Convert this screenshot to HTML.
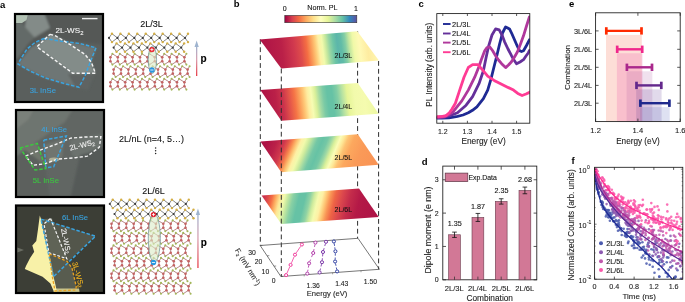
<!DOCTYPE html>
<html><head><meta charset="utf-8"><style>
html,body{margin:0;padding:0;background:#fff;}
svg{display:block;will-change:transform;}
text{font-family:"Liberation Sans", sans-serif;}
</style></head><body>
<svg width="685" height="302" viewBox="0 0 685 302" style='font-family:"Liberation Sans", sans-serif'>
<rect width="685" height="302" fill="#fff"/>
<text x="0.00" y="7.60" font-size="9.5" text-anchor="start" fill="#000" font-weight="bold" >a</text>
<text x="233.80" y="7.00" font-size="9.5" text-anchor="start" fill="#000" font-weight="bold" >b</text>
<text x="418.60" y="6.90" font-size="9.5" text-anchor="start" fill="#000" font-weight="bold" >c</text>
<text x="421.80" y="165.10" font-size="9.5" text-anchor="start" fill="#000" font-weight="bold" >d</text>
<text x="569.00" y="7.00" font-size="9.5" text-anchor="start" fill="#000" font-weight="bold" >e</text>
<text x="571.50" y="163.80" font-size="9.5" text-anchor="start" fill="#000" font-weight="bold" >f</text>
<defs>
<clipPath id="ph1"><rect x="15" y="14" width="88" height="88"/></clipPath>
<clipPath id="ph2"><rect x="16" y="110" width="88" height="87"/></clipPath>
<clipPath id="ph3"><rect x="16" y="205.5" width="88" height="87.5"/></clipPath>
<linearGradient id="arrg" x1="0" y1="1" x2="0" y2="0"><stop offset="0" stop-color="#e8404a"/><stop offset="0.55" stop-color="#d9a0b0"/><stop offset="1" stop-color="#9fb4cf"/></linearGradient>
</defs>
<defs><filter id="blr" x="-10%" y="-10%" width="120%" height="120%"><feGaussianBlur stdDeviation="1.3"/></filter><filter id="blr2" x="-30%" y="-30%" width="160%" height="160%"><feGaussianBlur stdDeviation="0.6"/></filter></defs>
<g clip-path="url(#ph1)">
<rect x="14" y="13" width="90" height="90" fill="#5a5f5d"/>
<g filter="url(#blr)">
<polygon points="10.00,10.00 110.00,10.00 110.00,45.00 60.00,40.00 44.00,38.00 18.00,61.00 10.00,66.00" fill="#545957"/>
<polygon points="10.00,22.00 22.00,23.00 25.00,27.00 34.50,37.50 28.00,44.00 18.00,58.00 10.00,62.00" fill="#646a68"/>
<polygon points="27.00,10.00 43.00,10.00 50.00,28.00 34.50,37.50 25.00,27.00" fill="#838b88"/>
<polygon points="18.00,64.00 30.00,48.00 44.00,39.00 60.00,41.00 80.00,44.00 96.00,48.00 92.00,60.00 85.00,76.00 79.00,88.00 66.00,84.00 45.00,78.00 28.00,70.00" fill="#6e7674"/>
<polygon points="50.00,34.50 56.00,36.00 71.00,45.00 85.00,54.60 91.40,62.40 95.40,73.20 72.70,73.20 37.00,46.80" fill="#838c89"/>
<polygon points="68.00,74.00 95.00,74.00 88.00,90.00 76.00,88.00" fill="#5e6462"/>
</g>
<polygon points="15.00,14.00 28.00,14.00 26.50,20.00 22.00,23.00 15.00,23.00" fill="#b2c2b4" filter="url(#blr2)"/>
</g>
<rect x="15" y="14" width="88" height="88" fill="none" stroke="#000" stroke-width="2.2"/>
<line x1="82.00" y1="18.60" x2="97.50" y2="18.60" stroke="#f0f0f0" stroke-width="1.4"/>
<polyline points="44.00,38.50 60.00,41.00 80.00,43.50 96.00,47.80 91.00,60.00 85.00,76.00 79.00,87.30 66.00,84.00 45.50,78.00 30.00,71.00 18.00,64.00 22.00,57.00 27.00,49.00 35.00,42.50 44.00,38.50" fill="none" stroke="#3aa4e0" stroke-width="1.5" stroke-dasharray="3.5,1.8"/>
<polyline points="50.00,34.30 55.60,35.90 71.10,45.20 85.10,54.60 91.40,62.40 95.40,73.20 72.70,73.20 36.90,46.80 50.00,34.30" fill="none" stroke="#f4f4f4" stroke-width="1.4" stroke-dasharray="3.2,2"/>
<text x="55.40" y="32.90" font-size="8.1" text-anchor="start" fill="#f4f4f4" font-weight="normal" stroke="#f4f4f4" stroke-width="0.1" >2L-WS<tspan font-size="5.8" dy="1.8">2</tspan></text>
<text x="29.70" y="92.90" font-size="7.7" text-anchor="start" fill="#3aa4e0" font-weight="normal" stroke="#3aa4e0" stroke-width="0.1" >3L InSe</text>
<g clip-path="url(#ph2)">
<rect x="15" y="109" width="90" height="89" fill="#60656"/>
<rect x="15" y="109" width="90" height="89" fill="#616663"/>
<g filter="url(#blr)">
<polygon points="12.00,106.00 75.00,106.00 65.00,122.00 45.00,136.00 25.00,150.00 12.00,160.00" fill="#6e746f"/>
<polygon points="12.00,106.00 36.00,106.00 28.00,120.00 12.00,132.00" fill="#7a807a"/>
<polygon points="20.00,146.00 37.00,143.00 45.00,168.00 35.00,170.00" fill="#70766c"/>
<polygon points="72.00,140.00 100.00,136.00 99.00,147.00 87.00,156.00 75.00,157.00" fill="#6f756f"/>
<polygon points="12.00,160.00 25.00,150.00 45.00,165.00 50.00,200.00 12.00,200.00" fill="#5b605d"/>
<polygon points="80.00,155.00 108.00,145.00 108.00,200.00 70.00,200.00" fill="#555a58"/>
<polygon points="70.00,140.00 101.00,134.00 101.00,146.00 88.00,153.00 72.00,156.00" fill="#6c726e"/>
<polygon points="44.00,145.00 64.00,139.00 62.00,158.00 47.00,164.00" fill="#6f756f"/>
</g>
<ellipse cx="54" cy="159.5" rx="5" ry="2" fill="#b0b098" filter="url(#blr2)"/>
</g>
<rect x="16" y="110" width="88" height="87" fill="none" stroke="#000" stroke-width="2.2"/>
<polyline points="25.50,156.20 40.80,149.80 54.70,144.80 70.70,138.10 85.00,137.00 100.90,136.60 99.30,147.20 93.00,152.00 87.30,156.20 75.30,157.70 57.20,159.20 45.20,163.70 33.10,165.20 25.50,156.20" fill="none" stroke="#f4f4f4" stroke-width="1.4" stroke-dasharray="3.2,2"/>
<polyline points="43.80,140.00 66.30,136.00 53.70,166.70 45.80,167.70 43.80,140.00" fill="none" stroke="#3aa4e0" stroke-width="1.5" stroke-dasharray="3.5,1.8"/>
<polyline points="20.00,148.00 37.30,143.40 45.80,168.70 35.00,170.00 20.00,148.00" fill="none" stroke="#3cc840" stroke-width="1.5" stroke-dasharray="3.5,1.8"/>
<text x="41.20" y="131.60" font-size="7.6" text-anchor="start" fill="#3aa4e0" font-weight="normal" stroke="#3aa4e0" stroke-width="0.1" >4L InSe</text>
<text x="32.80" y="182.60" font-size="7.7" text-anchor="start" fill="#3cc840" font-weight="normal" stroke="#3cc840" stroke-width="0.1" >5L InSe</text>
<text x="70.30" y="150.50" font-size="7.4" text-anchor="start" fill="#f2f2f2" font-weight="normal" stroke="#f2f2f2" stroke-width="0.1" transform="rotate(-14 70.3 150.5)">2L-WS<tspan font-size="5.4" dy="1.6">2</tspan></text>
<g clip-path="url(#ph3)">
<rect x="15" y="204.5" width="90" height="90" fill="#3c3e36"/>
<g filter="url(#blr2)">
<polygon points="41.00,219.00 95.50,236.20 66.80,262.70 53.50,276.70" fill="#52564b"/>
<polygon points="44.00,219.00 52.00,218.50 67.00,259.00 49.00,253.00" fill="#5f6357"/>
<polygon points="49.30,253.90 67.00,261.30 72.00,268.00 76.20,286.40 76.00,290.00 55.00,291.00 52.00,275.00" fill="#585b50"/>
<polygon points="54.00,288.50 79.00,288.50 80.00,295.00 54.00,295.00" fill="#c8c48a"/>
<polygon points="39.80,215.50 41.00,219.00 44.50,235.00 47.50,248.70 50.50,261.00 53.50,276.70 55.50,285.00 57.50,295.00 54.00,295.00 53.50,290.70 50.40,283.50 42.60,276.70 31.70,272.00 24.80,268.90 26.10,265.80 30.10,258.00 34.20,251.80 32.30,245.60 36.30,240.90 37.90,230.00" fill="#f8f1a8"/>
<polygon points="17.30,247.50 24.00,250.00 17.30,252.50" fill="#6a6d63"/>
</g>
</g>
<rect x="16" y="205.5" width="88" height="87.5" fill="none" stroke="#000" stroke-width="2.2"/>
<polyline points="41.00,219.10 95.50,236.20 53.50,276.70 41.00,219.10" fill="none" stroke="#3aa4e0" stroke-width="1.5" stroke-dasharray="3.5,1.8"/>
<polyline points="50.50,218.50 66.80,258.70 48.90,252.70 44.00,223.90 50.50,218.50" fill="none" stroke="#f4f4f4" stroke-width="1.2" stroke-dasharray="2.8,1.8"/>
<polyline points="49.30,253.90 67.00,261.30 72.00,268.00 76.20,286.40 76.00,290.00 55.00,291.00 52.00,275.00 49.30,253.90" fill="none" stroke="#e8a020" stroke-width="1.3" stroke-dasharray="2.8,1.8"/>
<text x="62.10" y="219.60" font-size="7.6" text-anchor="start" fill="#3aa4e0" font-weight="normal" stroke="#3aa4e0" stroke-width="0.1" >6L InSe</text>
<text x="66.00" y="240.90" font-size="7.4" text-anchor="middle" fill="#f2f2f2" font-weight="normal" stroke="#f2f2f2" stroke-width="0.1" dominant-baseline="central" transform="rotate(78 66 240.9)">2L-WS<tspan font-size="5.4" dy="1.6">2</tspan></text>
<text x="78.00" y="274.60" font-size="7.6" text-anchor="middle" fill="#f2b420" font-weight="normal" stroke="#f2b420" stroke-width="0.1" dominant-baseline="central" transform="rotate(74 78 274.6)">3L-WS<tspan font-size="5.4" dy="1.6">2</tspan></text>
<line x1="109.00" y1="37.90" x2="111.95" y2="33.70" stroke="#333" stroke-width="0.6"/>
<line x1="109.00" y1="37.90" x2="111.95" y2="42.10" stroke="#333" stroke-width="0.6"/>
<line x1="111.95" y1="33.70" x2="117.45" y2="37.90" stroke="#333" stroke-width="0.6"/>
<line x1="111.95" y1="42.10" x2="117.45" y2="37.90" stroke="#333" stroke-width="0.6"/>
<line x1="117.45" y1="37.90" x2="120.40" y2="33.70" stroke="#333" stroke-width="0.6"/>
<line x1="117.45" y1="37.90" x2="120.40" y2="42.10" stroke="#333" stroke-width="0.6"/>
<line x1="120.40" y1="33.70" x2="125.90" y2="37.90" stroke="#333" stroke-width="0.6"/>
<line x1="120.40" y1="42.10" x2="125.90" y2="37.90" stroke="#333" stroke-width="0.6"/>
<line x1="125.90" y1="37.90" x2="128.85" y2="33.70" stroke="#333" stroke-width="0.6"/>
<line x1="125.90" y1="37.90" x2="128.85" y2="42.10" stroke="#333" stroke-width="0.6"/>
<line x1="128.85" y1="33.70" x2="134.35" y2="37.90" stroke="#333" stroke-width="0.6"/>
<line x1="128.85" y1="42.10" x2="134.35" y2="37.90" stroke="#333" stroke-width="0.6"/>
<line x1="134.35" y1="37.90" x2="137.30" y2="33.70" stroke="#333" stroke-width="0.6"/>
<line x1="134.35" y1="37.90" x2="137.30" y2="42.10" stroke="#333" stroke-width="0.6"/>
<line x1="137.30" y1="33.70" x2="142.80" y2="37.90" stroke="#333" stroke-width="0.6"/>
<line x1="137.30" y1="42.10" x2="142.80" y2="37.90" stroke="#333" stroke-width="0.6"/>
<line x1="142.80" y1="37.90" x2="145.75" y2="33.70" stroke="#333" stroke-width="0.6"/>
<line x1="142.80" y1="37.90" x2="145.75" y2="42.10" stroke="#333" stroke-width="0.6"/>
<line x1="145.75" y1="33.70" x2="151.25" y2="37.90" stroke="#333" stroke-width="0.6"/>
<line x1="145.75" y1="42.10" x2="151.25" y2="37.90" stroke="#333" stroke-width="0.6"/>
<line x1="151.25" y1="37.90" x2="154.20" y2="33.70" stroke="#333" stroke-width="0.6"/>
<line x1="151.25" y1="37.90" x2="154.20" y2="42.10" stroke="#333" stroke-width="0.6"/>
<line x1="154.20" y1="33.70" x2="159.70" y2="37.90" stroke="#333" stroke-width="0.6"/>
<line x1="154.20" y1="42.10" x2="159.70" y2="37.90" stroke="#333" stroke-width="0.6"/>
<line x1="159.70" y1="37.90" x2="162.65" y2="33.70" stroke="#333" stroke-width="0.6"/>
<line x1="159.70" y1="37.90" x2="162.65" y2="42.10" stroke="#333" stroke-width="0.6"/>
<line x1="162.65" y1="33.70" x2="168.15" y2="37.90" stroke="#333" stroke-width="0.6"/>
<line x1="162.65" y1="42.10" x2="168.15" y2="37.90" stroke="#333" stroke-width="0.6"/>
<line x1="168.15" y1="37.90" x2="171.10" y2="33.70" stroke="#333" stroke-width="0.6"/>
<line x1="168.15" y1="37.90" x2="171.10" y2="42.10" stroke="#333" stroke-width="0.6"/>
<line x1="171.10" y1="33.70" x2="176.60" y2="37.90" stroke="#333" stroke-width="0.6"/>
<line x1="171.10" y1="42.10" x2="176.60" y2="37.90" stroke="#333" stroke-width="0.6"/>
<line x1="176.60" y1="37.90" x2="179.55" y2="33.70" stroke="#333" stroke-width="0.6"/>
<line x1="176.60" y1="37.90" x2="179.55" y2="42.10" stroke="#333" stroke-width="0.6"/>
<line x1="179.55" y1="33.70" x2="185.05" y2="37.90" stroke="#333" stroke-width="0.6"/>
<line x1="179.55" y1="42.10" x2="185.05" y2="37.90" stroke="#333" stroke-width="0.6"/>
<line x1="185.05" y1="37.90" x2="188.00" y2="33.70" stroke="#333" stroke-width="0.6"/>
<line x1="185.05" y1="37.90" x2="188.00" y2="42.10" stroke="#333" stroke-width="0.6"/>
<circle cx="111.95" cy="33.70" r="1.2" fill="#d4ae44"/>
<circle cx="111.95" cy="42.10" r="1.2" fill="#d4ae44"/>
<circle cx="109.00" cy="37.90" r="1.05" fill="#3a3a3a"/>
<circle cx="120.40" cy="33.70" r="1.2" fill="#d4ae44"/>
<circle cx="120.40" cy="42.10" r="1.2" fill="#d4ae44"/>
<circle cx="117.45" cy="37.90" r="1.05" fill="#3a3a3a"/>
<circle cx="128.85" cy="33.70" r="1.2" fill="#d4ae44"/>
<circle cx="128.85" cy="42.10" r="1.2" fill="#d4ae44"/>
<circle cx="125.90" cy="37.90" r="1.05" fill="#3a3a3a"/>
<circle cx="137.30" cy="33.70" r="1.2" fill="#d4ae44"/>
<circle cx="137.30" cy="42.10" r="1.2" fill="#d4ae44"/>
<circle cx="134.35" cy="37.90" r="1.05" fill="#3a3a3a"/>
<circle cx="145.75" cy="33.70" r="1.2" fill="#d4ae44"/>
<circle cx="145.75" cy="42.10" r="1.2" fill="#d4ae44"/>
<circle cx="142.80" cy="37.90" r="1.05" fill="#3a3a3a"/>
<circle cx="154.20" cy="33.70" r="1.2" fill="#d4ae44"/>
<circle cx="154.20" cy="42.10" r="1.2" fill="#d4ae44"/>
<circle cx="151.25" cy="37.90" r="1.05" fill="#3a3a3a"/>
<circle cx="162.65" cy="33.70" r="1.2" fill="#d4ae44"/>
<circle cx="162.65" cy="42.10" r="1.2" fill="#d4ae44"/>
<circle cx="159.70" cy="37.90" r="1.05" fill="#3a3a3a"/>
<circle cx="171.10" cy="33.70" r="1.2" fill="#d4ae44"/>
<circle cx="171.10" cy="42.10" r="1.2" fill="#d4ae44"/>
<circle cx="168.15" cy="37.90" r="1.05" fill="#3a3a3a"/>
<circle cx="179.55" cy="33.70" r="1.2" fill="#d4ae44"/>
<circle cx="179.55" cy="42.10" r="1.2" fill="#d4ae44"/>
<circle cx="176.60" cy="37.90" r="1.05" fill="#3a3a3a"/>
<circle cx="188.00" cy="33.70" r="1.2" fill="#d4ae44"/>
<circle cx="188.00" cy="42.10" r="1.2" fill="#d4ae44"/>
<circle cx="185.05" cy="37.90" r="1.05" fill="#3a3a3a"/>
<line x1="113.60" y1="47.60" x2="116.55" y2="43.40" stroke="#333" stroke-width="0.6"/>
<line x1="113.60" y1="47.60" x2="116.55" y2="51.80" stroke="#333" stroke-width="0.6"/>
<line x1="116.55" y1="43.40" x2="122.05" y2="47.60" stroke="#333" stroke-width="0.6"/>
<line x1="116.55" y1="51.80" x2="122.05" y2="47.60" stroke="#333" stroke-width="0.6"/>
<line x1="122.05" y1="47.60" x2="125.00" y2="43.40" stroke="#333" stroke-width="0.6"/>
<line x1="122.05" y1="47.60" x2="125.00" y2="51.80" stroke="#333" stroke-width="0.6"/>
<line x1="125.00" y1="43.40" x2="130.50" y2="47.60" stroke="#333" stroke-width="0.6"/>
<line x1="125.00" y1="51.80" x2="130.50" y2="47.60" stroke="#333" stroke-width="0.6"/>
<line x1="130.50" y1="47.60" x2="133.45" y2="43.40" stroke="#333" stroke-width="0.6"/>
<line x1="130.50" y1="47.60" x2="133.45" y2="51.80" stroke="#333" stroke-width="0.6"/>
<line x1="133.45" y1="43.40" x2="138.95" y2="47.60" stroke="#333" stroke-width="0.6"/>
<line x1="133.45" y1="51.80" x2="138.95" y2="47.60" stroke="#333" stroke-width="0.6"/>
<line x1="138.95" y1="47.60" x2="141.90" y2="43.40" stroke="#333" stroke-width="0.6"/>
<line x1="138.95" y1="47.60" x2="141.90" y2="51.80" stroke="#333" stroke-width="0.6"/>
<line x1="141.90" y1="43.40" x2="147.40" y2="47.60" stroke="#333" stroke-width="0.6"/>
<line x1="141.90" y1="51.80" x2="147.40" y2="47.60" stroke="#333" stroke-width="0.6"/>
<line x1="147.40" y1="47.60" x2="150.35" y2="43.40" stroke="#333" stroke-width="0.6"/>
<line x1="147.40" y1="47.60" x2="150.35" y2="51.80" stroke="#333" stroke-width="0.6"/>
<line x1="150.35" y1="43.40" x2="155.85" y2="47.60" stroke="#333" stroke-width="0.6"/>
<line x1="150.35" y1="51.80" x2="155.85" y2="47.60" stroke="#333" stroke-width="0.6"/>
<line x1="155.85" y1="47.60" x2="158.80" y2="43.40" stroke="#333" stroke-width="0.6"/>
<line x1="155.85" y1="47.60" x2="158.80" y2="51.80" stroke="#333" stroke-width="0.6"/>
<line x1="158.80" y1="43.40" x2="164.30" y2="47.60" stroke="#333" stroke-width="0.6"/>
<line x1="158.80" y1="51.80" x2="164.30" y2="47.60" stroke="#333" stroke-width="0.6"/>
<line x1="164.30" y1="47.60" x2="167.25" y2="43.40" stroke="#333" stroke-width="0.6"/>
<line x1="164.30" y1="47.60" x2="167.25" y2="51.80" stroke="#333" stroke-width="0.6"/>
<line x1="167.25" y1="43.40" x2="172.75" y2="47.60" stroke="#333" stroke-width="0.6"/>
<line x1="167.25" y1="51.80" x2="172.75" y2="47.60" stroke="#333" stroke-width="0.6"/>
<line x1="172.75" y1="47.60" x2="175.70" y2="43.40" stroke="#333" stroke-width="0.6"/>
<line x1="172.75" y1="47.60" x2="175.70" y2="51.80" stroke="#333" stroke-width="0.6"/>
<line x1="175.70" y1="43.40" x2="181.20" y2="47.60" stroke="#333" stroke-width="0.6"/>
<line x1="175.70" y1="51.80" x2="181.20" y2="47.60" stroke="#333" stroke-width="0.6"/>
<line x1="181.20" y1="47.60" x2="184.15" y2="43.40" stroke="#333" stroke-width="0.6"/>
<line x1="181.20" y1="47.60" x2="184.15" y2="51.80" stroke="#333" stroke-width="0.6"/>
<circle cx="116.55" cy="43.40" r="1.2" fill="#d4ae44"/>
<circle cx="116.55" cy="51.80" r="1.2" fill="#d4ae44"/>
<circle cx="113.60" cy="47.60" r="1.05" fill="#3a3a3a"/>
<circle cx="125.00" cy="43.40" r="1.2" fill="#d4ae44"/>
<circle cx="125.00" cy="51.80" r="1.2" fill="#d4ae44"/>
<circle cx="122.05" cy="47.60" r="1.05" fill="#3a3a3a"/>
<circle cx="133.45" cy="43.40" r="1.2" fill="#d4ae44"/>
<circle cx="133.45" cy="51.80" r="1.2" fill="#d4ae44"/>
<circle cx="130.50" cy="47.60" r="1.05" fill="#3a3a3a"/>
<circle cx="141.90" cy="43.40" r="1.2" fill="#d4ae44"/>
<circle cx="141.90" cy="51.80" r="1.2" fill="#d4ae44"/>
<circle cx="138.95" cy="47.60" r="1.05" fill="#3a3a3a"/>
<circle cx="150.35" cy="43.40" r="1.2" fill="#d4ae44"/>
<circle cx="150.35" cy="51.80" r="1.2" fill="#d4ae44"/>
<circle cx="147.40" cy="47.60" r="1.05" fill="#3a3a3a"/>
<circle cx="158.80" cy="43.40" r="1.2" fill="#d4ae44"/>
<circle cx="158.80" cy="51.80" r="1.2" fill="#d4ae44"/>
<circle cx="155.85" cy="47.60" r="1.05" fill="#3a3a3a"/>
<circle cx="167.25" cy="43.40" r="1.2" fill="#d4ae44"/>
<circle cx="167.25" cy="51.80" r="1.2" fill="#d4ae44"/>
<circle cx="164.30" cy="47.60" r="1.05" fill="#3a3a3a"/>
<circle cx="175.70" cy="43.40" r="1.2" fill="#d4ae44"/>
<circle cx="175.70" cy="51.80" r="1.2" fill="#d4ae44"/>
<circle cx="172.75" cy="47.60" r="1.05" fill="#3a3a3a"/>
<circle cx="184.15" cy="43.40" r="1.2" fill="#d4ae44"/>
<circle cx="184.15" cy="51.80" r="1.2" fill="#d4ae44"/>
<circle cx="181.20" cy="47.60" r="1.05" fill="#3a3a3a"/>
<line x1="110.40" y1="57.20" x2="110.40" y2="61.20" stroke="#9c5c5c" stroke-width="0.72"/>
<line x1="110.40" y1="57.20" x2="112.40" y2="53.80" stroke="#9c5c5c" stroke-width="0.72"/>
<line x1="110.40" y1="61.20" x2="112.40" y2="64.60" stroke="#9c5c5c" stroke-width="0.72"/>
<line x1="112.40" y1="53.80" x2="117.80" y2="57.20" stroke="#9c5c5c" stroke-width="0.72"/>
<line x1="112.40" y1="64.60" x2="117.80" y2="61.20" stroke="#9c5c5c" stroke-width="0.72"/>
<line x1="117.80" y1="57.20" x2="117.80" y2="61.20" stroke="#9c5c5c" stroke-width="0.72"/>
<line x1="117.80" y1="57.20" x2="119.80" y2="53.80" stroke="#9c5c5c" stroke-width="0.72"/>
<line x1="117.80" y1="61.20" x2="119.80" y2="64.60" stroke="#9c5c5c" stroke-width="0.72"/>
<line x1="119.80" y1="53.80" x2="125.20" y2="57.20" stroke="#9c5c5c" stroke-width="0.72"/>
<line x1="119.80" y1="64.60" x2="125.20" y2="61.20" stroke="#9c5c5c" stroke-width="0.72"/>
<line x1="125.20" y1="57.20" x2="125.20" y2="61.20" stroke="#9c5c5c" stroke-width="0.72"/>
<line x1="125.20" y1="57.20" x2="127.20" y2="53.80" stroke="#9c5c5c" stroke-width="0.72"/>
<line x1="125.20" y1="61.20" x2="127.20" y2="64.60" stroke="#9c5c5c" stroke-width="0.72"/>
<line x1="127.20" y1="53.80" x2="132.60" y2="57.20" stroke="#9c5c5c" stroke-width="0.72"/>
<line x1="127.20" y1="64.60" x2="132.60" y2="61.20" stroke="#9c5c5c" stroke-width="0.72"/>
<line x1="132.60" y1="57.20" x2="132.60" y2="61.20" stroke="#9c5c5c" stroke-width="0.72"/>
<line x1="132.60" y1="57.20" x2="134.60" y2="53.80" stroke="#9c5c5c" stroke-width="0.72"/>
<line x1="132.60" y1="61.20" x2="134.60" y2="64.60" stroke="#9c5c5c" stroke-width="0.72"/>
<line x1="134.60" y1="53.80" x2="140.00" y2="57.20" stroke="#9c5c5c" stroke-width="0.72"/>
<line x1="134.60" y1="64.60" x2="140.00" y2="61.20" stroke="#9c5c5c" stroke-width="0.72"/>
<line x1="140.00" y1="57.20" x2="140.00" y2="61.20" stroke="#9c5c5c" stroke-width="0.72"/>
<line x1="140.00" y1="57.20" x2="142.00" y2="53.80" stroke="#9c5c5c" stroke-width="0.72"/>
<line x1="140.00" y1="61.20" x2="142.00" y2="64.60" stroke="#9c5c5c" stroke-width="0.72"/>
<line x1="142.00" y1="53.80" x2="147.40" y2="57.20" stroke="#9c5c5c" stroke-width="0.72"/>
<line x1="142.00" y1="64.60" x2="147.40" y2="61.20" stroke="#9c5c5c" stroke-width="0.72"/>
<line x1="147.40" y1="57.20" x2="147.40" y2="61.20" stroke="#9c5c5c" stroke-width="0.72"/>
<line x1="147.40" y1="57.20" x2="149.40" y2="53.80" stroke="#9c5c5c" stroke-width="0.72"/>
<line x1="147.40" y1="61.20" x2="149.40" y2="64.60" stroke="#9c5c5c" stroke-width="0.72"/>
<line x1="149.40" y1="53.80" x2="154.80" y2="57.20" stroke="#9c5c5c" stroke-width="0.72"/>
<line x1="149.40" y1="64.60" x2="154.80" y2="61.20" stroke="#9c5c5c" stroke-width="0.72"/>
<line x1="154.80" y1="57.20" x2="154.80" y2="61.20" stroke="#9c5c5c" stroke-width="0.72"/>
<line x1="154.80" y1="57.20" x2="156.80" y2="53.80" stroke="#9c5c5c" stroke-width="0.72"/>
<line x1="154.80" y1="61.20" x2="156.80" y2="64.60" stroke="#9c5c5c" stroke-width="0.72"/>
<line x1="156.80" y1="53.80" x2="162.20" y2="57.20" stroke="#9c5c5c" stroke-width="0.72"/>
<line x1="156.80" y1="64.60" x2="162.20" y2="61.20" stroke="#9c5c5c" stroke-width="0.72"/>
<line x1="162.20" y1="57.20" x2="162.20" y2="61.20" stroke="#9c5c5c" stroke-width="0.72"/>
<line x1="162.20" y1="57.20" x2="164.20" y2="53.80" stroke="#9c5c5c" stroke-width="0.72"/>
<line x1="162.20" y1="61.20" x2="164.20" y2="64.60" stroke="#9c5c5c" stroke-width="0.72"/>
<line x1="164.20" y1="53.80" x2="169.60" y2="57.20" stroke="#9c5c5c" stroke-width="0.72"/>
<line x1="164.20" y1="64.60" x2="169.60" y2="61.20" stroke="#9c5c5c" stroke-width="0.72"/>
<line x1="169.60" y1="57.20" x2="169.60" y2="61.20" stroke="#9c5c5c" stroke-width="0.72"/>
<line x1="169.60" y1="57.20" x2="171.60" y2="53.80" stroke="#9c5c5c" stroke-width="0.72"/>
<line x1="169.60" y1="61.20" x2="171.60" y2="64.60" stroke="#9c5c5c" stroke-width="0.72"/>
<line x1="171.60" y1="53.80" x2="177.00" y2="57.20" stroke="#9c5c5c" stroke-width="0.72"/>
<line x1="171.60" y1="64.60" x2="177.00" y2="61.20" stroke="#9c5c5c" stroke-width="0.72"/>
<line x1="177.00" y1="57.20" x2="177.00" y2="61.20" stroke="#9c5c5c" stroke-width="0.72"/>
<line x1="177.00" y1="57.20" x2="179.00" y2="53.80" stroke="#9c5c5c" stroke-width="0.72"/>
<line x1="177.00" y1="61.20" x2="179.00" y2="64.60" stroke="#9c5c5c" stroke-width="0.72"/>
<line x1="179.00" y1="53.80" x2="184.40" y2="57.20" stroke="#9c5c5c" stroke-width="0.72"/>
<line x1="179.00" y1="64.60" x2="184.40" y2="61.20" stroke="#9c5c5c" stroke-width="0.72"/>
<line x1="184.40" y1="57.20" x2="184.40" y2="61.20" stroke="#9c5c5c" stroke-width="0.72"/>
<line x1="184.40" y1="57.20" x2="186.40" y2="53.80" stroke="#9c5c5c" stroke-width="0.72"/>
<line x1="184.40" y1="61.20" x2="186.40" y2="64.60" stroke="#9c5c5c" stroke-width="0.72"/>
<circle cx="110.40" cy="57.20" r="1.3" fill="#c46262"/>
<circle cx="110.40" cy="61.20" r="1.3" fill="#c46262"/>
<circle cx="112.40" cy="53.80" r="1.05" fill="#a2b858"/>
<circle cx="112.40" cy="64.60" r="1.05" fill="#a2b858"/>
<circle cx="117.80" cy="57.20" r="1.3" fill="#c46262"/>
<circle cx="117.80" cy="61.20" r="1.3" fill="#c46262"/>
<circle cx="119.80" cy="53.80" r="1.05" fill="#a2b858"/>
<circle cx="119.80" cy="64.60" r="1.05" fill="#a2b858"/>
<circle cx="125.20" cy="57.20" r="1.3" fill="#c46262"/>
<circle cx="125.20" cy="61.20" r="1.3" fill="#c46262"/>
<circle cx="127.20" cy="53.80" r="1.05" fill="#a2b858"/>
<circle cx="127.20" cy="64.60" r="1.05" fill="#a2b858"/>
<circle cx="132.60" cy="57.20" r="1.3" fill="#c46262"/>
<circle cx="132.60" cy="61.20" r="1.3" fill="#c46262"/>
<circle cx="134.60" cy="53.80" r="1.05" fill="#a2b858"/>
<circle cx="134.60" cy="64.60" r="1.05" fill="#a2b858"/>
<circle cx="140.00" cy="57.20" r="1.3" fill="#c46262"/>
<circle cx="140.00" cy="61.20" r="1.3" fill="#c46262"/>
<circle cx="142.00" cy="53.80" r="1.05" fill="#a2b858"/>
<circle cx="142.00" cy="64.60" r="1.05" fill="#a2b858"/>
<circle cx="147.40" cy="57.20" r="1.3" fill="#c46262"/>
<circle cx="147.40" cy="61.20" r="1.3" fill="#c46262"/>
<circle cx="149.40" cy="53.80" r="1.05" fill="#a2b858"/>
<circle cx="149.40" cy="64.60" r="1.05" fill="#a2b858"/>
<circle cx="154.80" cy="57.20" r="1.3" fill="#c46262"/>
<circle cx="154.80" cy="61.20" r="1.3" fill="#c46262"/>
<circle cx="156.80" cy="53.80" r="1.05" fill="#a2b858"/>
<circle cx="156.80" cy="64.60" r="1.05" fill="#a2b858"/>
<circle cx="162.20" cy="57.20" r="1.3" fill="#c46262"/>
<circle cx="162.20" cy="61.20" r="1.3" fill="#c46262"/>
<circle cx="164.20" cy="53.80" r="1.05" fill="#a2b858"/>
<circle cx="164.20" cy="64.60" r="1.05" fill="#a2b858"/>
<circle cx="169.60" cy="57.20" r="1.3" fill="#c46262"/>
<circle cx="169.60" cy="61.20" r="1.3" fill="#c46262"/>
<circle cx="171.60" cy="53.80" r="1.05" fill="#a2b858"/>
<circle cx="171.60" cy="64.60" r="1.05" fill="#a2b858"/>
<circle cx="177.00" cy="57.20" r="1.3" fill="#c46262"/>
<circle cx="177.00" cy="61.20" r="1.3" fill="#c46262"/>
<circle cx="179.00" cy="53.80" r="1.05" fill="#a2b858"/>
<circle cx="179.00" cy="64.60" r="1.05" fill="#a2b858"/>
<circle cx="184.40" cy="57.20" r="1.3" fill="#c46262"/>
<circle cx="184.40" cy="61.20" r="1.3" fill="#c46262"/>
<circle cx="186.40" cy="53.80" r="1.05" fill="#a2b858"/>
<circle cx="186.40" cy="64.60" r="1.05" fill="#a2b858"/>
<line x1="113.60" y1="69.60" x2="113.60" y2="73.60" stroke="#9c5c5c" stroke-width="0.72"/>
<line x1="113.60" y1="69.60" x2="115.60" y2="66.20" stroke="#9c5c5c" stroke-width="0.72"/>
<line x1="113.60" y1="73.60" x2="115.60" y2="77.00" stroke="#9c5c5c" stroke-width="0.72"/>
<line x1="115.60" y1="66.20" x2="121.00" y2="69.60" stroke="#9c5c5c" stroke-width="0.72"/>
<line x1="115.60" y1="77.00" x2="121.00" y2="73.60" stroke="#9c5c5c" stroke-width="0.72"/>
<line x1="121.00" y1="69.60" x2="121.00" y2="73.60" stroke="#9c5c5c" stroke-width="0.72"/>
<line x1="121.00" y1="69.60" x2="123.00" y2="66.20" stroke="#9c5c5c" stroke-width="0.72"/>
<line x1="121.00" y1="73.60" x2="123.00" y2="77.00" stroke="#9c5c5c" stroke-width="0.72"/>
<line x1="123.00" y1="66.20" x2="128.40" y2="69.60" stroke="#9c5c5c" stroke-width="0.72"/>
<line x1="123.00" y1="77.00" x2="128.40" y2="73.60" stroke="#9c5c5c" stroke-width="0.72"/>
<line x1="128.40" y1="69.60" x2="128.40" y2="73.60" stroke="#9c5c5c" stroke-width="0.72"/>
<line x1="128.40" y1="69.60" x2="130.40" y2="66.20" stroke="#9c5c5c" stroke-width="0.72"/>
<line x1="128.40" y1="73.60" x2="130.40" y2="77.00" stroke="#9c5c5c" stroke-width="0.72"/>
<line x1="130.40" y1="66.20" x2="135.80" y2="69.60" stroke="#9c5c5c" stroke-width="0.72"/>
<line x1="130.40" y1="77.00" x2="135.80" y2="73.60" stroke="#9c5c5c" stroke-width="0.72"/>
<line x1="135.80" y1="69.60" x2="135.80" y2="73.60" stroke="#9c5c5c" stroke-width="0.72"/>
<line x1="135.80" y1="69.60" x2="137.80" y2="66.20" stroke="#9c5c5c" stroke-width="0.72"/>
<line x1="135.80" y1="73.60" x2="137.80" y2="77.00" stroke="#9c5c5c" stroke-width="0.72"/>
<line x1="137.80" y1="66.20" x2="143.20" y2="69.60" stroke="#9c5c5c" stroke-width="0.72"/>
<line x1="137.80" y1="77.00" x2="143.20" y2="73.60" stroke="#9c5c5c" stroke-width="0.72"/>
<line x1="143.20" y1="69.60" x2="143.20" y2="73.60" stroke="#9c5c5c" stroke-width="0.72"/>
<line x1="143.20" y1="69.60" x2="145.20" y2="66.20" stroke="#9c5c5c" stroke-width="0.72"/>
<line x1="143.20" y1="73.60" x2="145.20" y2="77.00" stroke="#9c5c5c" stroke-width="0.72"/>
<line x1="145.20" y1="66.20" x2="150.60" y2="69.60" stroke="#9c5c5c" stroke-width="0.72"/>
<line x1="145.20" y1="77.00" x2="150.60" y2="73.60" stroke="#9c5c5c" stroke-width="0.72"/>
<line x1="150.60" y1="69.60" x2="150.60" y2="73.60" stroke="#9c5c5c" stroke-width="0.72"/>
<line x1="150.60" y1="69.60" x2="152.60" y2="66.20" stroke="#9c5c5c" stroke-width="0.72"/>
<line x1="150.60" y1="73.60" x2="152.60" y2="77.00" stroke="#9c5c5c" stroke-width="0.72"/>
<line x1="152.60" y1="66.20" x2="158.00" y2="69.60" stroke="#9c5c5c" stroke-width="0.72"/>
<line x1="152.60" y1="77.00" x2="158.00" y2="73.60" stroke="#9c5c5c" stroke-width="0.72"/>
<line x1="158.00" y1="69.60" x2="158.00" y2="73.60" stroke="#9c5c5c" stroke-width="0.72"/>
<line x1="158.00" y1="69.60" x2="160.00" y2="66.20" stroke="#9c5c5c" stroke-width="0.72"/>
<line x1="158.00" y1="73.60" x2="160.00" y2="77.00" stroke="#9c5c5c" stroke-width="0.72"/>
<line x1="160.00" y1="66.20" x2="165.40" y2="69.60" stroke="#9c5c5c" stroke-width="0.72"/>
<line x1="160.00" y1="77.00" x2="165.40" y2="73.60" stroke="#9c5c5c" stroke-width="0.72"/>
<line x1="165.40" y1="69.60" x2="165.40" y2="73.60" stroke="#9c5c5c" stroke-width="0.72"/>
<line x1="165.40" y1="69.60" x2="167.40" y2="66.20" stroke="#9c5c5c" stroke-width="0.72"/>
<line x1="165.40" y1="73.60" x2="167.40" y2="77.00" stroke="#9c5c5c" stroke-width="0.72"/>
<line x1="167.40" y1="66.20" x2="172.80" y2="69.60" stroke="#9c5c5c" stroke-width="0.72"/>
<line x1="167.40" y1="77.00" x2="172.80" y2="73.60" stroke="#9c5c5c" stroke-width="0.72"/>
<line x1="172.80" y1="69.60" x2="172.80" y2="73.60" stroke="#9c5c5c" stroke-width="0.72"/>
<line x1="172.80" y1="69.60" x2="174.80" y2="66.20" stroke="#9c5c5c" stroke-width="0.72"/>
<line x1="172.80" y1="73.60" x2="174.80" y2="77.00" stroke="#9c5c5c" stroke-width="0.72"/>
<line x1="174.80" y1="66.20" x2="180.20" y2="69.60" stroke="#9c5c5c" stroke-width="0.72"/>
<line x1="174.80" y1="77.00" x2="180.20" y2="73.60" stroke="#9c5c5c" stroke-width="0.72"/>
<line x1="180.20" y1="69.60" x2="180.20" y2="73.60" stroke="#9c5c5c" stroke-width="0.72"/>
<line x1="180.20" y1="69.60" x2="182.20" y2="66.20" stroke="#9c5c5c" stroke-width="0.72"/>
<line x1="180.20" y1="73.60" x2="182.20" y2="77.00" stroke="#9c5c5c" stroke-width="0.72"/>
<line x1="182.20" y1="66.20" x2="187.60" y2="69.60" stroke="#9c5c5c" stroke-width="0.72"/>
<line x1="182.20" y1="77.00" x2="187.60" y2="73.60" stroke="#9c5c5c" stroke-width="0.72"/>
<line x1="187.60" y1="69.60" x2="187.60" y2="73.60" stroke="#9c5c5c" stroke-width="0.72"/>
<line x1="187.60" y1="69.60" x2="189.60" y2="66.20" stroke="#9c5c5c" stroke-width="0.72"/>
<line x1="187.60" y1="73.60" x2="189.60" y2="77.00" stroke="#9c5c5c" stroke-width="0.72"/>
<circle cx="113.60" cy="69.60" r="1.3" fill="#c46262"/>
<circle cx="113.60" cy="73.60" r="1.3" fill="#c46262"/>
<circle cx="115.60" cy="66.20" r="1.05" fill="#a2b858"/>
<circle cx="115.60" cy="77.00" r="1.05" fill="#a2b858"/>
<circle cx="121.00" cy="69.60" r="1.3" fill="#c46262"/>
<circle cx="121.00" cy="73.60" r="1.3" fill="#c46262"/>
<circle cx="123.00" cy="66.20" r="1.05" fill="#a2b858"/>
<circle cx="123.00" cy="77.00" r="1.05" fill="#a2b858"/>
<circle cx="128.40" cy="69.60" r="1.3" fill="#c46262"/>
<circle cx="128.40" cy="73.60" r="1.3" fill="#c46262"/>
<circle cx="130.40" cy="66.20" r="1.05" fill="#a2b858"/>
<circle cx="130.40" cy="77.00" r="1.05" fill="#a2b858"/>
<circle cx="135.80" cy="69.60" r="1.3" fill="#c46262"/>
<circle cx="135.80" cy="73.60" r="1.3" fill="#c46262"/>
<circle cx="137.80" cy="66.20" r="1.05" fill="#a2b858"/>
<circle cx="137.80" cy="77.00" r="1.05" fill="#a2b858"/>
<circle cx="143.20" cy="69.60" r="1.3" fill="#c46262"/>
<circle cx="143.20" cy="73.60" r="1.3" fill="#c46262"/>
<circle cx="145.20" cy="66.20" r="1.05" fill="#a2b858"/>
<circle cx="145.20" cy="77.00" r="1.05" fill="#a2b858"/>
<circle cx="150.60" cy="69.60" r="1.3" fill="#c46262"/>
<circle cx="150.60" cy="73.60" r="1.3" fill="#c46262"/>
<circle cx="152.60" cy="66.20" r="1.05" fill="#a2b858"/>
<circle cx="152.60" cy="77.00" r="1.05" fill="#a2b858"/>
<circle cx="158.00" cy="69.60" r="1.3" fill="#c46262"/>
<circle cx="158.00" cy="73.60" r="1.3" fill="#c46262"/>
<circle cx="160.00" cy="66.20" r="1.05" fill="#a2b858"/>
<circle cx="160.00" cy="77.00" r="1.05" fill="#a2b858"/>
<circle cx="165.40" cy="69.60" r="1.3" fill="#c46262"/>
<circle cx="165.40" cy="73.60" r="1.3" fill="#c46262"/>
<circle cx="167.40" cy="66.20" r="1.05" fill="#a2b858"/>
<circle cx="167.40" cy="77.00" r="1.05" fill="#a2b858"/>
<circle cx="172.80" cy="69.60" r="1.3" fill="#c46262"/>
<circle cx="172.80" cy="73.60" r="1.3" fill="#c46262"/>
<circle cx="174.80" cy="66.20" r="1.05" fill="#a2b858"/>
<circle cx="174.80" cy="77.00" r="1.05" fill="#a2b858"/>
<circle cx="180.20" cy="69.60" r="1.3" fill="#c46262"/>
<circle cx="180.20" cy="73.60" r="1.3" fill="#c46262"/>
<circle cx="182.20" cy="66.20" r="1.05" fill="#a2b858"/>
<circle cx="182.20" cy="77.00" r="1.05" fill="#a2b858"/>
<circle cx="187.60" cy="69.60" r="1.3" fill="#c46262"/>
<circle cx="187.60" cy="73.60" r="1.3" fill="#c46262"/>
<circle cx="189.60" cy="66.20" r="1.05" fill="#a2b858"/>
<circle cx="189.60" cy="77.00" r="1.05" fill="#a2b858"/>
<line x1="110.40" y1="82.20" x2="110.40" y2="86.20" stroke="#9c5c5c" stroke-width="0.72"/>
<line x1="110.40" y1="82.20" x2="112.40" y2="78.80" stroke="#9c5c5c" stroke-width="0.72"/>
<line x1="110.40" y1="86.20" x2="112.40" y2="89.60" stroke="#9c5c5c" stroke-width="0.72"/>
<line x1="112.40" y1="78.80" x2="117.80" y2="82.20" stroke="#9c5c5c" stroke-width="0.72"/>
<line x1="112.40" y1="89.60" x2="117.80" y2="86.20" stroke="#9c5c5c" stroke-width="0.72"/>
<line x1="117.80" y1="82.20" x2="117.80" y2="86.20" stroke="#9c5c5c" stroke-width="0.72"/>
<line x1="117.80" y1="82.20" x2="119.80" y2="78.80" stroke="#9c5c5c" stroke-width="0.72"/>
<line x1="117.80" y1="86.20" x2="119.80" y2="89.60" stroke="#9c5c5c" stroke-width="0.72"/>
<line x1="119.80" y1="78.80" x2="125.20" y2="82.20" stroke="#9c5c5c" stroke-width="0.72"/>
<line x1="119.80" y1="89.60" x2="125.20" y2="86.20" stroke="#9c5c5c" stroke-width="0.72"/>
<line x1="125.20" y1="82.20" x2="125.20" y2="86.20" stroke="#9c5c5c" stroke-width="0.72"/>
<line x1="125.20" y1="82.20" x2="127.20" y2="78.80" stroke="#9c5c5c" stroke-width="0.72"/>
<line x1="125.20" y1="86.20" x2="127.20" y2="89.60" stroke="#9c5c5c" stroke-width="0.72"/>
<line x1="127.20" y1="78.80" x2="132.60" y2="82.20" stroke="#9c5c5c" stroke-width="0.72"/>
<line x1="127.20" y1="89.60" x2="132.60" y2="86.20" stroke="#9c5c5c" stroke-width="0.72"/>
<line x1="132.60" y1="82.20" x2="132.60" y2="86.20" stroke="#9c5c5c" stroke-width="0.72"/>
<line x1="132.60" y1="82.20" x2="134.60" y2="78.80" stroke="#9c5c5c" stroke-width="0.72"/>
<line x1="132.60" y1="86.20" x2="134.60" y2="89.60" stroke="#9c5c5c" stroke-width="0.72"/>
<line x1="134.60" y1="78.80" x2="140.00" y2="82.20" stroke="#9c5c5c" stroke-width="0.72"/>
<line x1="134.60" y1="89.60" x2="140.00" y2="86.20" stroke="#9c5c5c" stroke-width="0.72"/>
<line x1="140.00" y1="82.20" x2="140.00" y2="86.20" stroke="#9c5c5c" stroke-width="0.72"/>
<line x1="140.00" y1="82.20" x2="142.00" y2="78.80" stroke="#9c5c5c" stroke-width="0.72"/>
<line x1="140.00" y1="86.20" x2="142.00" y2="89.60" stroke="#9c5c5c" stroke-width="0.72"/>
<line x1="142.00" y1="78.80" x2="147.40" y2="82.20" stroke="#9c5c5c" stroke-width="0.72"/>
<line x1="142.00" y1="89.60" x2="147.40" y2="86.20" stroke="#9c5c5c" stroke-width="0.72"/>
<line x1="147.40" y1="82.20" x2="147.40" y2="86.20" stroke="#9c5c5c" stroke-width="0.72"/>
<line x1="147.40" y1="82.20" x2="149.40" y2="78.80" stroke="#9c5c5c" stroke-width="0.72"/>
<line x1="147.40" y1="86.20" x2="149.40" y2="89.60" stroke="#9c5c5c" stroke-width="0.72"/>
<line x1="149.40" y1="78.80" x2="154.80" y2="82.20" stroke="#9c5c5c" stroke-width="0.72"/>
<line x1="149.40" y1="89.60" x2="154.80" y2="86.20" stroke="#9c5c5c" stroke-width="0.72"/>
<line x1="154.80" y1="82.20" x2="154.80" y2="86.20" stroke="#9c5c5c" stroke-width="0.72"/>
<line x1="154.80" y1="82.20" x2="156.80" y2="78.80" stroke="#9c5c5c" stroke-width="0.72"/>
<line x1="154.80" y1="86.20" x2="156.80" y2="89.60" stroke="#9c5c5c" stroke-width="0.72"/>
<line x1="156.80" y1="78.80" x2="162.20" y2="82.20" stroke="#9c5c5c" stroke-width="0.72"/>
<line x1="156.80" y1="89.60" x2="162.20" y2="86.20" stroke="#9c5c5c" stroke-width="0.72"/>
<line x1="162.20" y1="82.20" x2="162.20" y2="86.20" stroke="#9c5c5c" stroke-width="0.72"/>
<line x1="162.20" y1="82.20" x2="164.20" y2="78.80" stroke="#9c5c5c" stroke-width="0.72"/>
<line x1="162.20" y1="86.20" x2="164.20" y2="89.60" stroke="#9c5c5c" stroke-width="0.72"/>
<line x1="164.20" y1="78.80" x2="169.60" y2="82.20" stroke="#9c5c5c" stroke-width="0.72"/>
<line x1="164.20" y1="89.60" x2="169.60" y2="86.20" stroke="#9c5c5c" stroke-width="0.72"/>
<line x1="169.60" y1="82.20" x2="169.60" y2="86.20" stroke="#9c5c5c" stroke-width="0.72"/>
<line x1="169.60" y1="82.20" x2="171.60" y2="78.80" stroke="#9c5c5c" stroke-width="0.72"/>
<line x1="169.60" y1="86.20" x2="171.60" y2="89.60" stroke="#9c5c5c" stroke-width="0.72"/>
<line x1="171.60" y1="78.80" x2="177.00" y2="82.20" stroke="#9c5c5c" stroke-width="0.72"/>
<line x1="171.60" y1="89.60" x2="177.00" y2="86.20" stroke="#9c5c5c" stroke-width="0.72"/>
<line x1="177.00" y1="82.20" x2="177.00" y2="86.20" stroke="#9c5c5c" stroke-width="0.72"/>
<line x1="177.00" y1="82.20" x2="179.00" y2="78.80" stroke="#9c5c5c" stroke-width="0.72"/>
<line x1="177.00" y1="86.20" x2="179.00" y2="89.60" stroke="#9c5c5c" stroke-width="0.72"/>
<line x1="179.00" y1="78.80" x2="184.40" y2="82.20" stroke="#9c5c5c" stroke-width="0.72"/>
<line x1="179.00" y1="89.60" x2="184.40" y2="86.20" stroke="#9c5c5c" stroke-width="0.72"/>
<line x1="184.40" y1="82.20" x2="184.40" y2="86.20" stroke="#9c5c5c" stroke-width="0.72"/>
<line x1="184.40" y1="82.20" x2="186.40" y2="78.80" stroke="#9c5c5c" stroke-width="0.72"/>
<line x1="184.40" y1="86.20" x2="186.40" y2="89.60" stroke="#9c5c5c" stroke-width="0.72"/>
<circle cx="110.40" cy="82.20" r="1.3" fill="#c46262"/>
<circle cx="110.40" cy="86.20" r="1.3" fill="#c46262"/>
<circle cx="112.40" cy="78.80" r="1.05" fill="#a2b858"/>
<circle cx="112.40" cy="89.60" r="1.05" fill="#a2b858"/>
<circle cx="117.80" cy="82.20" r="1.3" fill="#c46262"/>
<circle cx="117.80" cy="86.20" r="1.3" fill="#c46262"/>
<circle cx="119.80" cy="78.80" r="1.05" fill="#a2b858"/>
<circle cx="119.80" cy="89.60" r="1.05" fill="#a2b858"/>
<circle cx="125.20" cy="82.20" r="1.3" fill="#c46262"/>
<circle cx="125.20" cy="86.20" r="1.3" fill="#c46262"/>
<circle cx="127.20" cy="78.80" r="1.05" fill="#a2b858"/>
<circle cx="127.20" cy="89.60" r="1.05" fill="#a2b858"/>
<circle cx="132.60" cy="82.20" r="1.3" fill="#c46262"/>
<circle cx="132.60" cy="86.20" r="1.3" fill="#c46262"/>
<circle cx="134.60" cy="78.80" r="1.05" fill="#a2b858"/>
<circle cx="134.60" cy="89.60" r="1.05" fill="#a2b858"/>
<circle cx="140.00" cy="82.20" r="1.3" fill="#c46262"/>
<circle cx="140.00" cy="86.20" r="1.3" fill="#c46262"/>
<circle cx="142.00" cy="78.80" r="1.05" fill="#a2b858"/>
<circle cx="142.00" cy="89.60" r="1.05" fill="#a2b858"/>
<circle cx="147.40" cy="82.20" r="1.3" fill="#c46262"/>
<circle cx="147.40" cy="86.20" r="1.3" fill="#c46262"/>
<circle cx="149.40" cy="78.80" r="1.05" fill="#a2b858"/>
<circle cx="149.40" cy="89.60" r="1.05" fill="#a2b858"/>
<circle cx="154.80" cy="82.20" r="1.3" fill="#c46262"/>
<circle cx="154.80" cy="86.20" r="1.3" fill="#c46262"/>
<circle cx="156.80" cy="78.80" r="1.05" fill="#a2b858"/>
<circle cx="156.80" cy="89.60" r="1.05" fill="#a2b858"/>
<circle cx="162.20" cy="82.20" r="1.3" fill="#c46262"/>
<circle cx="162.20" cy="86.20" r="1.3" fill="#c46262"/>
<circle cx="164.20" cy="78.80" r="1.05" fill="#a2b858"/>
<circle cx="164.20" cy="89.60" r="1.05" fill="#a2b858"/>
<circle cx="169.60" cy="82.20" r="1.3" fill="#c46262"/>
<circle cx="169.60" cy="86.20" r="1.3" fill="#c46262"/>
<circle cx="171.60" cy="78.80" r="1.05" fill="#a2b858"/>
<circle cx="171.60" cy="89.60" r="1.05" fill="#a2b858"/>
<circle cx="177.00" cy="82.20" r="1.3" fill="#c46262"/>
<circle cx="177.00" cy="86.20" r="1.3" fill="#c46262"/>
<circle cx="179.00" cy="78.80" r="1.05" fill="#a2b858"/>
<circle cx="179.00" cy="89.60" r="1.05" fill="#a2b858"/>
<circle cx="184.40" cy="82.20" r="1.3" fill="#c46262"/>
<circle cx="184.40" cy="86.20" r="1.3" fill="#c46262"/>
<circle cx="186.40" cy="78.80" r="1.05" fill="#a2b858"/>
<circle cx="186.40" cy="89.60" r="1.05" fill="#a2b858"/>
<ellipse cx="152.4" cy="59.8" rx="4.2" ry="13.6" fill="#dcebc8" fill-opacity="0.62" stroke="#7a9aa0" stroke-width="0.8"/>
<circle cx="151.9" cy="49.6" r="2.7" fill="#e8202c"/>
<line x1="150.30" y1="49.60" x2="153.50" y2="49.60" stroke="#fff" stroke-width="0.8"/>
<line x1="151.90" y1="48.00" x2="151.90" y2="51.20" stroke="#fff" stroke-width="0.8"/>
<circle cx="151.9" cy="70.0" r="2.7" fill="#2a96e0"/>
<line x1="150.30" y1="70.00" x2="153.50" y2="70.00" stroke="#fff" stroke-width="0.8"/>
<rect x="196" y="46" width="1.3" height="30" fill="url(#arrg)"/>
<polygon points="196.65,40.50 194.50,47.00 198.80,47.00" fill="#9fb4cf"/>
<text x="200.60" y="61.50" font-size="10" text-anchor="start" fill="#000" font-weight="bold" stroke="#000" stroke-width="0.1" >p</text>
<text x="140.20" y="26.50" font-size="9" text-anchor="start" fill="#111" font-weight="normal" stroke="#111" stroke-width="0.1" >2L/3L</text>
<text x="119.00" y="142.40" font-size="9" text-anchor="start" fill="#111" font-weight="normal" stroke="#111" stroke-width="0.1" >2L/nL (n=4, 5…)</text>
<circle cx="155.6" cy="148.0" r="0.75" fill="#222"/>
<circle cx="155.6" cy="150.7" r="0.75" fill="#222"/>
<circle cx="155.6" cy="153.4" r="0.75" fill="#222"/>
<text x="142.20" y="194.30" font-size="9" text-anchor="start" fill="#111" font-weight="normal" stroke="#111" stroke-width="0.1" >2L/6L</text>
<line x1="109.80" y1="203.90" x2="112.75" y2="199.70" stroke="#333" stroke-width="0.6"/>
<line x1="109.80" y1="203.90" x2="112.75" y2="208.10" stroke="#333" stroke-width="0.6"/>
<line x1="112.75" y1="199.70" x2="118.25" y2="203.90" stroke="#333" stroke-width="0.6"/>
<line x1="112.75" y1="208.10" x2="118.25" y2="203.90" stroke="#333" stroke-width="0.6"/>
<line x1="118.25" y1="203.90" x2="121.20" y2="199.70" stroke="#333" stroke-width="0.6"/>
<line x1="118.25" y1="203.90" x2="121.20" y2="208.10" stroke="#333" stroke-width="0.6"/>
<line x1="121.20" y1="199.70" x2="126.70" y2="203.90" stroke="#333" stroke-width="0.6"/>
<line x1="121.20" y1="208.10" x2="126.70" y2="203.90" stroke="#333" stroke-width="0.6"/>
<line x1="126.70" y1="203.90" x2="129.65" y2="199.70" stroke="#333" stroke-width="0.6"/>
<line x1="126.70" y1="203.90" x2="129.65" y2="208.10" stroke="#333" stroke-width="0.6"/>
<line x1="129.65" y1="199.70" x2="135.15" y2="203.90" stroke="#333" stroke-width="0.6"/>
<line x1="129.65" y1="208.10" x2="135.15" y2="203.90" stroke="#333" stroke-width="0.6"/>
<line x1="135.15" y1="203.90" x2="138.10" y2="199.70" stroke="#333" stroke-width="0.6"/>
<line x1="135.15" y1="203.90" x2="138.10" y2="208.10" stroke="#333" stroke-width="0.6"/>
<line x1="138.10" y1="199.70" x2="143.60" y2="203.90" stroke="#333" stroke-width="0.6"/>
<line x1="138.10" y1="208.10" x2="143.60" y2="203.90" stroke="#333" stroke-width="0.6"/>
<line x1="143.60" y1="203.90" x2="146.55" y2="199.70" stroke="#333" stroke-width="0.6"/>
<line x1="143.60" y1="203.90" x2="146.55" y2="208.10" stroke="#333" stroke-width="0.6"/>
<line x1="146.55" y1="199.70" x2="152.05" y2="203.90" stroke="#333" stroke-width="0.6"/>
<line x1="146.55" y1="208.10" x2="152.05" y2="203.90" stroke="#333" stroke-width="0.6"/>
<line x1="152.05" y1="203.90" x2="155.00" y2="199.70" stroke="#333" stroke-width="0.6"/>
<line x1="152.05" y1="203.90" x2="155.00" y2="208.10" stroke="#333" stroke-width="0.6"/>
<line x1="155.00" y1="199.70" x2="160.50" y2="203.90" stroke="#333" stroke-width="0.6"/>
<line x1="155.00" y1="208.10" x2="160.50" y2="203.90" stroke="#333" stroke-width="0.6"/>
<line x1="160.50" y1="203.90" x2="163.45" y2="199.70" stroke="#333" stroke-width="0.6"/>
<line x1="160.50" y1="203.90" x2="163.45" y2="208.10" stroke="#333" stroke-width="0.6"/>
<line x1="163.45" y1="199.70" x2="168.95" y2="203.90" stroke="#333" stroke-width="0.6"/>
<line x1="163.45" y1="208.10" x2="168.95" y2="203.90" stroke="#333" stroke-width="0.6"/>
<line x1="168.95" y1="203.90" x2="171.90" y2="199.70" stroke="#333" stroke-width="0.6"/>
<line x1="168.95" y1="203.90" x2="171.90" y2="208.10" stroke="#333" stroke-width="0.6"/>
<line x1="171.90" y1="199.70" x2="177.40" y2="203.90" stroke="#333" stroke-width="0.6"/>
<line x1="171.90" y1="208.10" x2="177.40" y2="203.90" stroke="#333" stroke-width="0.6"/>
<line x1="177.40" y1="203.90" x2="180.35" y2="199.70" stroke="#333" stroke-width="0.6"/>
<line x1="177.40" y1="203.90" x2="180.35" y2="208.10" stroke="#333" stroke-width="0.6"/>
<line x1="180.35" y1="199.70" x2="185.85" y2="203.90" stroke="#333" stroke-width="0.6"/>
<line x1="180.35" y1="208.10" x2="185.85" y2="203.90" stroke="#333" stroke-width="0.6"/>
<line x1="185.85" y1="203.90" x2="188.80" y2="199.70" stroke="#333" stroke-width="0.6"/>
<line x1="185.85" y1="203.90" x2="188.80" y2="208.10" stroke="#333" stroke-width="0.6"/>
<circle cx="112.75" cy="199.70" r="1.2" fill="#d4ae44"/>
<circle cx="112.75" cy="208.10" r="1.2" fill="#d4ae44"/>
<circle cx="109.80" cy="203.90" r="1.05" fill="#3a3a3a"/>
<circle cx="121.20" cy="199.70" r="1.2" fill="#d4ae44"/>
<circle cx="121.20" cy="208.10" r="1.2" fill="#d4ae44"/>
<circle cx="118.25" cy="203.90" r="1.05" fill="#3a3a3a"/>
<circle cx="129.65" cy="199.70" r="1.2" fill="#d4ae44"/>
<circle cx="129.65" cy="208.10" r="1.2" fill="#d4ae44"/>
<circle cx="126.70" cy="203.90" r="1.05" fill="#3a3a3a"/>
<circle cx="138.10" cy="199.70" r="1.2" fill="#d4ae44"/>
<circle cx="138.10" cy="208.10" r="1.2" fill="#d4ae44"/>
<circle cx="135.15" cy="203.90" r="1.05" fill="#3a3a3a"/>
<circle cx="146.55" cy="199.70" r="1.2" fill="#d4ae44"/>
<circle cx="146.55" cy="208.10" r="1.2" fill="#d4ae44"/>
<circle cx="143.60" cy="203.90" r="1.05" fill="#3a3a3a"/>
<circle cx="155.00" cy="199.70" r="1.2" fill="#d4ae44"/>
<circle cx="155.00" cy="208.10" r="1.2" fill="#d4ae44"/>
<circle cx="152.05" cy="203.90" r="1.05" fill="#3a3a3a"/>
<circle cx="163.45" cy="199.70" r="1.2" fill="#d4ae44"/>
<circle cx="163.45" cy="208.10" r="1.2" fill="#d4ae44"/>
<circle cx="160.50" cy="203.90" r="1.05" fill="#3a3a3a"/>
<circle cx="171.90" cy="199.70" r="1.2" fill="#d4ae44"/>
<circle cx="171.90" cy="208.10" r="1.2" fill="#d4ae44"/>
<circle cx="168.95" cy="203.90" r="1.05" fill="#3a3a3a"/>
<circle cx="180.35" cy="199.70" r="1.2" fill="#d4ae44"/>
<circle cx="180.35" cy="208.10" r="1.2" fill="#d4ae44"/>
<circle cx="177.40" cy="203.90" r="1.05" fill="#3a3a3a"/>
<circle cx="188.80" cy="199.70" r="1.2" fill="#d4ae44"/>
<circle cx="188.80" cy="208.10" r="1.2" fill="#d4ae44"/>
<circle cx="185.85" cy="203.90" r="1.05" fill="#3a3a3a"/>
<line x1="114.50" y1="214.00" x2="117.45" y2="209.80" stroke="#333" stroke-width="0.6"/>
<line x1="114.50" y1="214.00" x2="117.45" y2="218.20" stroke="#333" stroke-width="0.6"/>
<line x1="117.45" y1="209.80" x2="122.95" y2="214.00" stroke="#333" stroke-width="0.6"/>
<line x1="117.45" y1="218.20" x2="122.95" y2="214.00" stroke="#333" stroke-width="0.6"/>
<line x1="122.95" y1="214.00" x2="125.90" y2="209.80" stroke="#333" stroke-width="0.6"/>
<line x1="122.95" y1="214.00" x2="125.90" y2="218.20" stroke="#333" stroke-width="0.6"/>
<line x1="125.90" y1="209.80" x2="131.40" y2="214.00" stroke="#333" stroke-width="0.6"/>
<line x1="125.90" y1="218.20" x2="131.40" y2="214.00" stroke="#333" stroke-width="0.6"/>
<line x1="131.40" y1="214.00" x2="134.35" y2="209.80" stroke="#333" stroke-width="0.6"/>
<line x1="131.40" y1="214.00" x2="134.35" y2="218.20" stroke="#333" stroke-width="0.6"/>
<line x1="134.35" y1="209.80" x2="139.85" y2="214.00" stroke="#333" stroke-width="0.6"/>
<line x1="134.35" y1="218.20" x2="139.85" y2="214.00" stroke="#333" stroke-width="0.6"/>
<line x1="139.85" y1="214.00" x2="142.80" y2="209.80" stroke="#333" stroke-width="0.6"/>
<line x1="139.85" y1="214.00" x2="142.80" y2="218.20" stroke="#333" stroke-width="0.6"/>
<line x1="142.80" y1="209.80" x2="148.30" y2="214.00" stroke="#333" stroke-width="0.6"/>
<line x1="142.80" y1="218.20" x2="148.30" y2="214.00" stroke="#333" stroke-width="0.6"/>
<line x1="148.30" y1="214.00" x2="151.25" y2="209.80" stroke="#333" stroke-width="0.6"/>
<line x1="148.30" y1="214.00" x2="151.25" y2="218.20" stroke="#333" stroke-width="0.6"/>
<line x1="151.25" y1="209.80" x2="156.75" y2="214.00" stroke="#333" stroke-width="0.6"/>
<line x1="151.25" y1="218.20" x2="156.75" y2="214.00" stroke="#333" stroke-width="0.6"/>
<line x1="156.75" y1="214.00" x2="159.70" y2="209.80" stroke="#333" stroke-width="0.6"/>
<line x1="156.75" y1="214.00" x2="159.70" y2="218.20" stroke="#333" stroke-width="0.6"/>
<line x1="159.70" y1="209.80" x2="165.20" y2="214.00" stroke="#333" stroke-width="0.6"/>
<line x1="159.70" y1="218.20" x2="165.20" y2="214.00" stroke="#333" stroke-width="0.6"/>
<line x1="165.20" y1="214.00" x2="168.15" y2="209.80" stroke="#333" stroke-width="0.6"/>
<line x1="165.20" y1="214.00" x2="168.15" y2="218.20" stroke="#333" stroke-width="0.6"/>
<line x1="168.15" y1="209.80" x2="173.65" y2="214.00" stroke="#333" stroke-width="0.6"/>
<line x1="168.15" y1="218.20" x2="173.65" y2="214.00" stroke="#333" stroke-width="0.6"/>
<line x1="173.65" y1="214.00" x2="176.60" y2="209.80" stroke="#333" stroke-width="0.6"/>
<line x1="173.65" y1="214.00" x2="176.60" y2="218.20" stroke="#333" stroke-width="0.6"/>
<line x1="176.60" y1="209.80" x2="182.10" y2="214.00" stroke="#333" stroke-width="0.6"/>
<line x1="176.60" y1="218.20" x2="182.10" y2="214.00" stroke="#333" stroke-width="0.6"/>
<line x1="182.10" y1="214.00" x2="185.05" y2="209.80" stroke="#333" stroke-width="0.6"/>
<line x1="182.10" y1="214.00" x2="185.05" y2="218.20" stroke="#333" stroke-width="0.6"/>
<line x1="185.05" y1="209.80" x2="190.55" y2="214.00" stroke="#333" stroke-width="0.6"/>
<line x1="185.05" y1="218.20" x2="190.55" y2="214.00" stroke="#333" stroke-width="0.6"/>
<line x1="190.55" y1="214.00" x2="193.50" y2="209.80" stroke="#333" stroke-width="0.6"/>
<line x1="190.55" y1="214.00" x2="193.50" y2="218.20" stroke="#333" stroke-width="0.6"/>
<circle cx="117.45" cy="209.80" r="1.2" fill="#d4ae44"/>
<circle cx="117.45" cy="218.20" r="1.2" fill="#d4ae44"/>
<circle cx="114.50" cy="214.00" r="1.05" fill="#3a3a3a"/>
<circle cx="125.90" cy="209.80" r="1.2" fill="#d4ae44"/>
<circle cx="125.90" cy="218.20" r="1.2" fill="#d4ae44"/>
<circle cx="122.95" cy="214.00" r="1.05" fill="#3a3a3a"/>
<circle cx="134.35" cy="209.80" r="1.2" fill="#d4ae44"/>
<circle cx="134.35" cy="218.20" r="1.2" fill="#d4ae44"/>
<circle cx="131.40" cy="214.00" r="1.05" fill="#3a3a3a"/>
<circle cx="142.80" cy="209.80" r="1.2" fill="#d4ae44"/>
<circle cx="142.80" cy="218.20" r="1.2" fill="#d4ae44"/>
<circle cx="139.85" cy="214.00" r="1.05" fill="#3a3a3a"/>
<circle cx="151.25" cy="209.80" r="1.2" fill="#d4ae44"/>
<circle cx="151.25" cy="218.20" r="1.2" fill="#d4ae44"/>
<circle cx="148.30" cy="214.00" r="1.05" fill="#3a3a3a"/>
<circle cx="159.70" cy="209.80" r="1.2" fill="#d4ae44"/>
<circle cx="159.70" cy="218.20" r="1.2" fill="#d4ae44"/>
<circle cx="156.75" cy="214.00" r="1.05" fill="#3a3a3a"/>
<circle cx="168.15" cy="209.80" r="1.2" fill="#d4ae44"/>
<circle cx="168.15" cy="218.20" r="1.2" fill="#d4ae44"/>
<circle cx="165.20" cy="214.00" r="1.05" fill="#3a3a3a"/>
<circle cx="176.60" cy="209.80" r="1.2" fill="#d4ae44"/>
<circle cx="176.60" cy="218.20" r="1.2" fill="#d4ae44"/>
<circle cx="173.65" cy="214.00" r="1.05" fill="#3a3a3a"/>
<circle cx="185.05" cy="209.80" r="1.2" fill="#d4ae44"/>
<circle cx="185.05" cy="218.20" r="1.2" fill="#d4ae44"/>
<circle cx="182.10" cy="214.00" r="1.05" fill="#3a3a3a"/>
<circle cx="193.50" cy="209.80" r="1.2" fill="#d4ae44"/>
<circle cx="193.50" cy="218.20" r="1.2" fill="#d4ae44"/>
<circle cx="190.55" cy="214.00" r="1.05" fill="#3a3a3a"/>
<line x1="111.50" y1="223.80" x2="111.50" y2="227.80" stroke="#9c5c5c" stroke-width="0.72"/>
<line x1="111.50" y1="223.80" x2="113.50" y2="220.40" stroke="#9c5c5c" stroke-width="0.72"/>
<line x1="111.50" y1="227.80" x2="113.50" y2="231.20" stroke="#9c5c5c" stroke-width="0.72"/>
<line x1="113.50" y1="220.40" x2="118.90" y2="223.80" stroke="#9c5c5c" stroke-width="0.72"/>
<line x1="113.50" y1="231.20" x2="118.90" y2="227.80" stroke="#9c5c5c" stroke-width="0.72"/>
<line x1="118.90" y1="223.80" x2="118.90" y2="227.80" stroke="#9c5c5c" stroke-width="0.72"/>
<line x1="118.90" y1="223.80" x2="120.90" y2="220.40" stroke="#9c5c5c" stroke-width="0.72"/>
<line x1="118.90" y1="227.80" x2="120.90" y2="231.20" stroke="#9c5c5c" stroke-width="0.72"/>
<line x1="120.90" y1="220.40" x2="126.30" y2="223.80" stroke="#9c5c5c" stroke-width="0.72"/>
<line x1="120.90" y1="231.20" x2="126.30" y2="227.80" stroke="#9c5c5c" stroke-width="0.72"/>
<line x1="126.30" y1="223.80" x2="126.30" y2="227.80" stroke="#9c5c5c" stroke-width="0.72"/>
<line x1="126.30" y1="223.80" x2="128.30" y2="220.40" stroke="#9c5c5c" stroke-width="0.72"/>
<line x1="126.30" y1="227.80" x2="128.30" y2="231.20" stroke="#9c5c5c" stroke-width="0.72"/>
<line x1="128.30" y1="220.40" x2="133.70" y2="223.80" stroke="#9c5c5c" stroke-width="0.72"/>
<line x1="128.30" y1="231.20" x2="133.70" y2="227.80" stroke="#9c5c5c" stroke-width="0.72"/>
<line x1="133.70" y1="223.80" x2="133.70" y2="227.80" stroke="#9c5c5c" stroke-width="0.72"/>
<line x1="133.70" y1="223.80" x2="135.70" y2="220.40" stroke="#9c5c5c" stroke-width="0.72"/>
<line x1="133.70" y1="227.80" x2="135.70" y2="231.20" stroke="#9c5c5c" stroke-width="0.72"/>
<line x1="135.70" y1="220.40" x2="141.10" y2="223.80" stroke="#9c5c5c" stroke-width="0.72"/>
<line x1="135.70" y1="231.20" x2="141.10" y2="227.80" stroke="#9c5c5c" stroke-width="0.72"/>
<line x1="141.10" y1="223.80" x2="141.10" y2="227.80" stroke="#9c5c5c" stroke-width="0.72"/>
<line x1="141.10" y1="223.80" x2="143.10" y2="220.40" stroke="#9c5c5c" stroke-width="0.72"/>
<line x1="141.10" y1="227.80" x2="143.10" y2="231.20" stroke="#9c5c5c" stroke-width="0.72"/>
<line x1="143.10" y1="220.40" x2="148.50" y2="223.80" stroke="#9c5c5c" stroke-width="0.72"/>
<line x1="143.10" y1="231.20" x2="148.50" y2="227.80" stroke="#9c5c5c" stroke-width="0.72"/>
<line x1="148.50" y1="223.80" x2="148.50" y2="227.80" stroke="#9c5c5c" stroke-width="0.72"/>
<line x1="148.50" y1="223.80" x2="150.50" y2="220.40" stroke="#9c5c5c" stroke-width="0.72"/>
<line x1="148.50" y1="227.80" x2="150.50" y2="231.20" stroke="#9c5c5c" stroke-width="0.72"/>
<line x1="150.50" y1="220.40" x2="155.90" y2="223.80" stroke="#9c5c5c" stroke-width="0.72"/>
<line x1="150.50" y1="231.20" x2="155.90" y2="227.80" stroke="#9c5c5c" stroke-width="0.72"/>
<line x1="155.90" y1="223.80" x2="155.90" y2="227.80" stroke="#9c5c5c" stroke-width="0.72"/>
<line x1="155.90" y1="223.80" x2="157.90" y2="220.40" stroke="#9c5c5c" stroke-width="0.72"/>
<line x1="155.90" y1="227.80" x2="157.90" y2="231.20" stroke="#9c5c5c" stroke-width="0.72"/>
<line x1="157.90" y1="220.40" x2="163.30" y2="223.80" stroke="#9c5c5c" stroke-width="0.72"/>
<line x1="157.90" y1="231.20" x2="163.30" y2="227.80" stroke="#9c5c5c" stroke-width="0.72"/>
<line x1="163.30" y1="223.80" x2="163.30" y2="227.80" stroke="#9c5c5c" stroke-width="0.72"/>
<line x1="163.30" y1="223.80" x2="165.30" y2="220.40" stroke="#9c5c5c" stroke-width="0.72"/>
<line x1="163.30" y1="227.80" x2="165.30" y2="231.20" stroke="#9c5c5c" stroke-width="0.72"/>
<line x1="165.30" y1="220.40" x2="170.70" y2="223.80" stroke="#9c5c5c" stroke-width="0.72"/>
<line x1="165.30" y1="231.20" x2="170.70" y2="227.80" stroke="#9c5c5c" stroke-width="0.72"/>
<line x1="170.70" y1="223.80" x2="170.70" y2="227.80" stroke="#9c5c5c" stroke-width="0.72"/>
<line x1="170.70" y1="223.80" x2="172.70" y2="220.40" stroke="#9c5c5c" stroke-width="0.72"/>
<line x1="170.70" y1="227.80" x2="172.70" y2="231.20" stroke="#9c5c5c" stroke-width="0.72"/>
<line x1="172.70" y1="220.40" x2="178.10" y2="223.80" stroke="#9c5c5c" stroke-width="0.72"/>
<line x1="172.70" y1="231.20" x2="178.10" y2="227.80" stroke="#9c5c5c" stroke-width="0.72"/>
<line x1="178.10" y1="223.80" x2="178.10" y2="227.80" stroke="#9c5c5c" stroke-width="0.72"/>
<line x1="178.10" y1="223.80" x2="180.10" y2="220.40" stroke="#9c5c5c" stroke-width="0.72"/>
<line x1="178.10" y1="227.80" x2="180.10" y2="231.20" stroke="#9c5c5c" stroke-width="0.72"/>
<line x1="180.10" y1="220.40" x2="185.50" y2="223.80" stroke="#9c5c5c" stroke-width="0.72"/>
<line x1="180.10" y1="231.20" x2="185.50" y2="227.80" stroke="#9c5c5c" stroke-width="0.72"/>
<line x1="185.50" y1="223.80" x2="185.50" y2="227.80" stroke="#9c5c5c" stroke-width="0.72"/>
<line x1="185.50" y1="223.80" x2="187.50" y2="220.40" stroke="#9c5c5c" stroke-width="0.72"/>
<line x1="185.50" y1="227.80" x2="187.50" y2="231.20" stroke="#9c5c5c" stroke-width="0.72"/>
<circle cx="111.50" cy="223.80" r="1.3" fill="#c46262"/>
<circle cx="111.50" cy="227.80" r="1.3" fill="#c46262"/>
<circle cx="113.50" cy="220.40" r="1.05" fill="#a2b858"/>
<circle cx="113.50" cy="231.20" r="1.05" fill="#a2b858"/>
<circle cx="118.90" cy="223.80" r="1.3" fill="#c46262"/>
<circle cx="118.90" cy="227.80" r="1.3" fill="#c46262"/>
<circle cx="120.90" cy="220.40" r="1.05" fill="#a2b858"/>
<circle cx="120.90" cy="231.20" r="1.05" fill="#a2b858"/>
<circle cx="126.30" cy="223.80" r="1.3" fill="#c46262"/>
<circle cx="126.30" cy="227.80" r="1.3" fill="#c46262"/>
<circle cx="128.30" cy="220.40" r="1.05" fill="#a2b858"/>
<circle cx="128.30" cy="231.20" r="1.05" fill="#a2b858"/>
<circle cx="133.70" cy="223.80" r="1.3" fill="#c46262"/>
<circle cx="133.70" cy="227.80" r="1.3" fill="#c46262"/>
<circle cx="135.70" cy="220.40" r="1.05" fill="#a2b858"/>
<circle cx="135.70" cy="231.20" r="1.05" fill="#a2b858"/>
<circle cx="141.10" cy="223.80" r="1.3" fill="#c46262"/>
<circle cx="141.10" cy="227.80" r="1.3" fill="#c46262"/>
<circle cx="143.10" cy="220.40" r="1.05" fill="#a2b858"/>
<circle cx="143.10" cy="231.20" r="1.05" fill="#a2b858"/>
<circle cx="148.50" cy="223.80" r="1.3" fill="#c46262"/>
<circle cx="148.50" cy="227.80" r="1.3" fill="#c46262"/>
<circle cx="150.50" cy="220.40" r="1.05" fill="#a2b858"/>
<circle cx="150.50" cy="231.20" r="1.05" fill="#a2b858"/>
<circle cx="155.90" cy="223.80" r="1.3" fill="#c46262"/>
<circle cx="155.90" cy="227.80" r="1.3" fill="#c46262"/>
<circle cx="157.90" cy="220.40" r="1.05" fill="#a2b858"/>
<circle cx="157.90" cy="231.20" r="1.05" fill="#a2b858"/>
<circle cx="163.30" cy="223.80" r="1.3" fill="#c46262"/>
<circle cx="163.30" cy="227.80" r="1.3" fill="#c46262"/>
<circle cx="165.30" cy="220.40" r="1.05" fill="#a2b858"/>
<circle cx="165.30" cy="231.20" r="1.05" fill="#a2b858"/>
<circle cx="170.70" cy="223.80" r="1.3" fill="#c46262"/>
<circle cx="170.70" cy="227.80" r="1.3" fill="#c46262"/>
<circle cx="172.70" cy="220.40" r="1.05" fill="#a2b858"/>
<circle cx="172.70" cy="231.20" r="1.05" fill="#a2b858"/>
<circle cx="178.10" cy="223.80" r="1.3" fill="#c46262"/>
<circle cx="178.10" cy="227.80" r="1.3" fill="#c46262"/>
<circle cx="180.10" cy="220.40" r="1.05" fill="#a2b858"/>
<circle cx="180.10" cy="231.20" r="1.05" fill="#a2b858"/>
<circle cx="185.50" cy="223.80" r="1.3" fill="#c46262"/>
<circle cx="185.50" cy="227.80" r="1.3" fill="#c46262"/>
<circle cx="187.50" cy="220.40" r="1.05" fill="#a2b858"/>
<circle cx="187.50" cy="231.20" r="1.05" fill="#a2b858"/>
<line x1="114.60" y1="236.30" x2="114.60" y2="240.30" stroke="#9c5c5c" stroke-width="0.72"/>
<line x1="114.60" y1="236.30" x2="116.60" y2="232.90" stroke="#9c5c5c" stroke-width="0.72"/>
<line x1="114.60" y1="240.30" x2="116.60" y2="243.70" stroke="#9c5c5c" stroke-width="0.72"/>
<line x1="116.60" y1="232.90" x2="122.00" y2="236.30" stroke="#9c5c5c" stroke-width="0.72"/>
<line x1="116.60" y1="243.70" x2="122.00" y2="240.30" stroke="#9c5c5c" stroke-width="0.72"/>
<line x1="122.00" y1="236.30" x2="122.00" y2="240.30" stroke="#9c5c5c" stroke-width="0.72"/>
<line x1="122.00" y1="236.30" x2="124.00" y2="232.90" stroke="#9c5c5c" stroke-width="0.72"/>
<line x1="122.00" y1="240.30" x2="124.00" y2="243.70" stroke="#9c5c5c" stroke-width="0.72"/>
<line x1="124.00" y1="232.90" x2="129.40" y2="236.30" stroke="#9c5c5c" stroke-width="0.72"/>
<line x1="124.00" y1="243.70" x2="129.40" y2="240.30" stroke="#9c5c5c" stroke-width="0.72"/>
<line x1="129.40" y1="236.30" x2="129.40" y2="240.30" stroke="#9c5c5c" stroke-width="0.72"/>
<line x1="129.40" y1="236.30" x2="131.40" y2="232.90" stroke="#9c5c5c" stroke-width="0.72"/>
<line x1="129.40" y1="240.30" x2="131.40" y2="243.70" stroke="#9c5c5c" stroke-width="0.72"/>
<line x1="131.40" y1="232.90" x2="136.80" y2="236.30" stroke="#9c5c5c" stroke-width="0.72"/>
<line x1="131.40" y1="243.70" x2="136.80" y2="240.30" stroke="#9c5c5c" stroke-width="0.72"/>
<line x1="136.80" y1="236.30" x2="136.80" y2="240.30" stroke="#9c5c5c" stroke-width="0.72"/>
<line x1="136.80" y1="236.30" x2="138.80" y2="232.90" stroke="#9c5c5c" stroke-width="0.72"/>
<line x1="136.80" y1="240.30" x2="138.80" y2="243.70" stroke="#9c5c5c" stroke-width="0.72"/>
<line x1="138.80" y1="232.90" x2="144.20" y2="236.30" stroke="#9c5c5c" stroke-width="0.72"/>
<line x1="138.80" y1="243.70" x2="144.20" y2="240.30" stroke="#9c5c5c" stroke-width="0.72"/>
<line x1="144.20" y1="236.30" x2="144.20" y2="240.30" stroke="#9c5c5c" stroke-width="0.72"/>
<line x1="144.20" y1="236.30" x2="146.20" y2="232.90" stroke="#9c5c5c" stroke-width="0.72"/>
<line x1="144.20" y1="240.30" x2="146.20" y2="243.70" stroke="#9c5c5c" stroke-width="0.72"/>
<line x1="146.20" y1="232.90" x2="151.60" y2="236.30" stroke="#9c5c5c" stroke-width="0.72"/>
<line x1="146.20" y1="243.70" x2="151.60" y2="240.30" stroke="#9c5c5c" stroke-width="0.72"/>
<line x1="151.60" y1="236.30" x2="151.60" y2="240.30" stroke="#9c5c5c" stroke-width="0.72"/>
<line x1="151.60" y1="236.30" x2="153.60" y2="232.90" stroke="#9c5c5c" stroke-width="0.72"/>
<line x1="151.60" y1="240.30" x2="153.60" y2="243.70" stroke="#9c5c5c" stroke-width="0.72"/>
<line x1="153.60" y1="232.90" x2="159.00" y2="236.30" stroke="#9c5c5c" stroke-width="0.72"/>
<line x1="153.60" y1="243.70" x2="159.00" y2="240.30" stroke="#9c5c5c" stroke-width="0.72"/>
<line x1="159.00" y1="236.30" x2="159.00" y2="240.30" stroke="#9c5c5c" stroke-width="0.72"/>
<line x1="159.00" y1="236.30" x2="161.00" y2="232.90" stroke="#9c5c5c" stroke-width="0.72"/>
<line x1="159.00" y1="240.30" x2="161.00" y2="243.70" stroke="#9c5c5c" stroke-width="0.72"/>
<line x1="161.00" y1="232.90" x2="166.40" y2="236.30" stroke="#9c5c5c" stroke-width="0.72"/>
<line x1="161.00" y1="243.70" x2="166.40" y2="240.30" stroke="#9c5c5c" stroke-width="0.72"/>
<line x1="166.40" y1="236.30" x2="166.40" y2="240.30" stroke="#9c5c5c" stroke-width="0.72"/>
<line x1="166.40" y1="236.30" x2="168.40" y2="232.90" stroke="#9c5c5c" stroke-width="0.72"/>
<line x1="166.40" y1="240.30" x2="168.40" y2="243.70" stroke="#9c5c5c" stroke-width="0.72"/>
<line x1="168.40" y1="232.90" x2="173.80" y2="236.30" stroke="#9c5c5c" stroke-width="0.72"/>
<line x1="168.40" y1="243.70" x2="173.80" y2="240.30" stroke="#9c5c5c" stroke-width="0.72"/>
<line x1="173.80" y1="236.30" x2="173.80" y2="240.30" stroke="#9c5c5c" stroke-width="0.72"/>
<line x1="173.80" y1="236.30" x2="175.80" y2="232.90" stroke="#9c5c5c" stroke-width="0.72"/>
<line x1="173.80" y1="240.30" x2="175.80" y2="243.70" stroke="#9c5c5c" stroke-width="0.72"/>
<line x1="175.80" y1="232.90" x2="181.20" y2="236.30" stroke="#9c5c5c" stroke-width="0.72"/>
<line x1="175.80" y1="243.70" x2="181.20" y2="240.30" stroke="#9c5c5c" stroke-width="0.72"/>
<line x1="181.20" y1="236.30" x2="181.20" y2="240.30" stroke="#9c5c5c" stroke-width="0.72"/>
<line x1="181.20" y1="236.30" x2="183.20" y2="232.90" stroke="#9c5c5c" stroke-width="0.72"/>
<line x1="181.20" y1="240.30" x2="183.20" y2="243.70" stroke="#9c5c5c" stroke-width="0.72"/>
<line x1="183.20" y1="232.90" x2="188.60" y2="236.30" stroke="#9c5c5c" stroke-width="0.72"/>
<line x1="183.20" y1="243.70" x2="188.60" y2="240.30" stroke="#9c5c5c" stroke-width="0.72"/>
<line x1="188.60" y1="236.30" x2="188.60" y2="240.30" stroke="#9c5c5c" stroke-width="0.72"/>
<line x1="188.60" y1="236.30" x2="190.60" y2="232.90" stroke="#9c5c5c" stroke-width="0.72"/>
<line x1="188.60" y1="240.30" x2="190.60" y2="243.70" stroke="#9c5c5c" stroke-width="0.72"/>
<circle cx="114.60" cy="236.30" r="1.3" fill="#c46262"/>
<circle cx="114.60" cy="240.30" r="1.3" fill="#c46262"/>
<circle cx="116.60" cy="232.90" r="1.05" fill="#a2b858"/>
<circle cx="116.60" cy="243.70" r="1.05" fill="#a2b858"/>
<circle cx="122.00" cy="236.30" r="1.3" fill="#c46262"/>
<circle cx="122.00" cy="240.30" r="1.3" fill="#c46262"/>
<circle cx="124.00" cy="232.90" r="1.05" fill="#a2b858"/>
<circle cx="124.00" cy="243.70" r="1.05" fill="#a2b858"/>
<circle cx="129.40" cy="236.30" r="1.3" fill="#c46262"/>
<circle cx="129.40" cy="240.30" r="1.3" fill="#c46262"/>
<circle cx="131.40" cy="232.90" r="1.05" fill="#a2b858"/>
<circle cx="131.40" cy="243.70" r="1.05" fill="#a2b858"/>
<circle cx="136.80" cy="236.30" r="1.3" fill="#c46262"/>
<circle cx="136.80" cy="240.30" r="1.3" fill="#c46262"/>
<circle cx="138.80" cy="232.90" r="1.05" fill="#a2b858"/>
<circle cx="138.80" cy="243.70" r="1.05" fill="#a2b858"/>
<circle cx="144.20" cy="236.30" r="1.3" fill="#c46262"/>
<circle cx="144.20" cy="240.30" r="1.3" fill="#c46262"/>
<circle cx="146.20" cy="232.90" r="1.05" fill="#a2b858"/>
<circle cx="146.20" cy="243.70" r="1.05" fill="#a2b858"/>
<circle cx="151.60" cy="236.30" r="1.3" fill="#c46262"/>
<circle cx="151.60" cy="240.30" r="1.3" fill="#c46262"/>
<circle cx="153.60" cy="232.90" r="1.05" fill="#a2b858"/>
<circle cx="153.60" cy="243.70" r="1.05" fill="#a2b858"/>
<circle cx="159.00" cy="236.30" r="1.3" fill="#c46262"/>
<circle cx="159.00" cy="240.30" r="1.3" fill="#c46262"/>
<circle cx="161.00" cy="232.90" r="1.05" fill="#a2b858"/>
<circle cx="161.00" cy="243.70" r="1.05" fill="#a2b858"/>
<circle cx="166.40" cy="236.30" r="1.3" fill="#c46262"/>
<circle cx="166.40" cy="240.30" r="1.3" fill="#c46262"/>
<circle cx="168.40" cy="232.90" r="1.05" fill="#a2b858"/>
<circle cx="168.40" cy="243.70" r="1.05" fill="#a2b858"/>
<circle cx="173.80" cy="236.30" r="1.3" fill="#c46262"/>
<circle cx="173.80" cy="240.30" r="1.3" fill="#c46262"/>
<circle cx="175.80" cy="232.90" r="1.05" fill="#a2b858"/>
<circle cx="175.80" cy="243.70" r="1.05" fill="#a2b858"/>
<circle cx="181.20" cy="236.30" r="1.3" fill="#c46262"/>
<circle cx="181.20" cy="240.30" r="1.3" fill="#c46262"/>
<circle cx="183.20" cy="232.90" r="1.05" fill="#a2b858"/>
<circle cx="183.20" cy="243.70" r="1.05" fill="#a2b858"/>
<circle cx="188.60" cy="236.30" r="1.3" fill="#c46262"/>
<circle cx="188.60" cy="240.30" r="1.3" fill="#c46262"/>
<circle cx="190.60" cy="232.90" r="1.05" fill="#a2b858"/>
<circle cx="190.60" cy="243.70" r="1.05" fill="#a2b858"/>
<line x1="111.50" y1="248.80" x2="111.50" y2="252.80" stroke="#9c5c5c" stroke-width="0.72"/>
<line x1="111.50" y1="248.80" x2="113.50" y2="245.40" stroke="#9c5c5c" stroke-width="0.72"/>
<line x1="111.50" y1="252.80" x2="113.50" y2="256.20" stroke="#9c5c5c" stroke-width="0.72"/>
<line x1="113.50" y1="245.40" x2="118.90" y2="248.80" stroke="#9c5c5c" stroke-width="0.72"/>
<line x1="113.50" y1="256.20" x2="118.90" y2="252.80" stroke="#9c5c5c" stroke-width="0.72"/>
<line x1="118.90" y1="248.80" x2="118.90" y2="252.80" stroke="#9c5c5c" stroke-width="0.72"/>
<line x1="118.90" y1="248.80" x2="120.90" y2="245.40" stroke="#9c5c5c" stroke-width="0.72"/>
<line x1="118.90" y1="252.80" x2="120.90" y2="256.20" stroke="#9c5c5c" stroke-width="0.72"/>
<line x1="120.90" y1="245.40" x2="126.30" y2="248.80" stroke="#9c5c5c" stroke-width="0.72"/>
<line x1="120.90" y1="256.20" x2="126.30" y2="252.80" stroke="#9c5c5c" stroke-width="0.72"/>
<line x1="126.30" y1="248.80" x2="126.30" y2="252.80" stroke="#9c5c5c" stroke-width="0.72"/>
<line x1="126.30" y1="248.80" x2="128.30" y2="245.40" stroke="#9c5c5c" stroke-width="0.72"/>
<line x1="126.30" y1="252.80" x2="128.30" y2="256.20" stroke="#9c5c5c" stroke-width="0.72"/>
<line x1="128.30" y1="245.40" x2="133.70" y2="248.80" stroke="#9c5c5c" stroke-width="0.72"/>
<line x1="128.30" y1="256.20" x2="133.70" y2="252.80" stroke="#9c5c5c" stroke-width="0.72"/>
<line x1="133.70" y1="248.80" x2="133.70" y2="252.80" stroke="#9c5c5c" stroke-width="0.72"/>
<line x1="133.70" y1="248.80" x2="135.70" y2="245.40" stroke="#9c5c5c" stroke-width="0.72"/>
<line x1="133.70" y1="252.80" x2="135.70" y2="256.20" stroke="#9c5c5c" stroke-width="0.72"/>
<line x1="135.70" y1="245.40" x2="141.10" y2="248.80" stroke="#9c5c5c" stroke-width="0.72"/>
<line x1="135.70" y1="256.20" x2="141.10" y2="252.80" stroke="#9c5c5c" stroke-width="0.72"/>
<line x1="141.10" y1="248.80" x2="141.10" y2="252.80" stroke="#9c5c5c" stroke-width="0.72"/>
<line x1="141.10" y1="248.80" x2="143.10" y2="245.40" stroke="#9c5c5c" stroke-width="0.72"/>
<line x1="141.10" y1="252.80" x2="143.10" y2="256.20" stroke="#9c5c5c" stroke-width="0.72"/>
<line x1="143.10" y1="245.40" x2="148.50" y2="248.80" stroke="#9c5c5c" stroke-width="0.72"/>
<line x1="143.10" y1="256.20" x2="148.50" y2="252.80" stroke="#9c5c5c" stroke-width="0.72"/>
<line x1="148.50" y1="248.80" x2="148.50" y2="252.80" stroke="#9c5c5c" stroke-width="0.72"/>
<line x1="148.50" y1="248.80" x2="150.50" y2="245.40" stroke="#9c5c5c" stroke-width="0.72"/>
<line x1="148.50" y1="252.80" x2="150.50" y2="256.20" stroke="#9c5c5c" stroke-width="0.72"/>
<line x1="150.50" y1="245.40" x2="155.90" y2="248.80" stroke="#9c5c5c" stroke-width="0.72"/>
<line x1="150.50" y1="256.20" x2="155.90" y2="252.80" stroke="#9c5c5c" stroke-width="0.72"/>
<line x1="155.90" y1="248.80" x2="155.90" y2="252.80" stroke="#9c5c5c" stroke-width="0.72"/>
<line x1="155.90" y1="248.80" x2="157.90" y2="245.40" stroke="#9c5c5c" stroke-width="0.72"/>
<line x1="155.90" y1="252.80" x2="157.90" y2="256.20" stroke="#9c5c5c" stroke-width="0.72"/>
<line x1="157.90" y1="245.40" x2="163.30" y2="248.80" stroke="#9c5c5c" stroke-width="0.72"/>
<line x1="157.90" y1="256.20" x2="163.30" y2="252.80" stroke="#9c5c5c" stroke-width="0.72"/>
<line x1="163.30" y1="248.80" x2="163.30" y2="252.80" stroke="#9c5c5c" stroke-width="0.72"/>
<line x1="163.30" y1="248.80" x2="165.30" y2="245.40" stroke="#9c5c5c" stroke-width="0.72"/>
<line x1="163.30" y1="252.80" x2="165.30" y2="256.20" stroke="#9c5c5c" stroke-width="0.72"/>
<line x1="165.30" y1="245.40" x2="170.70" y2="248.80" stroke="#9c5c5c" stroke-width="0.72"/>
<line x1="165.30" y1="256.20" x2="170.70" y2="252.80" stroke="#9c5c5c" stroke-width="0.72"/>
<line x1="170.70" y1="248.80" x2="170.70" y2="252.80" stroke="#9c5c5c" stroke-width="0.72"/>
<line x1="170.70" y1="248.80" x2="172.70" y2="245.40" stroke="#9c5c5c" stroke-width="0.72"/>
<line x1="170.70" y1="252.80" x2="172.70" y2="256.20" stroke="#9c5c5c" stroke-width="0.72"/>
<line x1="172.70" y1="245.40" x2="178.10" y2="248.80" stroke="#9c5c5c" stroke-width="0.72"/>
<line x1="172.70" y1="256.20" x2="178.10" y2="252.80" stroke="#9c5c5c" stroke-width="0.72"/>
<line x1="178.10" y1="248.80" x2="178.10" y2="252.80" stroke="#9c5c5c" stroke-width="0.72"/>
<line x1="178.10" y1="248.80" x2="180.10" y2="245.40" stroke="#9c5c5c" stroke-width="0.72"/>
<line x1="178.10" y1="252.80" x2="180.10" y2="256.20" stroke="#9c5c5c" stroke-width="0.72"/>
<line x1="180.10" y1="245.40" x2="185.50" y2="248.80" stroke="#9c5c5c" stroke-width="0.72"/>
<line x1="180.10" y1="256.20" x2="185.50" y2="252.80" stroke="#9c5c5c" stroke-width="0.72"/>
<line x1="185.50" y1="248.80" x2="185.50" y2="252.80" stroke="#9c5c5c" stroke-width="0.72"/>
<line x1="185.50" y1="248.80" x2="187.50" y2="245.40" stroke="#9c5c5c" stroke-width="0.72"/>
<line x1="185.50" y1="252.80" x2="187.50" y2="256.20" stroke="#9c5c5c" stroke-width="0.72"/>
<circle cx="111.50" cy="248.80" r="1.3" fill="#c46262"/>
<circle cx="111.50" cy="252.80" r="1.3" fill="#c46262"/>
<circle cx="113.50" cy="245.40" r="1.05" fill="#a2b858"/>
<circle cx="113.50" cy="256.20" r="1.05" fill="#a2b858"/>
<circle cx="118.90" cy="248.80" r="1.3" fill="#c46262"/>
<circle cx="118.90" cy="252.80" r="1.3" fill="#c46262"/>
<circle cx="120.90" cy="245.40" r="1.05" fill="#a2b858"/>
<circle cx="120.90" cy="256.20" r="1.05" fill="#a2b858"/>
<circle cx="126.30" cy="248.80" r="1.3" fill="#c46262"/>
<circle cx="126.30" cy="252.80" r="1.3" fill="#c46262"/>
<circle cx="128.30" cy="245.40" r="1.05" fill="#a2b858"/>
<circle cx="128.30" cy="256.20" r="1.05" fill="#a2b858"/>
<circle cx="133.70" cy="248.80" r="1.3" fill="#c46262"/>
<circle cx="133.70" cy="252.80" r="1.3" fill="#c46262"/>
<circle cx="135.70" cy="245.40" r="1.05" fill="#a2b858"/>
<circle cx="135.70" cy="256.20" r="1.05" fill="#a2b858"/>
<circle cx="141.10" cy="248.80" r="1.3" fill="#c46262"/>
<circle cx="141.10" cy="252.80" r="1.3" fill="#c46262"/>
<circle cx="143.10" cy="245.40" r="1.05" fill="#a2b858"/>
<circle cx="143.10" cy="256.20" r="1.05" fill="#a2b858"/>
<circle cx="148.50" cy="248.80" r="1.3" fill="#c46262"/>
<circle cx="148.50" cy="252.80" r="1.3" fill="#c46262"/>
<circle cx="150.50" cy="245.40" r="1.05" fill="#a2b858"/>
<circle cx="150.50" cy="256.20" r="1.05" fill="#a2b858"/>
<circle cx="155.90" cy="248.80" r="1.3" fill="#c46262"/>
<circle cx="155.90" cy="252.80" r="1.3" fill="#c46262"/>
<circle cx="157.90" cy="245.40" r="1.05" fill="#a2b858"/>
<circle cx="157.90" cy="256.20" r="1.05" fill="#a2b858"/>
<circle cx="163.30" cy="248.80" r="1.3" fill="#c46262"/>
<circle cx="163.30" cy="252.80" r="1.3" fill="#c46262"/>
<circle cx="165.30" cy="245.40" r="1.05" fill="#a2b858"/>
<circle cx="165.30" cy="256.20" r="1.05" fill="#a2b858"/>
<circle cx="170.70" cy="248.80" r="1.3" fill="#c46262"/>
<circle cx="170.70" cy="252.80" r="1.3" fill="#c46262"/>
<circle cx="172.70" cy="245.40" r="1.05" fill="#a2b858"/>
<circle cx="172.70" cy="256.20" r="1.05" fill="#a2b858"/>
<circle cx="178.10" cy="248.80" r="1.3" fill="#c46262"/>
<circle cx="178.10" cy="252.80" r="1.3" fill="#c46262"/>
<circle cx="180.10" cy="245.40" r="1.05" fill="#a2b858"/>
<circle cx="180.10" cy="256.20" r="1.05" fill="#a2b858"/>
<circle cx="185.50" cy="248.80" r="1.3" fill="#c46262"/>
<circle cx="185.50" cy="252.80" r="1.3" fill="#c46262"/>
<circle cx="187.50" cy="245.40" r="1.05" fill="#a2b858"/>
<circle cx="187.50" cy="256.20" r="1.05" fill="#a2b858"/>
<line x1="114.60" y1="261.30" x2="114.60" y2="265.30" stroke="#9c5c5c" stroke-width="0.72"/>
<line x1="114.60" y1="261.30" x2="116.60" y2="257.90" stroke="#9c5c5c" stroke-width="0.72"/>
<line x1="114.60" y1="265.30" x2="116.60" y2="268.70" stroke="#9c5c5c" stroke-width="0.72"/>
<line x1="116.60" y1="257.90" x2="122.00" y2="261.30" stroke="#9c5c5c" stroke-width="0.72"/>
<line x1="116.60" y1="268.70" x2="122.00" y2="265.30" stroke="#9c5c5c" stroke-width="0.72"/>
<line x1="122.00" y1="261.30" x2="122.00" y2="265.30" stroke="#9c5c5c" stroke-width="0.72"/>
<line x1="122.00" y1="261.30" x2="124.00" y2="257.90" stroke="#9c5c5c" stroke-width="0.72"/>
<line x1="122.00" y1="265.30" x2="124.00" y2="268.70" stroke="#9c5c5c" stroke-width="0.72"/>
<line x1="124.00" y1="257.90" x2="129.40" y2="261.30" stroke="#9c5c5c" stroke-width="0.72"/>
<line x1="124.00" y1="268.70" x2="129.40" y2="265.30" stroke="#9c5c5c" stroke-width="0.72"/>
<line x1="129.40" y1="261.30" x2="129.40" y2="265.30" stroke="#9c5c5c" stroke-width="0.72"/>
<line x1="129.40" y1="261.30" x2="131.40" y2="257.90" stroke="#9c5c5c" stroke-width="0.72"/>
<line x1="129.40" y1="265.30" x2="131.40" y2="268.70" stroke="#9c5c5c" stroke-width="0.72"/>
<line x1="131.40" y1="257.90" x2="136.80" y2="261.30" stroke="#9c5c5c" stroke-width="0.72"/>
<line x1="131.40" y1="268.70" x2="136.80" y2="265.30" stroke="#9c5c5c" stroke-width="0.72"/>
<line x1="136.80" y1="261.30" x2="136.80" y2="265.30" stroke="#9c5c5c" stroke-width="0.72"/>
<line x1="136.80" y1="261.30" x2="138.80" y2="257.90" stroke="#9c5c5c" stroke-width="0.72"/>
<line x1="136.80" y1="265.30" x2="138.80" y2="268.70" stroke="#9c5c5c" stroke-width="0.72"/>
<line x1="138.80" y1="257.90" x2="144.20" y2="261.30" stroke="#9c5c5c" stroke-width="0.72"/>
<line x1="138.80" y1="268.70" x2="144.20" y2="265.30" stroke="#9c5c5c" stroke-width="0.72"/>
<line x1="144.20" y1="261.30" x2="144.20" y2="265.30" stroke="#9c5c5c" stroke-width="0.72"/>
<line x1="144.20" y1="261.30" x2="146.20" y2="257.90" stroke="#9c5c5c" stroke-width="0.72"/>
<line x1="144.20" y1="265.30" x2="146.20" y2="268.70" stroke="#9c5c5c" stroke-width="0.72"/>
<line x1="146.20" y1="257.90" x2="151.60" y2="261.30" stroke="#9c5c5c" stroke-width="0.72"/>
<line x1="146.20" y1="268.70" x2="151.60" y2="265.30" stroke="#9c5c5c" stroke-width="0.72"/>
<line x1="151.60" y1="261.30" x2="151.60" y2="265.30" stroke="#9c5c5c" stroke-width="0.72"/>
<line x1="151.60" y1="261.30" x2="153.60" y2="257.90" stroke="#9c5c5c" stroke-width="0.72"/>
<line x1="151.60" y1="265.30" x2="153.60" y2="268.70" stroke="#9c5c5c" stroke-width="0.72"/>
<line x1="153.60" y1="257.90" x2="159.00" y2="261.30" stroke="#9c5c5c" stroke-width="0.72"/>
<line x1="153.60" y1="268.70" x2="159.00" y2="265.30" stroke="#9c5c5c" stroke-width="0.72"/>
<line x1="159.00" y1="261.30" x2="159.00" y2="265.30" stroke="#9c5c5c" stroke-width="0.72"/>
<line x1="159.00" y1="261.30" x2="161.00" y2="257.90" stroke="#9c5c5c" stroke-width="0.72"/>
<line x1="159.00" y1="265.30" x2="161.00" y2="268.70" stroke="#9c5c5c" stroke-width="0.72"/>
<line x1="161.00" y1="257.90" x2="166.40" y2="261.30" stroke="#9c5c5c" stroke-width="0.72"/>
<line x1="161.00" y1="268.70" x2="166.40" y2="265.30" stroke="#9c5c5c" stroke-width="0.72"/>
<line x1="166.40" y1="261.30" x2="166.40" y2="265.30" stroke="#9c5c5c" stroke-width="0.72"/>
<line x1="166.40" y1="261.30" x2="168.40" y2="257.90" stroke="#9c5c5c" stroke-width="0.72"/>
<line x1="166.40" y1="265.30" x2="168.40" y2="268.70" stroke="#9c5c5c" stroke-width="0.72"/>
<line x1="168.40" y1="257.90" x2="173.80" y2="261.30" stroke="#9c5c5c" stroke-width="0.72"/>
<line x1="168.40" y1="268.70" x2="173.80" y2="265.30" stroke="#9c5c5c" stroke-width="0.72"/>
<line x1="173.80" y1="261.30" x2="173.80" y2="265.30" stroke="#9c5c5c" stroke-width="0.72"/>
<line x1="173.80" y1="261.30" x2="175.80" y2="257.90" stroke="#9c5c5c" stroke-width="0.72"/>
<line x1="173.80" y1="265.30" x2="175.80" y2="268.70" stroke="#9c5c5c" stroke-width="0.72"/>
<line x1="175.80" y1="257.90" x2="181.20" y2="261.30" stroke="#9c5c5c" stroke-width="0.72"/>
<line x1="175.80" y1="268.70" x2="181.20" y2="265.30" stroke="#9c5c5c" stroke-width="0.72"/>
<line x1="181.20" y1="261.30" x2="181.20" y2="265.30" stroke="#9c5c5c" stroke-width="0.72"/>
<line x1="181.20" y1="261.30" x2="183.20" y2="257.90" stroke="#9c5c5c" stroke-width="0.72"/>
<line x1="181.20" y1="265.30" x2="183.20" y2="268.70" stroke="#9c5c5c" stroke-width="0.72"/>
<line x1="183.20" y1="257.90" x2="188.60" y2="261.30" stroke="#9c5c5c" stroke-width="0.72"/>
<line x1="183.20" y1="268.70" x2="188.60" y2="265.30" stroke="#9c5c5c" stroke-width="0.72"/>
<line x1="188.60" y1="261.30" x2="188.60" y2="265.30" stroke="#9c5c5c" stroke-width="0.72"/>
<line x1="188.60" y1="261.30" x2="190.60" y2="257.90" stroke="#9c5c5c" stroke-width="0.72"/>
<line x1="188.60" y1="265.30" x2="190.60" y2="268.70" stroke="#9c5c5c" stroke-width="0.72"/>
<circle cx="114.60" cy="261.30" r="1.3" fill="#c46262"/>
<circle cx="114.60" cy="265.30" r="1.3" fill="#c46262"/>
<circle cx="116.60" cy="257.90" r="1.05" fill="#a2b858"/>
<circle cx="116.60" cy="268.70" r="1.05" fill="#a2b858"/>
<circle cx="122.00" cy="261.30" r="1.3" fill="#c46262"/>
<circle cx="122.00" cy="265.30" r="1.3" fill="#c46262"/>
<circle cx="124.00" cy="257.90" r="1.05" fill="#a2b858"/>
<circle cx="124.00" cy="268.70" r="1.05" fill="#a2b858"/>
<circle cx="129.40" cy="261.30" r="1.3" fill="#c46262"/>
<circle cx="129.40" cy="265.30" r="1.3" fill="#c46262"/>
<circle cx="131.40" cy="257.90" r="1.05" fill="#a2b858"/>
<circle cx="131.40" cy="268.70" r="1.05" fill="#a2b858"/>
<circle cx="136.80" cy="261.30" r="1.3" fill="#c46262"/>
<circle cx="136.80" cy="265.30" r="1.3" fill="#c46262"/>
<circle cx="138.80" cy="257.90" r="1.05" fill="#a2b858"/>
<circle cx="138.80" cy="268.70" r="1.05" fill="#a2b858"/>
<circle cx="144.20" cy="261.30" r="1.3" fill="#c46262"/>
<circle cx="144.20" cy="265.30" r="1.3" fill="#c46262"/>
<circle cx="146.20" cy="257.90" r="1.05" fill="#a2b858"/>
<circle cx="146.20" cy="268.70" r="1.05" fill="#a2b858"/>
<circle cx="151.60" cy="261.30" r="1.3" fill="#c46262"/>
<circle cx="151.60" cy="265.30" r="1.3" fill="#c46262"/>
<circle cx="153.60" cy="257.90" r="1.05" fill="#a2b858"/>
<circle cx="153.60" cy="268.70" r="1.05" fill="#a2b858"/>
<circle cx="159.00" cy="261.30" r="1.3" fill="#c46262"/>
<circle cx="159.00" cy="265.30" r="1.3" fill="#c46262"/>
<circle cx="161.00" cy="257.90" r="1.05" fill="#a2b858"/>
<circle cx="161.00" cy="268.70" r="1.05" fill="#a2b858"/>
<circle cx="166.40" cy="261.30" r="1.3" fill="#c46262"/>
<circle cx="166.40" cy="265.30" r="1.3" fill="#c46262"/>
<circle cx="168.40" cy="257.90" r="1.05" fill="#a2b858"/>
<circle cx="168.40" cy="268.70" r="1.05" fill="#a2b858"/>
<circle cx="173.80" cy="261.30" r="1.3" fill="#c46262"/>
<circle cx="173.80" cy="265.30" r="1.3" fill="#c46262"/>
<circle cx="175.80" cy="257.90" r="1.05" fill="#a2b858"/>
<circle cx="175.80" cy="268.70" r="1.05" fill="#a2b858"/>
<circle cx="181.20" cy="261.30" r="1.3" fill="#c46262"/>
<circle cx="181.20" cy="265.30" r="1.3" fill="#c46262"/>
<circle cx="183.20" cy="257.90" r="1.05" fill="#a2b858"/>
<circle cx="183.20" cy="268.70" r="1.05" fill="#a2b858"/>
<circle cx="188.60" cy="261.30" r="1.3" fill="#c46262"/>
<circle cx="188.60" cy="265.30" r="1.3" fill="#c46262"/>
<circle cx="190.60" cy="257.90" r="1.05" fill="#a2b858"/>
<circle cx="190.60" cy="268.70" r="1.05" fill="#a2b858"/>
<line x1="111.50" y1="273.80" x2="111.50" y2="277.80" stroke="#9c5c5c" stroke-width="0.72"/>
<line x1="111.50" y1="273.80" x2="113.50" y2="270.40" stroke="#9c5c5c" stroke-width="0.72"/>
<line x1="111.50" y1="277.80" x2="113.50" y2="281.20" stroke="#9c5c5c" stroke-width="0.72"/>
<line x1="113.50" y1="270.40" x2="118.90" y2="273.80" stroke="#9c5c5c" stroke-width="0.72"/>
<line x1="113.50" y1="281.20" x2="118.90" y2="277.80" stroke="#9c5c5c" stroke-width="0.72"/>
<line x1="118.90" y1="273.80" x2="118.90" y2="277.80" stroke="#9c5c5c" stroke-width="0.72"/>
<line x1="118.90" y1="273.80" x2="120.90" y2="270.40" stroke="#9c5c5c" stroke-width="0.72"/>
<line x1="118.90" y1="277.80" x2="120.90" y2="281.20" stroke="#9c5c5c" stroke-width="0.72"/>
<line x1="120.90" y1="270.40" x2="126.30" y2="273.80" stroke="#9c5c5c" stroke-width="0.72"/>
<line x1="120.90" y1="281.20" x2="126.30" y2="277.80" stroke="#9c5c5c" stroke-width="0.72"/>
<line x1="126.30" y1="273.80" x2="126.30" y2="277.80" stroke="#9c5c5c" stroke-width="0.72"/>
<line x1="126.30" y1="273.80" x2="128.30" y2="270.40" stroke="#9c5c5c" stroke-width="0.72"/>
<line x1="126.30" y1="277.80" x2="128.30" y2="281.20" stroke="#9c5c5c" stroke-width="0.72"/>
<line x1="128.30" y1="270.40" x2="133.70" y2="273.80" stroke="#9c5c5c" stroke-width="0.72"/>
<line x1="128.30" y1="281.20" x2="133.70" y2="277.80" stroke="#9c5c5c" stroke-width="0.72"/>
<line x1="133.70" y1="273.80" x2="133.70" y2="277.80" stroke="#9c5c5c" stroke-width="0.72"/>
<line x1="133.70" y1="273.80" x2="135.70" y2="270.40" stroke="#9c5c5c" stroke-width="0.72"/>
<line x1="133.70" y1="277.80" x2="135.70" y2="281.20" stroke="#9c5c5c" stroke-width="0.72"/>
<line x1="135.70" y1="270.40" x2="141.10" y2="273.80" stroke="#9c5c5c" stroke-width="0.72"/>
<line x1="135.70" y1="281.20" x2="141.10" y2="277.80" stroke="#9c5c5c" stroke-width="0.72"/>
<line x1="141.10" y1="273.80" x2="141.10" y2="277.80" stroke="#9c5c5c" stroke-width="0.72"/>
<line x1="141.10" y1="273.80" x2="143.10" y2="270.40" stroke="#9c5c5c" stroke-width="0.72"/>
<line x1="141.10" y1="277.80" x2="143.10" y2="281.20" stroke="#9c5c5c" stroke-width="0.72"/>
<line x1="143.10" y1="270.40" x2="148.50" y2="273.80" stroke="#9c5c5c" stroke-width="0.72"/>
<line x1="143.10" y1="281.20" x2="148.50" y2="277.80" stroke="#9c5c5c" stroke-width="0.72"/>
<line x1="148.50" y1="273.80" x2="148.50" y2="277.80" stroke="#9c5c5c" stroke-width="0.72"/>
<line x1="148.50" y1="273.80" x2="150.50" y2="270.40" stroke="#9c5c5c" stroke-width="0.72"/>
<line x1="148.50" y1="277.80" x2="150.50" y2="281.20" stroke="#9c5c5c" stroke-width="0.72"/>
<line x1="150.50" y1="270.40" x2="155.90" y2="273.80" stroke="#9c5c5c" stroke-width="0.72"/>
<line x1="150.50" y1="281.20" x2="155.90" y2="277.80" stroke="#9c5c5c" stroke-width="0.72"/>
<line x1="155.90" y1="273.80" x2="155.90" y2="277.80" stroke="#9c5c5c" stroke-width="0.72"/>
<line x1="155.90" y1="273.80" x2="157.90" y2="270.40" stroke="#9c5c5c" stroke-width="0.72"/>
<line x1="155.90" y1="277.80" x2="157.90" y2="281.20" stroke="#9c5c5c" stroke-width="0.72"/>
<line x1="157.90" y1="270.40" x2="163.30" y2="273.80" stroke="#9c5c5c" stroke-width="0.72"/>
<line x1="157.90" y1="281.20" x2="163.30" y2="277.80" stroke="#9c5c5c" stroke-width="0.72"/>
<line x1="163.30" y1="273.80" x2="163.30" y2="277.80" stroke="#9c5c5c" stroke-width="0.72"/>
<line x1="163.30" y1="273.80" x2="165.30" y2="270.40" stroke="#9c5c5c" stroke-width="0.72"/>
<line x1="163.30" y1="277.80" x2="165.30" y2="281.20" stroke="#9c5c5c" stroke-width="0.72"/>
<line x1="165.30" y1="270.40" x2="170.70" y2="273.80" stroke="#9c5c5c" stroke-width="0.72"/>
<line x1="165.30" y1="281.20" x2="170.70" y2="277.80" stroke="#9c5c5c" stroke-width="0.72"/>
<line x1="170.70" y1="273.80" x2="170.70" y2="277.80" stroke="#9c5c5c" stroke-width="0.72"/>
<line x1="170.70" y1="273.80" x2="172.70" y2="270.40" stroke="#9c5c5c" stroke-width="0.72"/>
<line x1="170.70" y1="277.80" x2="172.70" y2="281.20" stroke="#9c5c5c" stroke-width="0.72"/>
<line x1="172.70" y1="270.40" x2="178.10" y2="273.80" stroke="#9c5c5c" stroke-width="0.72"/>
<line x1="172.70" y1="281.20" x2="178.10" y2="277.80" stroke="#9c5c5c" stroke-width="0.72"/>
<line x1="178.10" y1="273.80" x2="178.10" y2="277.80" stroke="#9c5c5c" stroke-width="0.72"/>
<line x1="178.10" y1="273.80" x2="180.10" y2="270.40" stroke="#9c5c5c" stroke-width="0.72"/>
<line x1="178.10" y1="277.80" x2="180.10" y2="281.20" stroke="#9c5c5c" stroke-width="0.72"/>
<line x1="180.10" y1="270.40" x2="185.50" y2="273.80" stroke="#9c5c5c" stroke-width="0.72"/>
<line x1="180.10" y1="281.20" x2="185.50" y2="277.80" stroke="#9c5c5c" stroke-width="0.72"/>
<line x1="185.50" y1="273.80" x2="185.50" y2="277.80" stroke="#9c5c5c" stroke-width="0.72"/>
<line x1="185.50" y1="273.80" x2="187.50" y2="270.40" stroke="#9c5c5c" stroke-width="0.72"/>
<line x1="185.50" y1="277.80" x2="187.50" y2="281.20" stroke="#9c5c5c" stroke-width="0.72"/>
<circle cx="111.50" cy="273.80" r="1.3" fill="#c46262"/>
<circle cx="111.50" cy="277.80" r="1.3" fill="#c46262"/>
<circle cx="113.50" cy="270.40" r="1.05" fill="#a2b858"/>
<circle cx="113.50" cy="281.20" r="1.05" fill="#a2b858"/>
<circle cx="118.90" cy="273.80" r="1.3" fill="#c46262"/>
<circle cx="118.90" cy="277.80" r="1.3" fill="#c46262"/>
<circle cx="120.90" cy="270.40" r="1.05" fill="#a2b858"/>
<circle cx="120.90" cy="281.20" r="1.05" fill="#a2b858"/>
<circle cx="126.30" cy="273.80" r="1.3" fill="#c46262"/>
<circle cx="126.30" cy="277.80" r="1.3" fill="#c46262"/>
<circle cx="128.30" cy="270.40" r="1.05" fill="#a2b858"/>
<circle cx="128.30" cy="281.20" r="1.05" fill="#a2b858"/>
<circle cx="133.70" cy="273.80" r="1.3" fill="#c46262"/>
<circle cx="133.70" cy="277.80" r="1.3" fill="#c46262"/>
<circle cx="135.70" cy="270.40" r="1.05" fill="#a2b858"/>
<circle cx="135.70" cy="281.20" r="1.05" fill="#a2b858"/>
<circle cx="141.10" cy="273.80" r="1.3" fill="#c46262"/>
<circle cx="141.10" cy="277.80" r="1.3" fill="#c46262"/>
<circle cx="143.10" cy="270.40" r="1.05" fill="#a2b858"/>
<circle cx="143.10" cy="281.20" r="1.05" fill="#a2b858"/>
<circle cx="148.50" cy="273.80" r="1.3" fill="#c46262"/>
<circle cx="148.50" cy="277.80" r="1.3" fill="#c46262"/>
<circle cx="150.50" cy="270.40" r="1.05" fill="#a2b858"/>
<circle cx="150.50" cy="281.20" r="1.05" fill="#a2b858"/>
<circle cx="155.90" cy="273.80" r="1.3" fill="#c46262"/>
<circle cx="155.90" cy="277.80" r="1.3" fill="#c46262"/>
<circle cx="157.90" cy="270.40" r="1.05" fill="#a2b858"/>
<circle cx="157.90" cy="281.20" r="1.05" fill="#a2b858"/>
<circle cx="163.30" cy="273.80" r="1.3" fill="#c46262"/>
<circle cx="163.30" cy="277.80" r="1.3" fill="#c46262"/>
<circle cx="165.30" cy="270.40" r="1.05" fill="#a2b858"/>
<circle cx="165.30" cy="281.20" r="1.05" fill="#a2b858"/>
<circle cx="170.70" cy="273.80" r="1.3" fill="#c46262"/>
<circle cx="170.70" cy="277.80" r="1.3" fill="#c46262"/>
<circle cx="172.70" cy="270.40" r="1.05" fill="#a2b858"/>
<circle cx="172.70" cy="281.20" r="1.05" fill="#a2b858"/>
<circle cx="178.10" cy="273.80" r="1.3" fill="#c46262"/>
<circle cx="178.10" cy="277.80" r="1.3" fill="#c46262"/>
<circle cx="180.10" cy="270.40" r="1.05" fill="#a2b858"/>
<circle cx="180.10" cy="281.20" r="1.05" fill="#a2b858"/>
<circle cx="185.50" cy="273.80" r="1.3" fill="#c46262"/>
<circle cx="185.50" cy="277.80" r="1.3" fill="#c46262"/>
<circle cx="187.50" cy="270.40" r="1.05" fill="#a2b858"/>
<circle cx="187.50" cy="281.20" r="1.05" fill="#a2b858"/>
<line x1="114.60" y1="286.30" x2="114.60" y2="290.30" stroke="#9c5c5c" stroke-width="0.72"/>
<line x1="114.60" y1="286.30" x2="116.60" y2="282.90" stroke="#9c5c5c" stroke-width="0.72"/>
<line x1="114.60" y1="290.30" x2="116.60" y2="293.70" stroke="#9c5c5c" stroke-width="0.72"/>
<line x1="116.60" y1="282.90" x2="122.00" y2="286.30" stroke="#9c5c5c" stroke-width="0.72"/>
<line x1="116.60" y1="293.70" x2="122.00" y2="290.30" stroke="#9c5c5c" stroke-width="0.72"/>
<line x1="122.00" y1="286.30" x2="122.00" y2="290.30" stroke="#9c5c5c" stroke-width="0.72"/>
<line x1="122.00" y1="286.30" x2="124.00" y2="282.90" stroke="#9c5c5c" stroke-width="0.72"/>
<line x1="122.00" y1="290.30" x2="124.00" y2="293.70" stroke="#9c5c5c" stroke-width="0.72"/>
<line x1="124.00" y1="282.90" x2="129.40" y2="286.30" stroke="#9c5c5c" stroke-width="0.72"/>
<line x1="124.00" y1="293.70" x2="129.40" y2="290.30" stroke="#9c5c5c" stroke-width="0.72"/>
<line x1="129.40" y1="286.30" x2="129.40" y2="290.30" stroke="#9c5c5c" stroke-width="0.72"/>
<line x1="129.40" y1="286.30" x2="131.40" y2="282.90" stroke="#9c5c5c" stroke-width="0.72"/>
<line x1="129.40" y1="290.30" x2="131.40" y2="293.70" stroke="#9c5c5c" stroke-width="0.72"/>
<line x1="131.40" y1="282.90" x2="136.80" y2="286.30" stroke="#9c5c5c" stroke-width="0.72"/>
<line x1="131.40" y1="293.70" x2="136.80" y2="290.30" stroke="#9c5c5c" stroke-width="0.72"/>
<line x1="136.80" y1="286.30" x2="136.80" y2="290.30" stroke="#9c5c5c" stroke-width="0.72"/>
<line x1="136.80" y1="286.30" x2="138.80" y2="282.90" stroke="#9c5c5c" stroke-width="0.72"/>
<line x1="136.80" y1="290.30" x2="138.80" y2="293.70" stroke="#9c5c5c" stroke-width="0.72"/>
<line x1="138.80" y1="282.90" x2="144.20" y2="286.30" stroke="#9c5c5c" stroke-width="0.72"/>
<line x1="138.80" y1="293.70" x2="144.20" y2="290.30" stroke="#9c5c5c" stroke-width="0.72"/>
<line x1="144.20" y1="286.30" x2="144.20" y2="290.30" stroke="#9c5c5c" stroke-width="0.72"/>
<line x1="144.20" y1="286.30" x2="146.20" y2="282.90" stroke="#9c5c5c" stroke-width="0.72"/>
<line x1="144.20" y1="290.30" x2="146.20" y2="293.70" stroke="#9c5c5c" stroke-width="0.72"/>
<line x1="146.20" y1="282.90" x2="151.60" y2="286.30" stroke="#9c5c5c" stroke-width="0.72"/>
<line x1="146.20" y1="293.70" x2="151.60" y2="290.30" stroke="#9c5c5c" stroke-width="0.72"/>
<line x1="151.60" y1="286.30" x2="151.60" y2="290.30" stroke="#9c5c5c" stroke-width="0.72"/>
<line x1="151.60" y1="286.30" x2="153.60" y2="282.90" stroke="#9c5c5c" stroke-width="0.72"/>
<line x1="151.60" y1="290.30" x2="153.60" y2="293.70" stroke="#9c5c5c" stroke-width="0.72"/>
<line x1="153.60" y1="282.90" x2="159.00" y2="286.30" stroke="#9c5c5c" stroke-width="0.72"/>
<line x1="153.60" y1="293.70" x2="159.00" y2="290.30" stroke="#9c5c5c" stroke-width="0.72"/>
<line x1="159.00" y1="286.30" x2="159.00" y2="290.30" stroke="#9c5c5c" stroke-width="0.72"/>
<line x1="159.00" y1="286.30" x2="161.00" y2="282.90" stroke="#9c5c5c" stroke-width="0.72"/>
<line x1="159.00" y1="290.30" x2="161.00" y2="293.70" stroke="#9c5c5c" stroke-width="0.72"/>
<line x1="161.00" y1="282.90" x2="166.40" y2="286.30" stroke="#9c5c5c" stroke-width="0.72"/>
<line x1="161.00" y1="293.70" x2="166.40" y2="290.30" stroke="#9c5c5c" stroke-width="0.72"/>
<line x1="166.40" y1="286.30" x2="166.40" y2="290.30" stroke="#9c5c5c" stroke-width="0.72"/>
<line x1="166.40" y1="286.30" x2="168.40" y2="282.90" stroke="#9c5c5c" stroke-width="0.72"/>
<line x1="166.40" y1="290.30" x2="168.40" y2="293.70" stroke="#9c5c5c" stroke-width="0.72"/>
<line x1="168.40" y1="282.90" x2="173.80" y2="286.30" stroke="#9c5c5c" stroke-width="0.72"/>
<line x1="168.40" y1="293.70" x2="173.80" y2="290.30" stroke="#9c5c5c" stroke-width="0.72"/>
<line x1="173.80" y1="286.30" x2="173.80" y2="290.30" stroke="#9c5c5c" stroke-width="0.72"/>
<line x1="173.80" y1="286.30" x2="175.80" y2="282.90" stroke="#9c5c5c" stroke-width="0.72"/>
<line x1="173.80" y1="290.30" x2="175.80" y2="293.70" stroke="#9c5c5c" stroke-width="0.72"/>
<line x1="175.80" y1="282.90" x2="181.20" y2="286.30" stroke="#9c5c5c" stroke-width="0.72"/>
<line x1="175.80" y1="293.70" x2="181.20" y2="290.30" stroke="#9c5c5c" stroke-width="0.72"/>
<line x1="181.20" y1="286.30" x2="181.20" y2="290.30" stroke="#9c5c5c" stroke-width="0.72"/>
<line x1="181.20" y1="286.30" x2="183.20" y2="282.90" stroke="#9c5c5c" stroke-width="0.72"/>
<line x1="181.20" y1="290.30" x2="183.20" y2="293.70" stroke="#9c5c5c" stroke-width="0.72"/>
<line x1="183.20" y1="282.90" x2="188.60" y2="286.30" stroke="#9c5c5c" stroke-width="0.72"/>
<line x1="183.20" y1="293.70" x2="188.60" y2="290.30" stroke="#9c5c5c" stroke-width="0.72"/>
<line x1="188.60" y1="286.30" x2="188.60" y2="290.30" stroke="#9c5c5c" stroke-width="0.72"/>
<line x1="188.60" y1="286.30" x2="190.60" y2="282.90" stroke="#9c5c5c" stroke-width="0.72"/>
<line x1="188.60" y1="290.30" x2="190.60" y2="293.70" stroke="#9c5c5c" stroke-width="0.72"/>
<circle cx="114.60" cy="286.30" r="1.3" fill="#c46262"/>
<circle cx="114.60" cy="290.30" r="1.3" fill="#c46262"/>
<circle cx="116.60" cy="282.90" r="1.05" fill="#a2b858"/>
<circle cx="116.60" cy="293.70" r="1.05" fill="#a2b858"/>
<circle cx="122.00" cy="286.30" r="1.3" fill="#c46262"/>
<circle cx="122.00" cy="290.30" r="1.3" fill="#c46262"/>
<circle cx="124.00" cy="282.90" r="1.05" fill="#a2b858"/>
<circle cx="124.00" cy="293.70" r="1.05" fill="#a2b858"/>
<circle cx="129.40" cy="286.30" r="1.3" fill="#c46262"/>
<circle cx="129.40" cy="290.30" r="1.3" fill="#c46262"/>
<circle cx="131.40" cy="282.90" r="1.05" fill="#a2b858"/>
<circle cx="131.40" cy="293.70" r="1.05" fill="#a2b858"/>
<circle cx="136.80" cy="286.30" r="1.3" fill="#c46262"/>
<circle cx="136.80" cy="290.30" r="1.3" fill="#c46262"/>
<circle cx="138.80" cy="282.90" r="1.05" fill="#a2b858"/>
<circle cx="138.80" cy="293.70" r="1.05" fill="#a2b858"/>
<circle cx="144.20" cy="286.30" r="1.3" fill="#c46262"/>
<circle cx="144.20" cy="290.30" r="1.3" fill="#c46262"/>
<circle cx="146.20" cy="282.90" r="1.05" fill="#a2b858"/>
<circle cx="146.20" cy="293.70" r="1.05" fill="#a2b858"/>
<circle cx="151.60" cy="286.30" r="1.3" fill="#c46262"/>
<circle cx="151.60" cy="290.30" r="1.3" fill="#c46262"/>
<circle cx="153.60" cy="282.90" r="1.05" fill="#a2b858"/>
<circle cx="153.60" cy="293.70" r="1.05" fill="#a2b858"/>
<circle cx="159.00" cy="286.30" r="1.3" fill="#c46262"/>
<circle cx="159.00" cy="290.30" r="1.3" fill="#c46262"/>
<circle cx="161.00" cy="282.90" r="1.05" fill="#a2b858"/>
<circle cx="161.00" cy="293.70" r="1.05" fill="#a2b858"/>
<circle cx="166.40" cy="286.30" r="1.3" fill="#c46262"/>
<circle cx="166.40" cy="290.30" r="1.3" fill="#c46262"/>
<circle cx="168.40" cy="282.90" r="1.05" fill="#a2b858"/>
<circle cx="168.40" cy="293.70" r="1.05" fill="#a2b858"/>
<circle cx="173.80" cy="286.30" r="1.3" fill="#c46262"/>
<circle cx="173.80" cy="290.30" r="1.3" fill="#c46262"/>
<circle cx="175.80" cy="282.90" r="1.05" fill="#a2b858"/>
<circle cx="175.80" cy="293.70" r="1.05" fill="#a2b858"/>
<circle cx="181.20" cy="286.30" r="1.3" fill="#c46262"/>
<circle cx="181.20" cy="290.30" r="1.3" fill="#c46262"/>
<circle cx="183.20" cy="282.90" r="1.05" fill="#a2b858"/>
<circle cx="183.20" cy="293.70" r="1.05" fill="#a2b858"/>
<circle cx="188.60" cy="286.30" r="1.3" fill="#c46262"/>
<circle cx="188.60" cy="290.30" r="1.3" fill="#c46262"/>
<circle cx="190.60" cy="282.90" r="1.05" fill="#a2b858"/>
<circle cx="190.60" cy="293.70" r="1.05" fill="#a2b858"/>
<ellipse cx="154.3" cy="238.2" rx="6.0" ry="24.3" fill="#dcebc8" fill-opacity="0.62" stroke="#7a9aa0" stroke-width="0.8"/>
<circle cx="153.5" cy="214.6" r="2.7" fill="#e02030"/>
<line x1="151.90" y1="214.60" x2="155.10" y2="214.60" stroke="#fff" stroke-width="0.8"/>
<line x1="153.50" y1="213.00" x2="153.50" y2="216.20" stroke="#fff" stroke-width="0.8"/>
<circle cx="153.5" cy="262.5" r="2.7" fill="#2898e0"/>
<line x1="151.90" y1="262.50" x2="155.10" y2="262.50" stroke="#fff" stroke-width="0.8"/>
<rect x="197.3" y="214" width="1.3" height="54" fill="url(#arrg)"/>
<polygon points="197.95,208.50 195.80,215.00 200.10,215.00" fill="#9fb4cf"/>
<text x="200.80" y="245.80" font-size="10" text-anchor="start" fill="#000" font-weight="bold" stroke="#000" stroke-width="0.1" >p</text>
<defs>
<linearGradient id="cbar" x1="0" y1="0" x2="1" y2="0"><stop offset="0.0" stop-color="#9e0142"/><stop offset="0.1" stop-color="#d53e4f"/><stop offset="0.2" stop-color="#f46d43"/><stop offset="0.3" stop-color="#fdae61"/><stop offset="0.4" stop-color="#fee08b"/><stop offset="0.5" stop-color="#ffffbf"/><stop offset="0.6" stop-color="#e6f598"/><stop offset="0.7" stop-color="#abdda4"/><stop offset="0.8" stop-color="#66c2a5"/><stop offset="0.9" stop-color="#3288bd"/><stop offset="1.0" stop-color="#5e4fa2"/></linearGradient>
<linearGradient id="pg0" gradientUnits="userSpaceOnUse" x1="255.0" y1="50" x2="385.0" y2="34.40"><stop offset="0.0531" stop-color="#ae1346"/><stop offset="0.2047" stop-color="#ba2048"/><stop offset="0.2957" stop-color="#d0384e"/><stop offset="0.3488" stop-color="#de4c4b"/><stop offset="0.3943" stop-color="#f46d43"/><stop offset="0.4322" stop-color="#fba15b"/><stop offset="0.4626" stop-color="#fecc7a"/><stop offset="0.4891" stop-color="#fef0a5"/><stop offset="0.5157" stop-color="#f2faac"/><stop offset="0.5422" stop-color="#c8e99e"/><stop offset="0.5687" stop-color="#96d5a4"/><stop offset="0.5991" stop-color="#6dc5a5"/><stop offset="0.6294" stop-color="#5cb6aa"/><stop offset="0.6597" stop-color="#61bca7"/><stop offset="0.6901" stop-color="#82cda5"/><stop offset="0.7204" stop-color="#c3e79f"/><stop offset="0.7507" stop-color="#f0f9a8"/><stop offset="0.7962" stop-color="#fff9b5"/><stop offset="0.8569" stop-color="#feeca0"/><stop offset="0.9327" stop-color="#fff6af"/></linearGradient>
<linearGradient id="pg1" gradientUnits="userSpaceOnUse" x1="255.0" y1="101" x2="385.0" y2="85.40"><stop offset="0.0531" stop-color="#ae1346"/><stop offset="0.1592" stop-color="#ba2048"/><stop offset="0.2123" stop-color="#ca324c"/><stop offset="0.2578" stop-color="#e1514a"/><stop offset="0.3033" stop-color="#f57446"/><stop offset="0.3412" stop-color="#fba15b"/><stop offset="0.3716" stop-color="#fec776"/><stop offset="0.4019" stop-color="#feeca0"/><stop offset="0.4322" stop-color="#f7fcb3"/><stop offset="0.4626" stop-color="#daf09a"/><stop offset="0.4929" stop-color="#a4daa4"/><stop offset="0.5232" stop-color="#7bcaa5"/><stop offset="0.5536" stop-color="#66c2a5"/><stop offset="0.5915" stop-color="#66c2a5"/><stop offset="0.6294" stop-color="#82cda5"/><stop offset="0.6673" stop-color="#b7e2a2"/><stop offset="0.7052" stop-color="#e6f598"/><stop offset="0.7583" stop-color="#f2faac"/><stop offset="0.8341" stop-color="#f5fbaf"/><stop offset="0.9327" stop-color="#ebf7a0"/></linearGradient>
<linearGradient id="pg2" gradientUnits="userSpaceOnUse" x1="255.0" y1="153" x2="385.0" y2="207.60"><stop offset="0.0458" stop-color="#ae1346"/><stop offset="0.1112" stop-color="#ba2048"/><stop offset="0.1635" stop-color="#d0384e"/><stop offset="0.1896" stop-color="#e45649"/><stop offset="0.2158" stop-color="#f8874f"/><stop offset="0.2419" stop-color="#fdc272"/><stop offset="0.2681" stop-color="#fef0a5"/><stop offset="0.2942" stop-color="#f2faac"/><stop offset="0.3204" stop-color="#ceeb9d"/><stop offset="0.3466" stop-color="#9dd8a4"/><stop offset="0.3727" stop-color="#74c7a5"/><stop offset="0.4054" stop-color="#66c2a5"/><stop offset="0.4381" stop-color="#74c7a5"/><stop offset="0.4643" stop-color="#9dd8a4"/><stop offset="0.4904" stop-color="#daf09a"/><stop offset="0.5166" stop-color="#fafdb7"/><stop offset="0.5427" stop-color="#fee695"/><stop offset="0.5689" stop-color="#fdc272"/><stop offset="0.6081" stop-color="#fca85e"/><stop offset="0.6866" stop-color="#fa9a58"/><stop offset="0.8043" stop-color="#f99455"/></linearGradient>
<linearGradient id="pg3" gradientUnits="userSpaceOnUse" x1="255.0" y1="206" x2="385.0" y2="237.20"><stop offset="0.0509" stop-color="#ca324c"/><stop offset="0.0800" stop-color="#de4c4b"/><stop offset="0.1091" stop-color="#f46d43"/><stop offset="0.1382" stop-color="#fdae61"/><stop offset="0.1673" stop-color="#fee695"/><stop offset="0.1964" stop-color="#f2faac"/><stop offset="0.2255" stop-color="#c3e79f"/><stop offset="0.2618" stop-color="#88d0a4"/><stop offset="0.3055" stop-color="#66c2a5"/><stop offset="0.3491" stop-color="#66c2a5"/><stop offset="0.3855" stop-color="#8fd2a4"/><stop offset="0.4146" stop-color="#ceeb9d"/><stop offset="0.4437" stop-color="#f5fbaf"/><stop offset="0.4728" stop-color="#fef0a5"/><stop offset="0.5019" stop-color="#fec776"/><stop offset="0.5310" stop-color="#f99455"/><stop offset="0.5673" stop-color="#ee6445"/><stop offset="0.6182" stop-color="#db474d"/><stop offset="0.6764" stop-color="#c42c4b"/><stop offset="0.7492" stop-color="#b41947"/><stop offset="0.8946" stop-color="#ae1346"/></linearGradient>
</defs>
<rect x="284.8" y="15.4" width="72" height="7.3" fill="url(#cbar)" stroke="#333" stroke-width="0.6"/>
<text x="284.60" y="10.70" font-size="7" text-anchor="middle" fill="#111" font-weight="normal" stroke="#111" stroke-width="0.1" >0</text>
<text x="356.00" y="10.70" font-size="7" text-anchor="middle" fill="#111" font-weight="normal" stroke="#111" stroke-width="0.1" >1</text>
<text x="307.20" y="9.90" font-size="7.2" text-anchor="start" fill="#111" font-weight="normal" stroke="#111" stroke-width="0.1" >Norm. PL</text>
<line x1="260.30" y1="39.40" x2="260.30" y2="245.50" stroke="#2e2e2e" stroke-width="1" stroke-dasharray="4.8,3.1"/>
<line x1="357.60" y1="31.30" x2="357.60" y2="238.30" stroke="#2e2e2e" stroke-width="1" stroke-dasharray="4.8,3.1"/>
<line x1="378.60" y1="61.00" x2="378.60" y2="269.30" stroke="#2e2e2e" stroke-width="1" stroke-dasharray="4.8,3.1"/>
<polygon points="259.70,39.40 357.30,31.30 378.90,60.50 281.30,68.60" fill="url(#pg0)"/>
<polygon points="260.40,90.10 357.80,83.10 378.70,113.70 281.30,120.70" fill="url(#pg1)"/>
<polygon points="260.40,141.60 357.80,134.20 378.70,164.80 281.30,172.20" fill="url(#pg2)"/>
<polygon points="261.60,195.40 359.00,188.50 378.70,217.00 281.30,223.90" fill="url(#pg3)"/>
<text x="334.60" y="57.50" font-size="7" text-anchor="start" fill="#111" font-weight="normal" stroke="#111" stroke-width="0.1" >2L/3L</text>
<text x="334.60" y="108.60" font-size="7" text-anchor="start" fill="#111" font-weight="normal" stroke="#111" stroke-width="0.1" >2L/4L</text>
<text x="334.60" y="160.20" font-size="7" text-anchor="start" fill="#111" font-weight="normal" stroke="#111" stroke-width="0.1" >2L/5L</text>
<text x="334.60" y="211.80" font-size="7" text-anchor="start" fill="#111" font-weight="normal" stroke="#111" stroke-width="0.1" >2L/6L</text>
<line x1="281.30" y1="68.60" x2="281.30" y2="276.50" stroke="#2e2e2e" stroke-width="1" stroke-dasharray="4.8,3.1"/>
<polygon points="260.20,245.50 358.00,238.30 379.40,269.30 280.90,276.50" fill="none" stroke="#4a4a4a" stroke-width="0.75"/>
<line x1="280.90" y1="276.50" x2="283.10" y2="276.34" stroke="#4a4a4a" stroke-width="0.6"/>
<line x1="274.00" y1="266.17" x2="276.20" y2="266.01" stroke="#4a4a4a" stroke-width="0.6"/>
<line x1="267.10" y1="255.83" x2="269.30" y2="255.67" stroke="#4a4a4a" stroke-width="0.6"/>
<line x1="260.20" y1="245.50" x2="262.40" y2="245.34" stroke="#4a4a4a" stroke-width="0.6"/>
<line x1="304.20" y1="274.80" x2="304.20" y2="276.40" stroke="#666" stroke-width="0.6"/>
<line x1="332.60" y1="272.72" x2="332.60" y2="274.32" stroke="#666" stroke-width="0.6"/>
<line x1="361.00" y1="270.64" x2="361.00" y2="272.24" stroke="#666" stroke-width="0.6"/>
<text x="252.10" y="254.80" font-size="6.8" text-anchor="middle" fill="#222" font-weight="normal" stroke="#222" stroke-width="0.1" >30</text>
<text x="258.50" y="263.60" font-size="6.8" text-anchor="middle" fill="#222" font-weight="normal" stroke="#222" stroke-width="0.1" >20</text>
<text x="265.40" y="273.50" font-size="6.8" text-anchor="middle" fill="#222" font-weight="normal" stroke="#222" stroke-width="0.1" >10</text>
<text x="273.70" y="282.80" font-size="6.8" text-anchor="middle" fill="#222" font-weight="normal" stroke="#222" stroke-width="0.1" >0</text>
<text x="313.20" y="288.40" font-size="6.8" text-anchor="middle" fill="#222" font-weight="normal" stroke="#222" stroke-width="0.1" >1.36</text>
<text x="341.80" y="286.00" font-size="6.8" text-anchor="middle" fill="#222" font-weight="normal" stroke="#222" stroke-width="0.1" >1.43</text>
<text x="370.40" y="283.60" font-size="6.8" text-anchor="middle" fill="#222" font-weight="normal" stroke="#222" stroke-width="0.1" >1.50</text>
<text x="306.80" y="296.40" font-size="7.6" text-anchor="start" fill="#222" font-weight="normal" stroke="#222" stroke-width="0.1" >Energy (eV)</text>
<text x="234.80" y="250.20" font-size="7.4" text-anchor="start" fill="#222" font-weight="normal" stroke="#222" stroke-width="0.1" transform="rotate(59 234.8 250.2)">F<tspan font-size="5" dy="1.5">z</tspan><tspan dy="-1.5"> (mV nm</tspan><tspan font-size="5" dy="-2.5">-1</tspan><tspan dy="2.5">)</tspan></text>
<line x1="286.99" y1="273.09" x2="289.71" y2="266.91" stroke="#f0389a" stroke-width="0.8"/>
<line x1="291.47" y1="262.88" x2="294.13" y2="256.72" stroke="#f0389a" stroke-width="0.8"/>
<line x1="296.23" y1="252.88" x2="300.67" y2="246.32" stroke="#f0389a" stroke-width="0.8"/>
<circle cx="286.1" cy="275.1" r="1.55" fill="#fff" stroke="#f0389a" stroke-width="1.0"/>
<circle cx="290.6" cy="264.9" r="1.55" fill="#fff" stroke="#f0389a" stroke-width="1.0"/>
<circle cx="295" cy="254.7" r="1.55" fill="#fff" stroke="#f0389a" stroke-width="1.0"/>
<circle cx="301.9" cy="244.5" r="1.55" fill="#fff" stroke="#f0389a" stroke-width="1.0"/>
<line x1="308.76" y1="265.27" x2="308.34" y2="267.63" stroke="#b03aa8" stroke-width="0.85"/>
<line x1="307.64" y1="271.63" x2="307.99" y2="269.66" stroke="#b03aa8" stroke-width="0.85"/>
<line x1="312.46" y1="254.86" x2="311.57" y2="257.09" stroke="#b03aa8" stroke-width="0.85"/>
<line x1="309.84" y1="261.44" x2="310.58" y2="259.58" stroke="#b03aa8" stroke-width="0.85"/>
<line x1="314.99" y1="244.56" x2="314.49" y2="246.90" stroke="#b03aa8" stroke-width="0.85"/>
<line x1="313.61" y1="251.04" x2="314.03" y2="249.09" stroke="#b03aa8" stroke-width="0.85"/>
<circle cx="307.3" cy="273.6" r="1.55" fill="#fff" stroke="#b03aa8" stroke-width="1.0"/>
<circle cx="309.1" cy="263.3" r="1.55" fill="#fff" stroke="#b03aa8" stroke-width="1.0"/>
<circle cx="313.2" cy="253" r="1.55" fill="#fff" stroke="#b03aa8" stroke-width="1.0"/>
<circle cx="315.4" cy="242.6" r="1.55" fill="#fff" stroke="#b03aa8" stroke-width="1.0"/>
<line x1="321.54" y1="264.15" x2="320.99" y2="266.48" stroke="#7a35a8" stroke-width="0.85"/>
<line x1="320.06" y1="270.45" x2="320.52" y2="268.51" stroke="#7a35a8" stroke-width="0.85"/>
<line x1="322.80" y1="253.99" x2="322.57" y2="256.38" stroke="#7a35a8" stroke-width="0.85"/>
<line x1="322.20" y1="260.21" x2="322.39" y2="258.22" stroke="#7a35a8" stroke-width="0.85"/>
<line x1="325.44" y1="243.72" x2="324.76" y2="246.02" stroke="#7a35a8" stroke-width="0.85"/>
<line x1="323.56" y1="250.08" x2="324.13" y2="248.16" stroke="#7a35a8" stroke-width="0.85"/>
<circle cx="319.6" cy="272.4" r="1.55" fill="#fff" stroke="#7a35a8" stroke-width="1.0"/>
<circle cx="322" cy="262.2" r="1.55" fill="#fff" stroke="#7a35a8" stroke-width="1.0"/>
<circle cx="323" cy="252" r="1.55" fill="#fff" stroke="#7a35a8" stroke-width="1.0"/>
<circle cx="326" cy="241.8" r="1.55" fill="#fff" stroke="#7a35a8" stroke-width="1.0"/>
<line x1="335.50" y1="263.46" x2="335.97" y2="265.81" stroke="#2a3aa0" stroke-width="0.85"/>
<line x1="336.70" y1="269.44" x2="336.31" y2="267.48" stroke="#2a3aa0" stroke-width="0.85"/>
<line x1="335.34" y1="253.30" x2="335.27" y2="255.70" stroke="#2a3aa0" stroke-width="0.85"/>
<line x1="335.16" y1="259.50" x2="335.22" y2="257.50" stroke="#2a3aa0" stroke-width="0.85"/>
<line x1="334.20" y1="243.48" x2="334.57" y2="245.85" stroke="#2a3aa0" stroke-width="0.85"/>
<line x1="335.10" y1="249.32" x2="334.79" y2="247.35" stroke="#2a3aa0" stroke-width="0.85"/>
<circle cx="337.1" cy="271.4" r="1.55" fill="#fff" stroke="#2a3aa0" stroke-width="1.0"/>
<circle cx="335.1" cy="261.5" r="1.55" fill="#fff" stroke="#2a3aa0" stroke-width="1.0"/>
<circle cx="335.4" cy="251.3" r="1.55" fill="#fff" stroke="#2a3aa0" stroke-width="1.0"/>
<circle cx="333.9" cy="241.5" r="1.55" fill="#fff" stroke="#2a3aa0" stroke-width="1.0"/>
<clipPath id="cc"><rect x="436.8" y="13.6" width="92.99999999999994" height="109.60000000000001"/></clipPath>
<g clip-path="url(#cc)">
<polyline points="437.00,118.00 442.00,118.20 448.90,117.80 457.50,116.30 463.00,115.00 468.30,112.80 472.50,110.30 476.90,106.80 483.40,98.70 487.70,90.10 490.90,79.40 494.10,66.50 496.50,57.00 499.60,44.00 502.50,33.00 505.60,26.90 509.50,28.90 512.00,34.00 514.50,39.80 517.00,45.50 519.50,50.70 521.50,51.50 523.50,50.70 526.50,45.50 529.40,39.80" fill="none" stroke="#1f2a94" stroke-width="2.8" stroke-linejoin="round" stroke-linecap="round"/>
<polyline points="437.00,117.50 445.00,117.00 451.00,115.30 457.50,112.70 466.10,105.20 472.60,96.60 479.00,83.70 483.40,70.80 486.00,58.00 488.70,45.80 492.00,35.00 495.60,28.90 499.20,29.90 502.00,35.00 504.60,41.80 508.00,49.00 511.50,55.70 514.00,60.00 516.50,63.70 520.00,62.00 523.50,59.70 526.00,56.00 528.40,52.70 529.50,50.50" fill="none" stroke="#64309a" stroke-width="2.8" stroke-linejoin="round" stroke-linecap="round"/>
<polyline points="437.00,117.50 445.00,116.50 449.00,114.50 453.20,111.70 461.80,100.90 468.30,90.10 474.70,77.20 479.00,66.50 481.20,60.00 484.70,50.70 487.00,47.50 489.70,46.80 492.50,50.50 495.60,55.70 498.50,60.00 501.60,63.70 505.60,67.60 508.50,65.00 511.50,61.70 514.50,57.00 517.50,51.70 520.50,44.00 523.50,35.80 526.50,26.00 529.40,17.00" fill="none" stroke="#b0389c" stroke-width="2.8" stroke-linejoin="round" stroke-linecap="round"/>
<polyline points="437.00,116.60 442.50,116.40 446.00,115.60 449.00,113.20 452.00,109.00 455.40,103.20 459.70,90.10 464.00,77.20 468.30,67.50 472.60,64.70 478.00,64.70 482.30,69.70 487.70,76.10 494.10,80.40 500.60,83.70 507.00,86.90 513.50,90.10 517.80,93.40 522.10,95.50 526.00,94.00 529.60,92.30" fill="none" stroke="#ff3b94" stroke-width="2.8" stroke-linejoin="round" stroke-linecap="round"/>
</g>
<rect x="436.8" y="13.6" width="92.99999999999994" height="109.60000000000001" fill="none" stroke="#1a1a1a" stroke-width="0.85"/>
<line x1="442.80" y1="123.20" x2="442.80" y2="120.80" stroke="#222" stroke-width="0.75"/>
<line x1="442.80" y1="13.60" x2="442.80" y2="16.00" stroke="#222" stroke-width="0.75"/>
<text x="442.80" y="134.00" font-size="7" text-anchor="middle" fill="#222" font-weight="normal" stroke="#222" stroke-width="0.1" >1.2</text>
<line x1="467.40" y1="123.20" x2="467.40" y2="120.80" stroke="#222" stroke-width="0.75"/>
<line x1="467.40" y1="13.60" x2="467.40" y2="16.00" stroke="#222" stroke-width="0.75"/>
<text x="467.40" y="134.00" font-size="7" text-anchor="middle" fill="#222" font-weight="normal" stroke="#222" stroke-width="0.1" >1.3</text>
<line x1="492.00" y1="123.20" x2="492.00" y2="120.80" stroke="#222" stroke-width="0.75"/>
<line x1="492.00" y1="13.60" x2="492.00" y2="16.00" stroke="#222" stroke-width="0.75"/>
<text x="492.00" y="134.00" font-size="7" text-anchor="middle" fill="#222" font-weight="normal" stroke="#222" stroke-width="0.1" >1.4</text>
<line x1="516.60" y1="123.20" x2="516.60" y2="120.80" stroke="#222" stroke-width="0.75"/>
<line x1="516.60" y1="13.60" x2="516.60" y2="16.00" stroke="#222" stroke-width="0.75"/>
<text x="516.60" y="134.00" font-size="7" text-anchor="middle" fill="#222" font-weight="normal" stroke="#222" stroke-width="0.1" >1.5</text>
<text x="483.60" y="144.10" font-size="8.3" text-anchor="middle" fill="#222" font-weight="normal" stroke="#222" stroke-width="0.1" >Energy (eV)</text>
<text x="429.70" y="64.70" font-size="8.2" text-anchor="middle" fill="#222" font-weight="normal" stroke="#222" stroke-width="0.1" dominant-baseline="central" transform="rotate(-90 429.7 64.7)">PL Intensity (arb. units)</text>
<line x1="443.00" y1="24.00" x2="450.60" y2="24.00" stroke="#1f2a94" stroke-width="1.9"/>
<text x="452.10" y="26.70" font-size="7.4" text-anchor="start" fill="#111" font-weight="normal" stroke="#111" stroke-width="0.1" >2L/3L</text>
<line x1="443.00" y1="33.50" x2="450.60" y2="33.50" stroke="#64309a" stroke-width="1.9"/>
<text x="452.10" y="36.20" font-size="7.4" text-anchor="start" fill="#111" font-weight="normal" stroke="#111" stroke-width="0.1" >2L/4L</text>
<line x1="443.00" y1="42.60" x2="450.60" y2="42.60" stroke="#b0389c" stroke-width="1.9"/>
<text x="452.10" y="45.30" font-size="7.4" text-anchor="start" fill="#111" font-weight="normal" stroke="#111" stroke-width="0.1" >2L/5L</text>
<line x1="443.00" y1="52.20" x2="450.60" y2="52.20" stroke="#ff3b94" stroke-width="1.9"/>
<text x="452.10" y="54.90" font-size="7.4" text-anchor="start" fill="#111" font-weight="normal" stroke="#111" stroke-width="0.1" >2L/6L</text>
<rect x="442.8" y="166.1" width="93.99999999999994" height="113.70000000000002" fill="none" stroke="#1a1a1a" stroke-width="0.85"/>
<rect x="448.60" y="234.78" width="11.8" height="45.02" fill="#d27896" stroke="#6a3a4c" stroke-width="0.6"/>
<line x1="454.50" y1="232.11" x2="454.50" y2="237.45" stroke="#111" stroke-width="0.8"/>
<line x1="452.20" y1="232.11" x2="456.80" y2="232.11" stroke="#111" stroke-width="0.8"/>
<line x1="452.20" y1="237.45" x2="456.80" y2="237.45" stroke="#111" stroke-width="0.8"/>
<line x1="454.50" y1="166.10" x2="454.50" y2="169.70" stroke="#222" stroke-width="0.75"/>
<line x1="454.50" y1="279.80" x2="454.50" y2="276.60" stroke="#333" stroke-width="0.75"/>
<rect x="472.00" y="217.44" width="11.8" height="62.36" fill="#d27896" stroke="#6a3a4c" stroke-width="0.6"/>
<line x1="477.90" y1="213.43" x2="477.90" y2="221.44" stroke="#111" stroke-width="0.8"/>
<line x1="475.60" y1="213.43" x2="480.20" y2="213.43" stroke="#111" stroke-width="0.8"/>
<line x1="475.60" y1="221.44" x2="480.20" y2="221.44" stroke="#111" stroke-width="0.8"/>
<line x1="477.90" y1="166.10" x2="477.90" y2="169.70" stroke="#222" stroke-width="0.75"/>
<line x1="477.90" y1="279.80" x2="477.90" y2="276.60" stroke="#333" stroke-width="0.75"/>
<rect x="495.30" y="201.43" width="11.8" height="78.37" fill="#d27896" stroke="#6a3a4c" stroke-width="0.6"/>
<line x1="501.20" y1="198.76" x2="501.20" y2="204.10" stroke="#111" stroke-width="0.8"/>
<line x1="498.90" y1="198.76" x2="503.50" y2="198.76" stroke="#111" stroke-width="0.8"/>
<line x1="498.90" y1="204.10" x2="503.50" y2="204.10" stroke="#111" stroke-width="0.8"/>
<line x1="501.20" y1="166.10" x2="501.20" y2="169.70" stroke="#222" stroke-width="0.75"/>
<line x1="501.20" y1="279.80" x2="501.20" y2="276.60" stroke="#333" stroke-width="0.75"/>
<rect x="519.00" y="190.42" width="11.8" height="89.38" fill="#d27896" stroke="#6a3a4c" stroke-width="0.6"/>
<line x1="524.90" y1="187.09" x2="524.90" y2="193.76" stroke="#111" stroke-width="0.8"/>
<line x1="522.60" y1="187.09" x2="527.20" y2="187.09" stroke="#111" stroke-width="0.8"/>
<line x1="522.60" y1="193.76" x2="527.20" y2="193.76" stroke="#111" stroke-width="0.8"/>
<line x1="524.90" y1="166.10" x2="524.90" y2="169.70" stroke="#222" stroke-width="0.75"/>
<line x1="524.90" y1="279.80" x2="524.90" y2="276.60" stroke="#333" stroke-width="0.75"/>
<line x1="442.80" y1="279.80" x2="446.00" y2="279.80" stroke="#222" stroke-width="0.75"/>
<line x1="536.80" y1="279.80" x2="533.60" y2="279.80" stroke="#222" stroke-width="0.75"/>
<text x="438.60" y="282.20" font-size="7" text-anchor="end" fill="#222" font-weight="normal" stroke="#222" stroke-width="0.1" >0</text>
<line x1="442.80" y1="246.45" x2="446.00" y2="246.45" stroke="#222" stroke-width="0.75"/>
<line x1="536.80" y1="246.45" x2="533.60" y2="246.45" stroke="#222" stroke-width="0.75"/>
<text x="438.60" y="248.85" font-size="7" text-anchor="end" fill="#222" font-weight="normal" stroke="#222" stroke-width="0.1" >1</text>
<line x1="442.80" y1="213.10" x2="446.00" y2="213.10" stroke="#222" stroke-width="0.75"/>
<line x1="536.80" y1="213.10" x2="533.60" y2="213.10" stroke="#222" stroke-width="0.75"/>
<text x="438.60" y="215.50" font-size="7" text-anchor="end" fill="#222" font-weight="normal" stroke="#222" stroke-width="0.1" >2</text>
<line x1="442.80" y1="179.75" x2="446.00" y2="179.75" stroke="#222" stroke-width="0.75"/>
<line x1="536.80" y1="179.75" x2="533.60" y2="179.75" stroke="#222" stroke-width="0.75"/>
<text x="438.60" y="182.15" font-size="7" text-anchor="end" fill="#222" font-weight="normal" stroke="#222" stroke-width="0.1" >3</text>
<text x="454.80" y="226.10" font-size="7.2" text-anchor="middle" fill="#111" font-weight="normal" stroke="#111" stroke-width="0.1" >1.35</text>
<text x="477.90" y="209.10" font-size="7.2" text-anchor="middle" fill="#111" font-weight="normal" stroke="#111" stroke-width="0.1" >1.87</text>
<text x="501.40" y="192.90" font-size="7.2" text-anchor="middle" fill="#111" font-weight="normal" stroke="#111" stroke-width="0.1" >2.35</text>
<text x="524.90" y="181.90" font-size="7.2" text-anchor="middle" fill="#111" font-weight="normal" stroke="#111" stroke-width="0.1" >2.68</text>
<rect x="445.2" y="173.1" width="22.6" height="8.4" fill="#d27896" stroke="#5a3040" stroke-width="0.7"/>
<text x="468.40" y="180.00" font-size="6.9" text-anchor="start" fill="#111" font-weight="normal" stroke="#111" stroke-width="0.1" >Exp.Data</text>
<text x="454.20" y="290.60" font-size="7.6" text-anchor="middle" fill="#222" font-weight="normal" stroke="#222" stroke-width="0.1" >2L/3L</text>
<text x="477.60" y="290.60" font-size="7.6" text-anchor="middle" fill="#222" font-weight="normal" stroke="#222" stroke-width="0.1" >2L/4L</text>
<text x="501.20" y="290.60" font-size="7.6" text-anchor="middle" fill="#222" font-weight="normal" stroke="#222" stroke-width="0.1" >2L/5L</text>
<text x="524.80" y="290.60" font-size="7.6" text-anchor="middle" fill="#222" font-weight="normal" stroke="#222" stroke-width="0.1" >2L/6L</text>
<text x="489.70" y="301.30" font-size="8.3" text-anchor="middle" fill="#222" font-weight="normal" stroke="#222" stroke-width="0.1" >Combination</text>
<text x="428.00" y="230.10" font-size="8.8" text-anchor="middle" fill="#222" font-weight="normal" stroke="#222" stroke-width="0.1" dominant-baseline="central" transform="rotate(-90 428 230.1)">Dipole moment (e nm)</text>
<rect x="606.00" y="34.90" width="35.80" height="86.70" fill="rgb(247, 123, 95)" fill-opacity="0.25"/>
<rect x="616.90" y="53.30" width="25.60" height="68.30" fill="rgb(241, 100, 170)" fill-opacity="0.25"/>
<rect x="626.60" y="71.30" width="25.70" height="50.30" fill="rgb(170, 90, 160)" fill-opacity="0.18"/>
<rect x="636.20" y="89.40" width="25.40" height="32.20" fill="rgb(105, 70, 155)" fill-opacity="0.2"/>
<rect x="640.10" y="107.20" width="29.60" height="14.40" fill="rgb(90, 105, 190)" fill-opacity="0.2"/>
<rect x="595.6" y="12.8" width="84.60000000000002" height="108.8" fill="none" stroke="#1a1a1a" stroke-width="0.85"/>
<line x1="606.30" y1="30.90" x2="641.50" y2="30.90" stroke="#ff2a00" stroke-width="2.4"/>
<rect x="604.95" y="27.20" width="2.7" height="7.4" fill="#ff2a00"/>
<rect x="640.15" y="27.20" width="2.7" height="7.4" fill="#ff2a00"/>
<line x1="595.60" y1="30.90" x2="598.60" y2="30.90" stroke="#222" stroke-width="0.75"/>
<line x1="680.20" y1="30.90" x2="677.20" y2="30.90" stroke="#222" stroke-width="0.75"/>
<text x="592.20" y="33.80" font-size="7.3" text-anchor="end" fill="#222" font-weight="normal" stroke="#222" stroke-width="0.1" >3L/6L</text>
<line x1="617.20" y1="49.30" x2="642.20" y2="49.30" stroke="#f0288c" stroke-width="2.4"/>
<rect x="615.85" y="45.60" width="2.7" height="7.4" fill="#f0288c"/>
<rect x="640.85" y="45.60" width="2.7" height="7.4" fill="#f0288c"/>
<line x1="595.60" y1="49.30" x2="598.60" y2="49.30" stroke="#222" stroke-width="0.75"/>
<line x1="680.20" y1="49.30" x2="677.20" y2="49.30" stroke="#222" stroke-width="0.75"/>
<text x="592.20" y="52.20" font-size="7.3" text-anchor="end" fill="#222" font-weight="normal" stroke="#222" stroke-width="0.1" >2L/6L</text>
<line x1="626.90" y1="67.30" x2="652.00" y2="67.30" stroke="#aa288c" stroke-width="2.4"/>
<rect x="625.55" y="63.60" width="2.7" height="7.4" fill="#aa288c"/>
<rect x="650.65" y="63.60" width="2.7" height="7.4" fill="#aa288c"/>
<line x1="595.60" y1="67.30" x2="598.60" y2="67.30" stroke="#222" stroke-width="0.75"/>
<line x1="680.20" y1="67.30" x2="677.20" y2="67.30" stroke="#222" stroke-width="0.75"/>
<text x="592.20" y="70.20" font-size="7.3" text-anchor="end" fill="#222" font-weight="normal" stroke="#222" stroke-width="0.1" >2L/5L</text>
<line x1="636.50" y1="85.40" x2="661.30" y2="85.40" stroke="#64288c" stroke-width="2.4"/>
<rect x="635.15" y="81.70" width="2.7" height="7.4" fill="#64288c"/>
<rect x="659.95" y="81.70" width="2.7" height="7.4" fill="#64288c"/>
<line x1="595.60" y1="85.40" x2="598.60" y2="85.40" stroke="#222" stroke-width="0.75"/>
<line x1="680.20" y1="85.40" x2="677.20" y2="85.40" stroke="#222" stroke-width="0.75"/>
<text x="592.20" y="88.30" font-size="7.3" text-anchor="end" fill="#222" font-weight="normal" stroke="#222" stroke-width="0.1" >2L/4L</text>
<line x1="640.40" y1="103.20" x2="669.40" y2="103.20" stroke="#1e288c" stroke-width="2.4"/>
<rect x="639.05" y="99.50" width="2.7" height="7.4" fill="#1e288c"/>
<rect x="668.05" y="99.50" width="2.7" height="7.4" fill="#1e288c"/>
<line x1="595.60" y1="103.20" x2="598.60" y2="103.20" stroke="#222" stroke-width="0.75"/>
<line x1="680.20" y1="103.20" x2="677.20" y2="103.20" stroke="#222" stroke-width="0.75"/>
<text x="592.20" y="106.10" font-size="7.3" text-anchor="end" fill="#222" font-weight="normal" stroke="#222" stroke-width="0.1" >2L/3L</text>
<line x1="595.60" y1="121.60" x2="595.60" y2="118.60" stroke="#222" stroke-width="0.75"/>
<line x1="595.60" y1="12.80" x2="595.60" y2="15.80" stroke="#222" stroke-width="0.75"/>
<text x="595.60" y="132.90" font-size="7.6" text-anchor="middle" fill="#222" font-weight="normal" stroke="#222" stroke-width="0.1" >1.2</text>
<line x1="637.90" y1="121.60" x2="637.90" y2="118.60" stroke="#222" stroke-width="0.75"/>
<line x1="637.90" y1="12.80" x2="637.90" y2="15.80" stroke="#222" stroke-width="0.75"/>
<text x="637.90" y="132.90" font-size="7.6" text-anchor="middle" fill="#222" font-weight="normal" stroke="#222" stroke-width="0.1" >1.4</text>
<line x1="680.20" y1="121.60" x2="680.20" y2="118.60" stroke="#222" stroke-width="0.75"/>
<line x1="680.20" y1="12.80" x2="680.20" y2="15.80" stroke="#222" stroke-width="0.75"/>
<text x="680.20" y="132.90" font-size="7.6" text-anchor="middle" fill="#222" font-weight="normal" stroke="#222" stroke-width="0.1" >1.6</text>
<text x="638.00" y="143.60" font-size="8.2" text-anchor="middle" fill="#222" font-weight="normal" stroke="#222" stroke-width="0.1" >Energy (eV)</text>
<text x="567.10" y="67.50" font-size="8.05" text-anchor="middle" fill="#222" font-weight="normal" stroke="#222" stroke-width="0.1" dominant-baseline="central" transform="rotate(-90 567.1 67.5)">Combination</text>
<clipPath id="fc"><rect x="594.6" y="167.3" width="88.19999999999993" height="111.89999999999998"/></clipPath>
<g clip-path="url(#fc)">
<circle cx="624.8" cy="235.5" r="1.3" fill="#4a5aae" fill-opacity="0.85"/>
<circle cx="601.7" cy="204.8" r="1.3" fill="#4a5aae" fill-opacity="0.85"/>
<circle cx="644.3" cy="249.2" r="1.3" fill="#4a5aae" fill-opacity="0.85"/>
<circle cx="641.7" cy="249.4" r="1.3" fill="#4a5aae" fill-opacity="0.85"/>
<circle cx="598.4" cy="192.5" r="1.3" fill="#4a5aae" fill-opacity="0.85"/>
<circle cx="603.3" cy="206.6" r="1.3" fill="#4a5aae" fill-opacity="0.85"/>
<circle cx="634.1" cy="241.8" r="1.3" fill="#4a5aae" fill-opacity="0.85"/>
<circle cx="615.5" cy="221.3" r="1.3" fill="#4a5aae" fill-opacity="0.85"/>
<circle cx="652.7" cy="266.7" r="1.3" fill="#4a5aae" fill-opacity="0.85"/>
<circle cx="631.5" cy="236.2" r="1.3" fill="#4a5aae" fill-opacity="0.85"/>
<circle cx="621.6" cy="231.1" r="1.3" fill="#4a5aae" fill-opacity="0.85"/>
<circle cx="608.3" cy="215.4" r="1.3" fill="#4a5aae" fill-opacity="0.85"/>
<circle cx="611.6" cy="214.5" r="1.3" fill="#4a5aae" fill-opacity="0.85"/>
<circle cx="629.3" cy="233.0" r="1.3" fill="#4a5aae" fill-opacity="0.85"/>
<circle cx="645.4" cy="253.5" r="1.3" fill="#4a5aae" fill-opacity="0.85"/>
<circle cx="613.9" cy="221.3" r="1.3" fill="#4a5aae" fill-opacity="0.85"/>
<circle cx="657.6" cy="257.1" r="1.3" fill="#4a5aae" fill-opacity="0.85"/>
<circle cx="648.9" cy="257.3" r="1.3" fill="#4a5aae" fill-opacity="0.85"/>
<circle cx="636.7" cy="240.3" r="1.3" fill="#4a5aae" fill-opacity="0.85"/>
<circle cx="659.3" cy="276.6" r="1.3" fill="#4a5aae" fill-opacity="0.85"/>
<circle cx="617.5" cy="221.1" r="1.3" fill="#4a5aae" fill-opacity="0.85"/>
<circle cx="675.5" cy="277.0" r="1.3" fill="#4a5aae" fill-opacity="0.85"/>
<circle cx="662.1" cy="261.9" r="1.3" fill="#4a5aae" fill-opacity="0.85"/>
<circle cx="605.9" cy="216.4" r="1.3" fill="#4a5aae" fill-opacity="0.85"/>
<circle cx="633.5" cy="240.2" r="1.3" fill="#4a5aae" fill-opacity="0.85"/>
<circle cx="640.0" cy="243.1" r="1.3" fill="#4a5aae" fill-opacity="0.85"/>
<circle cx="598.6" cy="192.3" r="1.3" fill="#4a5aae" fill-opacity="0.85"/>
<circle cx="647.7" cy="244.6" r="1.3" fill="#4a5aae" fill-opacity="0.85"/>
<circle cx="675.5" cy="276.6" r="1.3" fill="#4a5aae" fill-opacity="0.85"/>
<circle cx="649.7" cy="264.7" r="1.3" fill="#4a5aae" fill-opacity="0.85"/>
<circle cx="648.4" cy="242.8" r="1.3" fill="#4a5aae" fill-opacity="0.85"/>
<circle cx="638.6" cy="243.9" r="1.3" fill="#4a5aae" fill-opacity="0.85"/>
<circle cx="659.5" cy="262.2" r="1.3" fill="#4a5aae" fill-opacity="0.85"/>
<circle cx="654.5" cy="272.8" r="1.3" fill="#4a5aae" fill-opacity="0.85"/>
<circle cx="621.2" cy="228.2" r="1.3" fill="#4a5aae" fill-opacity="0.85"/>
<circle cx="630.5" cy="236.8" r="1.3" fill="#4a5aae" fill-opacity="0.85"/>
<circle cx="637.5" cy="242.9" r="1.3" fill="#4a5aae" fill-opacity="0.85"/>
<circle cx="610.5" cy="217.2" r="1.3" fill="#4a5aae" fill-opacity="0.85"/>
<circle cx="665.7" cy="272.8" r="1.3" fill="#4a5aae" fill-opacity="0.85"/>
<circle cx="606.9" cy="211.9" r="1.3" fill="#4a5aae" fill-opacity="0.85"/>
<circle cx="602.4" cy="202.0" r="1.3" fill="#4a5aae" fill-opacity="0.85"/>
<circle cx="633.2" cy="236.8" r="1.3" fill="#4a5aae" fill-opacity="0.85"/>
<circle cx="628.0" cy="243.1" r="1.3" fill="#4a5aae" fill-opacity="0.85"/>
<circle cx="608.9" cy="210.3" r="1.3" fill="#4a5aae" fill-opacity="0.85"/>
<circle cx="611.2" cy="217.7" r="1.3" fill="#4a5aae" fill-opacity="0.85"/>
<circle cx="639.6" cy="249.8" r="1.3" fill="#4a5aae" fill-opacity="0.85"/>
<circle cx="649.2" cy="255.1" r="1.3" fill="#4a5aae" fill-opacity="0.85"/>
<circle cx="633.5" cy="240.5" r="1.3" fill="#4a5aae" fill-opacity="0.85"/>
<circle cx="629.0" cy="225.8" r="1.3" fill="#4a5aae" fill-opacity="0.85"/>
<circle cx="658.5" cy="256.3" r="1.3" fill="#4a5aae" fill-opacity="0.85"/>
<circle cx="642.4" cy="242.3" r="1.3" fill="#4a5aae" fill-opacity="0.85"/>
<circle cx="600.0" cy="196.5" r="1.3" fill="#4a5aae" fill-opacity="0.85"/>
<circle cx="668.4" cy="257.6" r="1.3" fill="#4a5aae" fill-opacity="0.85"/>
<circle cx="631.1" cy="236.1" r="1.3" fill="#4a5aae" fill-opacity="0.85"/>
<circle cx="653.4" cy="260.9" r="1.3" fill="#4a5aae" fill-opacity="0.85"/>
<circle cx="600.7" cy="201.8" r="1.3" fill="#4a5aae" fill-opacity="0.85"/>
<circle cx="609.9" cy="216.6" r="1.3" fill="#4a5aae" fill-opacity="0.85"/>
<circle cx="626.3" cy="233.5" r="1.3" fill="#4a5aae" fill-opacity="0.85"/>
<circle cx="608.9" cy="214.6" r="1.3" fill="#4a5aae" fill-opacity="0.85"/>
<circle cx="604.3" cy="207.9" r="1.3" fill="#4a5aae" fill-opacity="0.85"/>
<circle cx="651.5" cy="260.3" r="1.3" fill="#4a5aae" fill-opacity="0.85"/>
<circle cx="627.0" cy="236.6" r="1.3" fill="#4a5aae" fill-opacity="0.85"/>
<circle cx="628.5" cy="241.5" r="1.3" fill="#4a5aae" fill-opacity="0.85"/>
<circle cx="637.9" cy="242.0" r="1.3" fill="#4a5aae" fill-opacity="0.85"/>
<circle cx="604.4" cy="208.4" r="1.3" fill="#4a5aae" fill-opacity="0.85"/>
<circle cx="626.5" cy="232.9" r="1.3" fill="#4a5aae" fill-opacity="0.85"/>
<circle cx="609.9" cy="220.7" r="1.3" fill="#4a5aae" fill-opacity="0.85"/>
<circle cx="597.1" cy="189.3" r="1.3" fill="#4a5aae" fill-opacity="0.85"/>
<circle cx="608.5" cy="213.1" r="1.3" fill="#4a5aae" fill-opacity="0.85"/>
<circle cx="645.0" cy="258.4" r="1.3" fill="#4a5aae" fill-opacity="0.85"/>
<circle cx="674.4" cy="278.4" r="1.3" fill="#4a5aae" fill-opacity="0.85"/>
<circle cx="628.7" cy="232.4" r="1.3" fill="#4a5aae" fill-opacity="0.85"/>
<circle cx="610.4" cy="216.9" r="1.3" fill="#4a5aae" fill-opacity="0.85"/>
<circle cx="666.7" cy="262.2" r="1.3" fill="#4a5aae" fill-opacity="0.85"/>
<circle cx="625.3" cy="233.8" r="1.3" fill="#4a5aae" fill-opacity="0.85"/>
<circle cx="663.1" cy="254.7" r="1.3" fill="#4a5aae" fill-opacity="0.85"/>
<circle cx="615.9" cy="220.1" r="1.3" fill="#4a5aae" fill-opacity="0.85"/>
<circle cx="597.7" cy="189.7" r="1.3" fill="#4a5aae" fill-opacity="0.85"/>
<circle cx="597.6" cy="189.3" r="1.3" fill="#4a5aae" fill-opacity="0.85"/>
<circle cx="658.7" cy="269.2" r="1.3" fill="#4a5aae" fill-opacity="0.85"/>
<circle cx="683.0" cy="269.0" r="1.3" fill="#4a5aae" fill-opacity="0.85"/>
<circle cx="615.9" cy="224.8" r="1.3" fill="#4a5aae" fill-opacity="0.85"/>
<circle cx="613.1" cy="221.0" r="1.3" fill="#4a5aae" fill-opacity="0.85"/>
<circle cx="672.3" cy="266.0" r="1.3" fill="#4a5aae" fill-opacity="0.85"/>
<circle cx="668.6" cy="275.7" r="1.3" fill="#4a5aae" fill-opacity="0.85"/>
<circle cx="602.8" cy="202.9" r="1.3" fill="#4a5aae" fill-opacity="0.85"/>
<circle cx="667.0" cy="257.4" r="1.3" fill="#4a5aae" fill-opacity="0.85"/>
<circle cx="664.0" cy="264.2" r="1.3" fill="#4a5aae" fill-opacity="0.85"/>
<circle cx="667.6" cy="273.7" r="1.3" fill="#4a5aae" fill-opacity="0.85"/>
<circle cx="625.6" cy="236.2" r="1.3" fill="#4a5aae" fill-opacity="0.85"/>
<circle cx="631.4" cy="226.3" r="1.3" fill="#4a5aae" fill-opacity="0.85"/>
<circle cx="631.9" cy="245.7" r="1.3" fill="#4a5aae" fill-opacity="0.85"/>
<circle cx="610.6" cy="215.3" r="1.3" fill="#4a5aae" fill-opacity="0.85"/>
<circle cx="606.7" cy="214.5" r="1.3" fill="#4a5aae" fill-opacity="0.85"/>
<circle cx="608.4" cy="217.2" r="1.3" fill="#4a5aae" fill-opacity="0.85"/>
<circle cx="655.5" cy="243.6" r="1.3" fill="#4a5aae" fill-opacity="0.85"/>
<circle cx="627.2" cy="232.1" r="1.3" fill="#4a5aae" fill-opacity="0.85"/>
<circle cx="596.3" cy="183.9" r="1.3" fill="#4a5aae" fill-opacity="0.85"/>
<circle cx="680.9" cy="278.7" r="1.3" fill="#4a5aae" fill-opacity="0.85"/>
<circle cx="634.9" cy="247.9" r="1.3" fill="#4a5aae" fill-opacity="0.85"/>
<circle cx="614.4" cy="217.4" r="1.3" fill="#4a5aae" fill-opacity="0.85"/>
<circle cx="618.2" cy="224.8" r="1.3" fill="#4a5aae" fill-opacity="0.85"/>
<circle cx="649.0" cy="259.4" r="1.3" fill="#4a5aae" fill-opacity="0.85"/>
<circle cx="618.9" cy="224.5" r="1.3" fill="#4a5aae" fill-opacity="0.85"/>
<circle cx="627.5" cy="229.1" r="1.3" fill="#4a5aae" fill-opacity="0.85"/>
<circle cx="633.7" cy="245.3" r="1.3" fill="#4a5aae" fill-opacity="0.85"/>
<circle cx="643.9" cy="246.7" r="1.3" fill="#4a5aae" fill-opacity="0.85"/>
<circle cx="643.2" cy="255.6" r="1.3" fill="#4a5aae" fill-opacity="0.85"/>
<circle cx="611.8" cy="218.6" r="1.3" fill="#4a5aae" fill-opacity="0.85"/>
<circle cx="595.4" cy="179.0" r="1.3" fill="#4a5aae" fill-opacity="0.85"/>
<circle cx="638.6" cy="241.7" r="1.3" fill="#4a5aae" fill-opacity="0.85"/>
<circle cx="661.7" cy="260.2" r="1.3" fill="#4a5aae" fill-opacity="0.85"/>
<circle cx="642.7" cy="247.2" r="1.3" fill="#4a5aae" fill-opacity="0.85"/>
<circle cx="646.1" cy="252.9" r="1.3" fill="#4a5aae" fill-opacity="0.85"/>
<circle cx="646.5" cy="249.9" r="1.3" fill="#4a5aae" fill-opacity="0.85"/>
<circle cx="617.9" cy="224.2" r="1.3" fill="#4a5aae" fill-opacity="0.85"/>
<circle cx="641.7" cy="257.5" r="1.3" fill="#4a5aae" fill-opacity="0.85"/>
<circle cx="646.7" cy="253.7" r="1.3" fill="#4a5aae" fill-opacity="0.85"/>
<circle cx="635.8" cy="231.0" r="1.3" fill="#4a5aae" fill-opacity="0.85"/>
<circle cx="651.4" cy="249.3" r="1.3" fill="#4a5aae" fill-opacity="0.85"/>
<circle cx="658.7" cy="263.4" r="1.3" fill="#4a5aae" fill-opacity="0.85"/>
<circle cx="636.6" cy="237.3" r="1.3" fill="#4a5aae" fill-opacity="0.85"/>
<circle cx="659.3" cy="276.7" r="1.3" fill="#4a5aae" fill-opacity="0.85"/>
<circle cx="618.9" cy="220.4" r="1.3" fill="#4a5aae" fill-opacity="0.85"/>
<circle cx="646.5" cy="263.6" r="1.3" fill="#4a5aae" fill-opacity="0.85"/>
<circle cx="607.6" cy="211.3" r="1.3" fill="#4a5aae" fill-opacity="0.85"/>
<circle cx="606.2" cy="210.0" r="1.3" fill="#4a5aae" fill-opacity="0.85"/>
<circle cx="617.1" cy="224.8" r="1.3" fill="#4a5aae" fill-opacity="0.85"/>
<circle cx="601.7" cy="201.3" r="1.3" fill="#4a5aae" fill-opacity="0.85"/>
<circle cx="677.5" cy="270.3" r="1.3" fill="#4a5aae" fill-opacity="0.85"/>
<circle cx="609.2" cy="214.2" r="1.3" fill="#4a5aae" fill-opacity="0.85"/>
<circle cx="608.2" cy="210.1" r="1.3" fill="#4a5aae" fill-opacity="0.85"/>
<circle cx="631.6" cy="224.2" r="1.3" fill="#4a5aae" fill-opacity="0.85"/>
<circle cx="671.6" cy="279.5" r="1.3" fill="#4a5aae" fill-opacity="0.85"/>
<circle cx="609.9" cy="212.9" r="1.3" fill="#4a5aae" fill-opacity="0.85"/>
<circle cx="626.2" cy="235.4" r="1.3" fill="#4a5aae" fill-opacity="0.85"/>
<circle cx="613.0" cy="217.8" r="1.3" fill="#4a5aae" fill-opacity="0.85"/>
<circle cx="596.8" cy="188.4" r="1.3" fill="#4a5aae" fill-opacity="0.85"/>
<circle cx="646.0" cy="251.1" r="1.3" fill="#4a5aae" fill-opacity="0.85"/>
<circle cx="625.5" cy="233.0" r="1.3" fill="#4a5aae" fill-opacity="0.85"/>
<circle cx="652.4" cy="255.7" r="1.3" fill="#4a5aae" fill-opacity="0.85"/>
<circle cx="667.5" cy="276.7" r="1.3" fill="#4a5aae" fill-opacity="0.85"/>
<circle cx="619.4" cy="226.4" r="1.3" fill="#4a5aae" fill-opacity="0.85"/>
<circle cx="598.6" cy="193.9" r="1.3" fill="#4a5aae" fill-opacity="0.85"/>
<circle cx="606.9" cy="210.0" r="1.3" fill="#4a5aae" fill-opacity="0.85"/>
<circle cx="633.8" cy="248.1" r="1.3" fill="#4a5aae" fill-opacity="0.85"/>
<circle cx="618.8" cy="222.7" r="1.3" fill="#4a5aae" fill-opacity="0.85"/>
<circle cx="608.7" cy="217.2" r="1.3" fill="#4a5aae" fill-opacity="0.85"/>
<circle cx="659.4" cy="259.7" r="1.3" fill="#4a5aae" fill-opacity="0.85"/>
<circle cx="603.2" cy="208.9" r="1.3" fill="#4a5aae" fill-opacity="0.85"/>
<circle cx="634.1" cy="243.3" r="1.3" fill="#4a5aae" fill-opacity="0.85"/>
<circle cx="601.7" cy="205.1" r="1.3" fill="#4a5aae" fill-opacity="0.85"/>
<circle cx="668.7" cy="269.9" r="1.3" fill="#4a5aae" fill-opacity="0.85"/>
<circle cx="602.7" cy="205.4" r="1.3" fill="#4a5aae" fill-opacity="0.85"/>
<circle cx="674.4" cy="278.1" r="1.3" fill="#4a5aae" fill-opacity="0.85"/>
<circle cx="636.7" cy="239.7" r="1.3" fill="#4a5aae" fill-opacity="0.85"/>
<circle cx="619.6" cy="229.9" r="1.3" fill="#4a5aae" fill-opacity="0.85"/>
<circle cx="616.9" cy="227.1" r="1.3" fill="#4a5aae" fill-opacity="0.85"/>
<circle cx="605.1" cy="209.6" r="1.3" fill="#4a5aae" fill-opacity="0.85"/>
<circle cx="613.6" cy="221.2" r="1.3" fill="#4a5aae" fill-opacity="0.85"/>
<circle cx="623.7" cy="228.8" r="1.3" fill="#4a5aae" fill-opacity="0.85"/>
<circle cx="621.7" cy="235.0" r="1.3" fill="#4a5aae" fill-opacity="0.85"/>
<circle cx="641.0" cy="249.5" r="1.3" fill="#4a5aae" fill-opacity="0.85"/>
<circle cx="596.7" cy="187.0" r="1.3" fill="#4a5aae" fill-opacity="0.85"/>
<circle cx="618.0" cy="230.8" r="1.3" fill="#4a5aae" fill-opacity="0.85"/>
<circle cx="645.7" cy="252.8" r="1.3" fill="#4a5aae" fill-opacity="0.85"/>
<circle cx="612.4" cy="212.4" r="1.3" fill="#4a5aae" fill-opacity="0.85"/>
<circle cx="604.8" cy="209.6" r="1.3" fill="#4a5aae" fill-opacity="0.85"/>
<circle cx="670.3" cy="267.2" r="1.3" fill="#4a5aae" fill-opacity="0.85"/>
<circle cx="631.2" cy="230.8" r="1.3" fill="#4a5aae" fill-opacity="0.85"/>
<circle cx="626.5" cy="236.9" r="1.3" fill="#4a5aae" fill-opacity="0.85"/>
<circle cx="653.5" cy="249.9" r="1.3" fill="#4a5aae" fill-opacity="0.85"/>
<circle cx="632.2" cy="238.0" r="1.3" fill="#4a5aae" fill-opacity="0.85"/>
<circle cx="606.9" cy="212.5" r="1.3" fill="#4a5aae" fill-opacity="0.85"/>
<circle cx="601.5" cy="202.3" r="1.3" fill="#4a5aae" fill-opacity="0.85"/>
<circle cx="610.0" cy="214.0" r="1.3" fill="#4a5aae" fill-opacity="0.85"/>
<circle cx="602.8" cy="207.2" r="1.3" fill="#4a5aae" fill-opacity="0.85"/>
<circle cx="656.7" cy="249.9" r="1.3" fill="#4a5aae" fill-opacity="0.85"/>
<circle cx="620.9" cy="228.4" r="1.3" fill="#4a5aae" fill-opacity="0.85"/>
<circle cx="637.3" cy="248.0" r="1.3" fill="#4a5aae" fill-opacity="0.85"/>
<circle cx="609.5" cy="213.4" r="1.3" fill="#4a5aae" fill-opacity="0.85"/>
<circle cx="623.5" cy="218.0" r="1.3" fill="#8c5ab0" fill-opacity="0.85"/>
<circle cx="630.1" cy="224.4" r="1.3" fill="#8c5ab0" fill-opacity="0.85"/>
<circle cx="638.7" cy="228.4" r="1.3" fill="#8c5ab0" fill-opacity="0.85"/>
<circle cx="641.4" cy="234.2" r="1.3" fill="#8c5ab0" fill-opacity="0.85"/>
<circle cx="595.5" cy="176.1" r="1.3" fill="#8c5ab0" fill-opacity="0.85"/>
<circle cx="631.8" cy="227.8" r="1.3" fill="#8c5ab0" fill-opacity="0.85"/>
<circle cx="598.8" cy="186.9" r="1.3" fill="#8c5ab0" fill-opacity="0.85"/>
<circle cx="616.4" cy="211.0" r="1.3" fill="#8c5ab0" fill-opacity="0.85"/>
<circle cx="648.9" cy="229.2" r="1.3" fill="#8c5ab0" fill-opacity="0.85"/>
<circle cx="655.5" cy="241.7" r="1.3" fill="#8c5ab0" fill-opacity="0.85"/>
<circle cx="660.9" cy="252.6" r="1.3" fill="#8c5ab0" fill-opacity="0.85"/>
<circle cx="625.0" cy="216.8" r="1.3" fill="#8c5ab0" fill-opacity="0.85"/>
<circle cx="685.6" cy="271.3" r="1.3" fill="#8c5ab0" fill-opacity="0.85"/>
<circle cx="654.2" cy="251.9" r="1.3" fill="#8c5ab0" fill-opacity="0.85"/>
<circle cx="599.0" cy="187.8" r="1.3" fill="#8c5ab0" fill-opacity="0.85"/>
<circle cx="652.7" cy="230.0" r="1.3" fill="#8c5ab0" fill-opacity="0.85"/>
<circle cx="662.5" cy="249.9" r="1.3" fill="#8c5ab0" fill-opacity="0.85"/>
<circle cx="643.2" cy="232.6" r="1.3" fill="#8c5ab0" fill-opacity="0.85"/>
<circle cx="641.4" cy="239.4" r="1.3" fill="#8c5ab0" fill-opacity="0.85"/>
<circle cx="671.0" cy="240.6" r="1.3" fill="#8c5ab0" fill-opacity="0.85"/>
<circle cx="648.7" cy="247.0" r="1.3" fill="#8c5ab0" fill-opacity="0.85"/>
<circle cx="658.8" cy="239.1" r="1.3" fill="#8c5ab0" fill-opacity="0.85"/>
<circle cx="616.2" cy="212.0" r="1.3" fill="#8c5ab0" fill-opacity="0.85"/>
<circle cx="628.2" cy="222.9" r="1.3" fill="#8c5ab0" fill-opacity="0.85"/>
<circle cx="604.7" cy="196.9" r="1.3" fill="#8c5ab0" fill-opacity="0.85"/>
<circle cx="652.8" cy="234.8" r="1.3" fill="#8c5ab0" fill-opacity="0.85"/>
<circle cx="652.6" cy="238.8" r="1.3" fill="#8c5ab0" fill-opacity="0.85"/>
<circle cx="595.3" cy="174.4" r="1.3" fill="#8c5ab0" fill-opacity="0.85"/>
<circle cx="668.4" cy="252.0" r="1.3" fill="#8c5ab0" fill-opacity="0.85"/>
<circle cx="644.2" cy="229.3" r="1.3" fill="#8c5ab0" fill-opacity="0.85"/>
<circle cx="655.7" cy="254.4" r="1.3" fill="#8c5ab0" fill-opacity="0.85"/>
<circle cx="618.2" cy="214.7" r="1.3" fill="#8c5ab0" fill-opacity="0.85"/>
<circle cx="601.8" cy="191.0" r="1.3" fill="#8c5ab0" fill-opacity="0.85"/>
<circle cx="613.9" cy="212.3" r="1.3" fill="#8c5ab0" fill-opacity="0.85"/>
<circle cx="663.1" cy="257.5" r="1.3" fill="#8c5ab0" fill-opacity="0.85"/>
<circle cx="630.2" cy="223.6" r="1.3" fill="#8c5ab0" fill-opacity="0.85"/>
<circle cx="639.1" cy="228.6" r="1.3" fill="#8c5ab0" fill-opacity="0.85"/>
<circle cx="651.8" cy="231.2" r="1.3" fill="#8c5ab0" fill-opacity="0.85"/>
<circle cx="654.1" cy="246.4" r="1.3" fill="#8c5ab0" fill-opacity="0.85"/>
<circle cx="618.4" cy="213.6" r="1.3" fill="#8c5ab0" fill-opacity="0.85"/>
<circle cx="663.4" cy="245.5" r="1.3" fill="#8c5ab0" fill-opacity="0.85"/>
<circle cx="596.1" cy="180.3" r="1.3" fill="#8c5ab0" fill-opacity="0.85"/>
<circle cx="600.6" cy="189.0" r="1.3" fill="#8c5ab0" fill-opacity="0.85"/>
<circle cx="658.7" cy="256.6" r="1.3" fill="#8c5ab0" fill-opacity="0.85"/>
<circle cx="657.2" cy="242.7" r="1.3" fill="#8c5ab0" fill-opacity="0.85"/>
<circle cx="637.7" cy="237.3" r="1.3" fill="#8c5ab0" fill-opacity="0.85"/>
<circle cx="637.9" cy="239.5" r="1.3" fill="#8c5ab0" fill-opacity="0.85"/>
<circle cx="613.3" cy="211.1" r="1.3" fill="#8c5ab0" fill-opacity="0.85"/>
<circle cx="685.0" cy="263.3" r="1.3" fill="#8c5ab0" fill-opacity="0.85"/>
<circle cx="637.2" cy="230.3" r="1.3" fill="#8c5ab0" fill-opacity="0.85"/>
<circle cx="670.4" cy="262.3" r="1.3" fill="#8c5ab0" fill-opacity="0.85"/>
<circle cx="619.7" cy="213.4" r="1.3" fill="#8c5ab0" fill-opacity="0.85"/>
<circle cx="614.3" cy="210.0" r="1.3" fill="#8c5ab0" fill-opacity="0.85"/>
<circle cx="648.5" cy="237.9" r="1.3" fill="#8c5ab0" fill-opacity="0.85"/>
<circle cx="608.0" cy="194.1" r="1.3" fill="#8c5ab0" fill-opacity="0.85"/>
<circle cx="607.2" cy="198.1" r="1.3" fill="#8c5ab0" fill-opacity="0.85"/>
<circle cx="670.5" cy="235.9" r="1.3" fill="#8c5ab0" fill-opacity="0.85"/>
<circle cx="659.7" cy="245.7" r="1.3" fill="#8c5ab0" fill-opacity="0.85"/>
<circle cx="616.3" cy="213.4" r="1.3" fill="#8c5ab0" fill-opacity="0.85"/>
<circle cx="597.3" cy="181.3" r="1.3" fill="#8c5ab0" fill-opacity="0.85"/>
<circle cx="595.3" cy="174.4" r="1.3" fill="#8c5ab0" fill-opacity="0.85"/>
<circle cx="622.8" cy="217.7" r="1.3" fill="#8c5ab0" fill-opacity="0.85"/>
<circle cx="607.9" cy="198.8" r="1.3" fill="#8c5ab0" fill-opacity="0.85"/>
<circle cx="672.3" cy="260.6" r="1.3" fill="#8c5ab0" fill-opacity="0.85"/>
<circle cx="595.2" cy="175.1" r="1.3" fill="#8c5ab0" fill-opacity="0.85"/>
<circle cx="606.0" cy="193.1" r="1.3" fill="#8c5ab0" fill-opacity="0.85"/>
<circle cx="680.2" cy="254.4" r="1.3" fill="#8c5ab0" fill-opacity="0.85"/>
<circle cx="621.7" cy="208.4" r="1.3" fill="#8c5ab0" fill-opacity="0.85"/>
<circle cx="629.2" cy="210.7" r="1.3" fill="#8c5ab0" fill-opacity="0.85"/>
<circle cx="649.2" cy="254.3" r="1.3" fill="#8c5ab0" fill-opacity="0.85"/>
<circle cx="628.2" cy="219.4" r="1.3" fill="#8c5ab0" fill-opacity="0.85"/>
<circle cx="599.4" cy="187.5" r="1.3" fill="#8c5ab0" fill-opacity="0.85"/>
<circle cx="604.4" cy="196.0" r="1.3" fill="#8c5ab0" fill-opacity="0.85"/>
<circle cx="681.1" cy="252.8" r="1.3" fill="#8c5ab0" fill-opacity="0.85"/>
<circle cx="617.9" cy="211.8" r="1.3" fill="#8c5ab0" fill-opacity="0.85"/>
<circle cx="612.5" cy="209.2" r="1.3" fill="#8c5ab0" fill-opacity="0.85"/>
<circle cx="629.3" cy="232.5" r="1.3" fill="#8c5ab0" fill-opacity="0.85"/>
<circle cx="669.7" cy="248.2" r="1.3" fill="#8c5ab0" fill-opacity="0.85"/>
<circle cx="653.0" cy="256.0" r="1.3" fill="#8c5ab0" fill-opacity="0.85"/>
<circle cx="645.5" cy="229.8" r="1.3" fill="#8c5ab0" fill-opacity="0.85"/>
<circle cx="661.2" cy="259.1" r="1.3" fill="#8c5ab0" fill-opacity="0.85"/>
<circle cx="636.5" cy="232.6" r="1.3" fill="#8c5ab0" fill-opacity="0.85"/>
<circle cx="664.2" cy="245.5" r="1.3" fill="#8c5ab0" fill-opacity="0.85"/>
<circle cx="599.5" cy="186.0" r="1.3" fill="#8c5ab0" fill-opacity="0.85"/>
<circle cx="680.3" cy="266.3" r="1.3" fill="#8c5ab0" fill-opacity="0.85"/>
<circle cx="626.6" cy="224.5" r="1.3" fill="#8c5ab0" fill-opacity="0.85"/>
<circle cx="622.4" cy="216.3" r="1.3" fill="#8c5ab0" fill-opacity="0.85"/>
<circle cx="618.9" cy="203.8" r="1.3" fill="#8c5ab0" fill-opacity="0.85"/>
<circle cx="655.4" cy="241.0" r="1.3" fill="#8c5ab0" fill-opacity="0.85"/>
<circle cx="631.3" cy="231.0" r="1.3" fill="#8c5ab0" fill-opacity="0.85"/>
<circle cx="610.4" cy="204.1" r="1.3" fill="#8c5ab0" fill-opacity="0.85"/>
<circle cx="678.3" cy="263.2" r="1.3" fill="#8c5ab0" fill-opacity="0.85"/>
<circle cx="640.7" cy="236.0" r="1.3" fill="#8c5ab0" fill-opacity="0.85"/>
<circle cx="636.4" cy="232.1" r="1.3" fill="#8c5ab0" fill-opacity="0.85"/>
<circle cx="603.3" cy="194.6" r="1.3" fill="#8c5ab0" fill-opacity="0.85"/>
<circle cx="626.5" cy="223.5" r="1.3" fill="#8c5ab0" fill-opacity="0.85"/>
<circle cx="618.8" cy="214.5" r="1.3" fill="#8c5ab0" fill-opacity="0.85"/>
<circle cx="647.4" cy="246.3" r="1.3" fill="#8c5ab0" fill-opacity="0.85"/>
<circle cx="633.0" cy="221.7" r="1.3" fill="#8c5ab0" fill-opacity="0.85"/>
<circle cx="633.1" cy="222.3" r="1.3" fill="#8c5ab0" fill-opacity="0.85"/>
<circle cx="626.1" cy="220.0" r="1.3" fill="#8c5ab0" fill-opacity="0.85"/>
<circle cx="600.7" cy="188.7" r="1.3" fill="#8c5ab0" fill-opacity="0.85"/>
<circle cx="606.6" cy="204.1" r="1.3" fill="#8c5ab0" fill-opacity="0.85"/>
<circle cx="641.3" cy="226.5" r="1.3" fill="#8c5ab0" fill-opacity="0.85"/>
<circle cx="614.9" cy="204.3" r="1.3" fill="#8c5ab0" fill-opacity="0.85"/>
<circle cx="619.9" cy="214.4" r="1.3" fill="#8c5ab0" fill-opacity="0.85"/>
<circle cx="636.0" cy="234.8" r="1.3" fill="#8c5ab0" fill-opacity="0.85"/>
<circle cx="682.8" cy="271.7" r="1.3" fill="#8c5ab0" fill-opacity="0.85"/>
<circle cx="597.0" cy="179.4" r="1.3" fill="#8c5ab0" fill-opacity="0.85"/>
<circle cx="598.0" cy="183.0" r="1.3" fill="#8c5ab0" fill-opacity="0.85"/>
<circle cx="638.5" cy="220.9" r="1.3" fill="#8c5ab0" fill-opacity="0.85"/>
<circle cx="649.0" cy="246.0" r="1.3" fill="#8c5ab0" fill-opacity="0.85"/>
<circle cx="680.3" cy="259.0" r="1.3" fill="#8c5ab0" fill-opacity="0.85"/>
<circle cx="671.0" cy="267.5" r="1.3" fill="#8c5ab0" fill-opacity="0.85"/>
<circle cx="617.9" cy="205.0" r="1.3" fill="#8c5ab0" fill-opacity="0.85"/>
<circle cx="605.0" cy="197.5" r="1.3" fill="#8c5ab0" fill-opacity="0.85"/>
<circle cx="657.8" cy="252.5" r="1.3" fill="#8c5ab0" fill-opacity="0.85"/>
<circle cx="681.6" cy="257.4" r="1.3" fill="#8c5ab0" fill-opacity="0.85"/>
<circle cx="665.4" cy="239.0" r="1.3" fill="#8c5ab0" fill-opacity="0.85"/>
<circle cx="637.1" cy="229.2" r="1.3" fill="#8c5ab0" fill-opacity="0.85"/>
<circle cx="667.0" cy="250.5" r="1.3" fill="#8c5ab0" fill-opacity="0.85"/>
<circle cx="616.4" cy="214.6" r="1.3" fill="#8c5ab0" fill-opacity="0.85"/>
<circle cx="622.9" cy="215.0" r="1.3" fill="#8c5ab0" fill-opacity="0.85"/>
<circle cx="606.8" cy="198.3" r="1.3" fill="#8c5ab0" fill-opacity="0.85"/>
<circle cx="659.3" cy="256.6" r="1.3" fill="#8c5ab0" fill-opacity="0.85"/>
<circle cx="605.3" cy="198.8" r="1.3" fill="#8c5ab0" fill-opacity="0.85"/>
<circle cx="648.6" cy="242.7" r="1.3" fill="#8c5ab0" fill-opacity="0.85"/>
<circle cx="630.7" cy="225.9" r="1.3" fill="#8c5ab0" fill-opacity="0.85"/>
<circle cx="596.0" cy="179.7" r="1.3" fill="#8c5ab0" fill-opacity="0.85"/>
<circle cx="622.7" cy="208.0" r="1.3" fill="#8c5ab0" fill-opacity="0.85"/>
<circle cx="654.3" cy="247.3" r="1.3" fill="#8c5ab0" fill-opacity="0.85"/>
<circle cx="676.3" cy="250.3" r="1.3" fill="#8c5ab0" fill-opacity="0.85"/>
<circle cx="617.7" cy="212.4" r="1.3" fill="#8c5ab0" fill-opacity="0.85"/>
<circle cx="683.4" cy="258.4" r="1.3" fill="#8c5ab0" fill-opacity="0.85"/>
<circle cx="597.0" cy="180.6" r="1.3" fill="#8c5ab0" fill-opacity="0.85"/>
<circle cx="640.8" cy="231.2" r="1.3" fill="#8c5ab0" fill-opacity="0.85"/>
<circle cx="618.7" cy="209.8" r="1.3" fill="#8c5ab0" fill-opacity="0.85"/>
<circle cx="656.4" cy="248.9" r="1.3" fill="#8c5ab0" fill-opacity="0.85"/>
<circle cx="598.1" cy="183.6" r="1.3" fill="#8c5ab0" fill-opacity="0.85"/>
<circle cx="626.1" cy="215.0" r="1.3" fill="#8c5ab0" fill-opacity="0.85"/>
<circle cx="613.2" cy="208.8" r="1.3" fill="#8c5ab0" fill-opacity="0.85"/>
<circle cx="668.3" cy="251.4" r="1.3" fill="#8c5ab0" fill-opacity="0.85"/>
<circle cx="613.9" cy="204.0" r="1.3" fill="#8c5ab0" fill-opacity="0.85"/>
<circle cx="684.2" cy="254.4" r="1.3" fill="#8c5ab0" fill-opacity="0.85"/>
<circle cx="616.2" cy="215.9" r="1.3" fill="#8c5ab0" fill-opacity="0.85"/>
<circle cx="615.4" cy="209.5" r="1.3" fill="#8c5ab0" fill-opacity="0.85"/>
<circle cx="682.6" cy="252.4" r="1.3" fill="#8c5ab0" fill-opacity="0.85"/>
<circle cx="640.6" cy="235.1" r="1.3" fill="#8c5ab0" fill-opacity="0.85"/>
<circle cx="633.4" cy="230.4" r="1.3" fill="#8c5ab0" fill-opacity="0.85"/>
<circle cx="656.2" cy="248.1" r="1.3" fill="#8c5ab0" fill-opacity="0.85"/>
<circle cx="631.2" cy="224.5" r="1.3" fill="#8c5ab0" fill-opacity="0.85"/>
<circle cx="614.6" cy="210.1" r="1.3" fill="#8c5ab0" fill-opacity="0.85"/>
<circle cx="599.8" cy="187.5" r="1.3" fill="#8c5ab0" fill-opacity="0.85"/>
<circle cx="600.5" cy="186.4" r="1.3" fill="#8c5ab0" fill-opacity="0.85"/>
<circle cx="676.3" cy="268.6" r="1.3" fill="#8c5ab0" fill-opacity="0.85"/>
<circle cx="662.4" cy="265.9" r="1.3" fill="#8c5ab0" fill-opacity="0.85"/>
<circle cx="625.3" cy="219.7" r="1.3" fill="#8c5ab0" fill-opacity="0.85"/>
<circle cx="612.1" cy="209.6" r="1.3" fill="#8c5ab0" fill-opacity="0.85"/>
<circle cx="597.9" cy="182.7" r="1.3" fill="#8c5ab0" fill-opacity="0.85"/>
<circle cx="656.1" cy="239.4" r="1.3" fill="#8c5ab0" fill-opacity="0.85"/>
<circle cx="625.5" cy="222.8" r="1.3" fill="#8c5ab0" fill-opacity="0.85"/>
<circle cx="610.6" cy="205.6" r="1.3" fill="#8c5ab0" fill-opacity="0.85"/>
<circle cx="627.3" cy="221.8" r="1.3" fill="#8c5ab0" fill-opacity="0.85"/>
<circle cx="682.9" cy="278.1" r="1.3" fill="#8c5ab0" fill-opacity="0.85"/>
<circle cx="614.1" cy="213.2" r="1.3" fill="#8c5ab0" fill-opacity="0.85"/>
<circle cx="627.8" cy="225.6" r="1.3" fill="#8c5ab0" fill-opacity="0.85"/>
<circle cx="634.8" cy="220.2" r="1.3" fill="#8c5ab0" fill-opacity="0.85"/>
<circle cx="599.5" cy="185.6" r="1.3" fill="#8c5ab0" fill-opacity="0.85"/>
<circle cx="679.6" cy="260.1" r="1.3" fill="#8c5ab0" fill-opacity="0.85"/>
<circle cx="612.8" cy="202.1" r="1.3" fill="#8c5ab0" fill-opacity="0.85"/>
<circle cx="597.8" cy="185.7" r="1.3" fill="#8c5ab0" fill-opacity="0.85"/>
<circle cx="632.8" cy="229.8" r="1.3" fill="#8c5ab0" fill-opacity="0.85"/>
<circle cx="598.7" cy="183.0" r="1.3" fill="#8c5ab0" fill-opacity="0.85"/>
<circle cx="598.2" cy="187.4" r="1.3" fill="#8c5ab0" fill-opacity="0.85"/>
<circle cx="618.6" cy="216.0" r="1.3" fill="#8c5ab0" fill-opacity="0.85"/>
<circle cx="663.8" cy="254.8" r="1.3" fill="#8c5ab0" fill-opacity="0.85"/>
<circle cx="620.1" cy="212.6" r="1.3" fill="#8c5ab0" fill-opacity="0.85"/>
<circle cx="683.1" cy="255.1" r="1.3" fill="#8c5ab0" fill-opacity="0.85"/>
<circle cx="660.9" cy="243.4" r="1.3" fill="#8c5ab0" fill-opacity="0.85"/>
<circle cx="624.1" cy="218.7" r="1.3" fill="#8c5ab0" fill-opacity="0.85"/>
<circle cx="664.5" cy="250.3" r="1.3" fill="#8c5ab0" fill-opacity="0.85"/>
<circle cx="679.3" cy="243.8" r="1.3" fill="#8c5ab0" fill-opacity="0.85"/>
<circle cx="597.2" cy="179.7" r="1.3" fill="#8c5ab0" fill-opacity="0.85"/>
<circle cx="616.5" cy="202.6" r="1.3" fill="#8c5ab0" fill-opacity="0.85"/>
<circle cx="682.8" cy="264.1" r="1.3" fill="#8c5ab0" fill-opacity="0.85"/>
<circle cx="630.6" cy="224.7" r="1.3" fill="#8c5ab0" fill-opacity="0.85"/>
<circle cx="640.4" cy="239.3" r="1.3" fill="#8c5ab0" fill-opacity="0.85"/>
<circle cx="680.4" cy="265.9" r="1.3" fill="#8c5ab0" fill-opacity="0.85"/>
<circle cx="662.9" cy="261.2" r="1.3" fill="#8c5ab0" fill-opacity="0.85"/>
<circle cx="670.7" cy="255.1" r="1.3" fill="#8c5ab0" fill-opacity="0.85"/>
<circle cx="625.2" cy="214.2" r="1.3" fill="#8c5ab0" fill-opacity="0.85"/>
<circle cx="624.4" cy="214.5" r="1.3" fill="#8c5ab0" fill-opacity="0.85"/>
<circle cx="602.3" cy="194.4" r="1.3" fill="#8c5ab0" fill-opacity="0.85"/>
<circle cx="613.2" cy="206.7" r="1.3" fill="#8c5ab0" fill-opacity="0.85"/>
<circle cx="601.0" cy="188.6" r="1.3" fill="#8c5ab0" fill-opacity="0.85"/>
<circle cx="598.1" cy="182.8" r="1.3" fill="#8c5ab0" fill-opacity="0.85"/>
<circle cx="685.2" cy="258.9" r="1.3" fill="#8c5ab0" fill-opacity="0.85"/>
<circle cx="676.3" cy="263.8" r="1.3" fill="#8c5ab0" fill-opacity="0.85"/>
<circle cx="602.7" cy="192.5" r="1.3" fill="#8c5ab0" fill-opacity="0.85"/>
<circle cx="603.9" cy="191.2" r="1.3" fill="#8c5ab0" fill-opacity="0.85"/>
<circle cx="636.1" cy="229.8" r="1.3" fill="#8c5ab0" fill-opacity="0.85"/>
<circle cx="616.5" cy="206.8" r="1.3" fill="#8c5ab0" fill-opacity="0.85"/>
<circle cx="657.0" cy="249.7" r="1.3" fill="#8c5ab0" fill-opacity="0.85"/>
<circle cx="663.8" cy="255.7" r="1.3" fill="#8c5ab0" fill-opacity="0.85"/>
<circle cx="606.1" cy="194.8" r="1.3" fill="#8c5ab0" fill-opacity="0.85"/>
<circle cx="672.4" cy="251.5" r="1.3" fill="#8c5ab0" fill-opacity="0.85"/>
<circle cx="629.3" cy="229.1" r="1.3" fill="#8c5ab0" fill-opacity="0.85"/>
<circle cx="662.9" cy="250.4" r="1.3" fill="#8c5ab0" fill-opacity="0.85"/>
<circle cx="617.6" cy="214.2" r="1.3" fill="#8c5ab0" fill-opacity="0.85"/>
<circle cx="609.1" cy="201.0" r="1.3" fill="#c058ac" fill-opacity="0.85"/>
<circle cx="625.0" cy="211.1" r="1.3" fill="#c058ac" fill-opacity="0.85"/>
<circle cx="631.4" cy="225.3" r="1.3" fill="#c058ac" fill-opacity="0.85"/>
<circle cx="616.3" cy="206.6" r="1.3" fill="#c058ac" fill-opacity="0.85"/>
<circle cx="669.4" cy="229.9" r="1.3" fill="#c058ac" fill-opacity="0.85"/>
<circle cx="604.4" cy="186.0" r="1.3" fill="#c058ac" fill-opacity="0.85"/>
<circle cx="638.7" cy="229.5" r="1.3" fill="#c058ac" fill-opacity="0.85"/>
<circle cx="679.1" cy="233.8" r="1.3" fill="#c058ac" fill-opacity="0.85"/>
<circle cx="598.7" cy="179.6" r="1.3" fill="#c058ac" fill-opacity="0.85"/>
<circle cx="612.4" cy="204.1" r="1.3" fill="#c058ac" fill-opacity="0.85"/>
<circle cx="684.5" cy="233.1" r="1.3" fill="#c058ac" fill-opacity="0.85"/>
<circle cx="629.2" cy="212.9" r="1.3" fill="#c058ac" fill-opacity="0.85"/>
<circle cx="674.7" cy="240.9" r="1.3" fill="#c058ac" fill-opacity="0.85"/>
<circle cx="666.6" cy="244.7" r="1.3" fill="#c058ac" fill-opacity="0.85"/>
<circle cx="682.0" cy="261.2" r="1.3" fill="#c058ac" fill-opacity="0.85"/>
<circle cx="652.0" cy="239.4" r="1.3" fill="#c058ac" fill-opacity="0.85"/>
<circle cx="615.0" cy="204.3" r="1.3" fill="#c058ac" fill-opacity="0.85"/>
<circle cx="613.8" cy="205.4" r="1.3" fill="#c058ac" fill-opacity="0.85"/>
<circle cx="618.5" cy="205.0" r="1.3" fill="#c058ac" fill-opacity="0.85"/>
<circle cx="613.7" cy="201.6" r="1.3" fill="#c058ac" fill-opacity="0.85"/>
<circle cx="596.0" cy="172.2" r="1.3" fill="#c058ac" fill-opacity="0.85"/>
<circle cx="612.0" cy="206.1" r="1.3" fill="#c058ac" fill-opacity="0.85"/>
<circle cx="623.7" cy="215.7" r="1.3" fill="#c058ac" fill-opacity="0.85"/>
<circle cx="645.4" cy="239.9" r="1.3" fill="#c058ac" fill-opacity="0.85"/>
<circle cx="600.8" cy="186.0" r="1.3" fill="#c058ac" fill-opacity="0.85"/>
<circle cx="645.6" cy="233.4" r="1.3" fill="#c058ac" fill-opacity="0.85"/>
<circle cx="653.8" cy="238.4" r="1.3" fill="#c058ac" fill-opacity="0.85"/>
<circle cx="659.0" cy="240.4" r="1.3" fill="#c058ac" fill-opacity="0.85"/>
<circle cx="632.7" cy="219.8" r="1.3" fill="#c058ac" fill-opacity="0.85"/>
<circle cx="682.7" cy="259.5" r="1.3" fill="#c058ac" fill-opacity="0.85"/>
<circle cx="623.7" cy="210.3" r="1.3" fill="#c058ac" fill-opacity="0.85"/>
<circle cx="633.3" cy="219.3" r="1.3" fill="#c058ac" fill-opacity="0.85"/>
<circle cx="674.5" cy="255.6" r="1.3" fill="#c058ac" fill-opacity="0.85"/>
<circle cx="613.1" cy="203.4" r="1.3" fill="#c058ac" fill-opacity="0.85"/>
<circle cx="662.0" cy="240.1" r="1.3" fill="#c058ac" fill-opacity="0.85"/>
<circle cx="678.0" cy="250.1" r="1.3" fill="#c058ac" fill-opacity="0.85"/>
<circle cx="634.0" cy="223.8" r="1.3" fill="#c058ac" fill-opacity="0.85"/>
<circle cx="676.2" cy="240.0" r="1.3" fill="#c058ac" fill-opacity="0.85"/>
<circle cx="637.4" cy="224.7" r="1.3" fill="#c058ac" fill-opacity="0.85"/>
<circle cx="645.7" cy="230.8" r="1.3" fill="#c058ac" fill-opacity="0.85"/>
<circle cx="653.9" cy="237.5" r="1.3" fill="#c058ac" fill-opacity="0.85"/>
<circle cx="652.2" cy="232.5" r="1.3" fill="#c058ac" fill-opacity="0.85"/>
<circle cx="629.1" cy="215.4" r="1.3" fill="#c058ac" fill-opacity="0.85"/>
<circle cx="621.1" cy="211.5" r="1.3" fill="#c058ac" fill-opacity="0.85"/>
<circle cx="642.9" cy="230.6" r="1.3" fill="#c058ac" fill-opacity="0.85"/>
<circle cx="640.1" cy="225.1" r="1.3" fill="#c058ac" fill-opacity="0.85"/>
<circle cx="669.0" cy="249.6" r="1.3" fill="#c058ac" fill-opacity="0.85"/>
<circle cx="606.7" cy="194.8" r="1.3" fill="#c058ac" fill-opacity="0.85"/>
<circle cx="681.8" cy="261.8" r="1.3" fill="#c058ac" fill-opacity="0.85"/>
<circle cx="599.9" cy="182.2" r="1.3" fill="#c058ac" fill-opacity="0.85"/>
<circle cx="680.2" cy="235.0" r="1.3" fill="#c058ac" fill-opacity="0.85"/>
<circle cx="652.1" cy="243.2" r="1.3" fill="#c058ac" fill-opacity="0.85"/>
<circle cx="670.9" cy="253.1" r="1.3" fill="#c058ac" fill-opacity="0.85"/>
<circle cx="615.4" cy="210.6" r="1.3" fill="#c058ac" fill-opacity="0.85"/>
<circle cx="632.2" cy="225.4" r="1.3" fill="#c058ac" fill-opacity="0.85"/>
<circle cx="611.8" cy="197.8" r="1.3" fill="#c058ac" fill-opacity="0.85"/>
<circle cx="615.1" cy="202.5" r="1.3" fill="#c058ac" fill-opacity="0.85"/>
<circle cx="630.3" cy="222.1" r="1.3" fill="#c058ac" fill-opacity="0.85"/>
<circle cx="606.3" cy="194.6" r="1.3" fill="#c058ac" fill-opacity="0.85"/>
<circle cx="677.6" cy="263.5" r="1.3" fill="#c058ac" fill-opacity="0.85"/>
<circle cx="598.8" cy="177.5" r="1.3" fill="#c058ac" fill-opacity="0.85"/>
<circle cx="598.5" cy="178.4" r="1.3" fill="#c058ac" fill-opacity="0.85"/>
<circle cx="672.1" cy="254.5" r="1.3" fill="#c058ac" fill-opacity="0.85"/>
<circle cx="645.6" cy="235.3" r="1.3" fill="#c058ac" fill-opacity="0.85"/>
<circle cx="652.7" cy="231.9" r="1.3" fill="#c058ac" fill-opacity="0.85"/>
<circle cx="648.6" cy="238.0" r="1.3" fill="#c058ac" fill-opacity="0.85"/>
<circle cx="634.2" cy="218.9" r="1.3" fill="#c058ac" fill-opacity="0.85"/>
<circle cx="635.3" cy="218.1" r="1.3" fill="#c058ac" fill-opacity="0.85"/>
<circle cx="597.2" cy="174.8" r="1.3" fill="#c058ac" fill-opacity="0.85"/>
<circle cx="616.6" cy="204.6" r="1.3" fill="#c058ac" fill-opacity="0.85"/>
<circle cx="665.2" cy="243.5" r="1.3" fill="#c058ac" fill-opacity="0.85"/>
<circle cx="611.5" cy="198.7" r="1.3" fill="#c058ac" fill-opacity="0.85"/>
<circle cx="638.5" cy="227.3" r="1.3" fill="#c058ac" fill-opacity="0.85"/>
<circle cx="634.6" cy="223.8" r="1.3" fill="#c058ac" fill-opacity="0.85"/>
<circle cx="603.4" cy="187.4" r="1.3" fill="#c058ac" fill-opacity="0.85"/>
<circle cx="598.8" cy="180.6" r="1.3" fill="#c058ac" fill-opacity="0.85"/>
<circle cx="653.6" cy="244.4" r="1.3" fill="#c058ac" fill-opacity="0.85"/>
<circle cx="666.5" cy="249.1" r="1.3" fill="#c058ac" fill-opacity="0.85"/>
<circle cx="642.1" cy="233.9" r="1.3" fill="#c058ac" fill-opacity="0.85"/>
<circle cx="629.8" cy="220.2" r="1.3" fill="#c058ac" fill-opacity="0.85"/>
<circle cx="682.5" cy="263.7" r="1.3" fill="#c058ac" fill-opacity="0.85"/>
<circle cx="686.6" cy="268.3" r="1.3" fill="#c058ac" fill-opacity="0.85"/>
<circle cx="662.4" cy="242.1" r="1.3" fill="#c058ac" fill-opacity="0.85"/>
<circle cx="685.3" cy="247.0" r="1.3" fill="#c058ac" fill-opacity="0.85"/>
<circle cx="640.3" cy="238.2" r="1.3" fill="#c058ac" fill-opacity="0.85"/>
<circle cx="610.2" cy="198.3" r="1.3" fill="#c058ac" fill-opacity="0.85"/>
<circle cx="667.5" cy="246.0" r="1.3" fill="#c058ac" fill-opacity="0.85"/>
<circle cx="627.3" cy="215.8" r="1.3" fill="#c058ac" fill-opacity="0.85"/>
<circle cx="664.6" cy="250.5" r="1.3" fill="#c058ac" fill-opacity="0.85"/>
<circle cx="620.3" cy="217.4" r="1.3" fill="#c058ac" fill-opacity="0.85"/>
<circle cx="670.0" cy="250.9" r="1.3" fill="#c058ac" fill-opacity="0.85"/>
<circle cx="679.6" cy="258.6" r="1.3" fill="#c058ac" fill-opacity="0.85"/>
<circle cx="614.2" cy="204.3" r="1.3" fill="#c058ac" fill-opacity="0.85"/>
<circle cx="624.4" cy="218.9" r="1.3" fill="#c058ac" fill-opacity="0.85"/>
<circle cx="598.4" cy="179.4" r="1.3" fill="#c058ac" fill-opacity="0.85"/>
<circle cx="681.1" cy="255.8" r="1.3" fill="#c058ac" fill-opacity="0.85"/>
<circle cx="657.5" cy="240.7" r="1.3" fill="#c058ac" fill-opacity="0.85"/>
<circle cx="667.2" cy="240.1" r="1.3" fill="#c058ac" fill-opacity="0.85"/>
<circle cx="605.6" cy="190.2" r="1.3" fill="#c058ac" fill-opacity="0.85"/>
<circle cx="628.1" cy="215.9" r="1.3" fill="#c058ac" fill-opacity="0.85"/>
<circle cx="675.3" cy="236.8" r="1.3" fill="#c058ac" fill-opacity="0.85"/>
<circle cx="676.2" cy="244.3" r="1.3" fill="#c058ac" fill-opacity="0.85"/>
<circle cx="604.6" cy="194.6" r="1.3" fill="#c058ac" fill-opacity="0.85"/>
<circle cx="631.3" cy="219.3" r="1.3" fill="#c058ac" fill-opacity="0.85"/>
<circle cx="668.4" cy="241.5" r="1.3" fill="#c058ac" fill-opacity="0.85"/>
<circle cx="648.1" cy="250.5" r="1.3" fill="#c058ac" fill-opacity="0.85"/>
<circle cx="628.1" cy="217.6" r="1.3" fill="#c058ac" fill-opacity="0.85"/>
<circle cx="611.3" cy="198.4" r="1.3" fill="#c058ac" fill-opacity="0.85"/>
<circle cx="663.4" cy="254.4" r="1.3" fill="#c058ac" fill-opacity="0.85"/>
<circle cx="618.3" cy="210.8" r="1.3" fill="#c058ac" fill-opacity="0.85"/>
<circle cx="653.8" cy="244.0" r="1.3" fill="#c058ac" fill-opacity="0.85"/>
<circle cx="656.1" cy="235.4" r="1.3" fill="#c058ac" fill-opacity="0.85"/>
<circle cx="623.8" cy="214.7" r="1.3" fill="#c058ac" fill-opacity="0.85"/>
<circle cx="608.7" cy="198.0" r="1.3" fill="#c058ac" fill-opacity="0.85"/>
<circle cx="651.7" cy="226.5" r="1.3" fill="#c058ac" fill-opacity="0.85"/>
<circle cx="677.4" cy="253.4" r="1.3" fill="#c058ac" fill-opacity="0.85"/>
<circle cx="607.1" cy="196.4" r="1.3" fill="#c058ac" fill-opacity="0.85"/>
<circle cx="597.1" cy="177.8" r="1.3" fill="#c058ac" fill-opacity="0.85"/>
<circle cx="595.2" cy="170.7" r="1.3" fill="#c058ac" fill-opacity="0.85"/>
<circle cx="627.9" cy="218.5" r="1.3" fill="#c058ac" fill-opacity="0.85"/>
<circle cx="615.6" cy="202.5" r="1.3" fill="#c058ac" fill-opacity="0.85"/>
<circle cx="613.8" cy="202.2" r="1.3" fill="#c058ac" fill-opacity="0.85"/>
<circle cx="652.4" cy="230.6" r="1.3" fill="#c058ac" fill-opacity="0.85"/>
<circle cx="681.2" cy="251.6" r="1.3" fill="#c058ac" fill-opacity="0.85"/>
<circle cx="617.4" cy="208.9" r="1.3" fill="#c058ac" fill-opacity="0.85"/>
<circle cx="653.7" cy="237.4" r="1.3" fill="#c058ac" fill-opacity="0.85"/>
<circle cx="675.2" cy="249.5" r="1.3" fill="#c058ac" fill-opacity="0.85"/>
<circle cx="619.3" cy="206.5" r="1.3" fill="#c058ac" fill-opacity="0.85"/>
<circle cx="596.1" cy="172.2" r="1.3" fill="#c058ac" fill-opacity="0.85"/>
<circle cx="627.2" cy="212.1" r="1.3" fill="#c058ac" fill-opacity="0.85"/>
<circle cx="654.4" cy="220.2" r="1.3" fill="#c058ac" fill-opacity="0.85"/>
<circle cx="662.5" cy="246.4" r="1.3" fill="#c058ac" fill-opacity="0.85"/>
<circle cx="617.9" cy="209.3" r="1.3" fill="#c058ac" fill-opacity="0.85"/>
<circle cx="643.9" cy="227.7" r="1.3" fill="#c058ac" fill-opacity="0.85"/>
<circle cx="632.4" cy="220.5" r="1.3" fill="#c058ac" fill-opacity="0.85"/>
<circle cx="666.7" cy="245.5" r="1.3" fill="#c058ac" fill-opacity="0.85"/>
<circle cx="596.1" cy="170.4" r="1.3" fill="#c058ac" fill-opacity="0.85"/>
<circle cx="608.1" cy="195.3" r="1.3" fill="#c058ac" fill-opacity="0.85"/>
<circle cx="613.4" cy="201.0" r="1.3" fill="#c058ac" fill-opacity="0.85"/>
<circle cx="654.0" cy="230.0" r="1.3" fill="#c058ac" fill-opacity="0.85"/>
<circle cx="669.8" cy="247.9" r="1.3" fill="#c058ac" fill-opacity="0.85"/>
<circle cx="622.6" cy="215.7" r="1.3" fill="#c058ac" fill-opacity="0.85"/>
<circle cx="599.5" cy="183.7" r="1.3" fill="#c058ac" fill-opacity="0.85"/>
<circle cx="660.8" cy="230.9" r="1.3" fill="#c058ac" fill-opacity="0.85"/>
<circle cx="595.6" cy="173.1" r="1.3" fill="#c058ac" fill-opacity="0.85"/>
<circle cx="637.8" cy="217.3" r="1.3" fill="#c058ac" fill-opacity="0.85"/>
<circle cx="663.2" cy="235.4" r="1.3" fill="#c058ac" fill-opacity="0.85"/>
<circle cx="604.7" cy="192.2" r="1.3" fill="#c058ac" fill-opacity="0.85"/>
<circle cx="616.4" cy="209.7" r="1.3" fill="#c058ac" fill-opacity="0.85"/>
<circle cx="664.0" cy="242.8" r="1.3" fill="#c058ac" fill-opacity="0.85"/>
<circle cx="659.0" cy="244.5" r="1.3" fill="#c058ac" fill-opacity="0.85"/>
<circle cx="619.5" cy="205.6" r="1.3" fill="#c058ac" fill-opacity="0.85"/>
<circle cx="645.9" cy="220.3" r="1.3" fill="#c058ac" fill-opacity="0.85"/>
<circle cx="643.1" cy="232.2" r="1.3" fill="#c058ac" fill-opacity="0.85"/>
<circle cx="619.4" cy="204.4" r="1.3" fill="#c058ac" fill-opacity="0.85"/>
<circle cx="615.0" cy="199.2" r="1.3" fill="#c058ac" fill-opacity="0.85"/>
<circle cx="676.0" cy="255.0" r="1.3" fill="#c058ac" fill-opacity="0.85"/>
<circle cx="616.7" cy="207.5" r="1.3" fill="#c058ac" fill-opacity="0.85"/>
<circle cx="663.4" cy="252.8" r="1.3" fill="#c058ac" fill-opacity="0.85"/>
<circle cx="625.1" cy="212.4" r="1.3" fill="#c058ac" fill-opacity="0.85"/>
<circle cx="676.0" cy="245.0" r="1.3" fill="#c058ac" fill-opacity="0.85"/>
<circle cx="678.5" cy="255.4" r="1.3" fill="#c058ac" fill-opacity="0.85"/>
<circle cx="653.0" cy="231.0" r="1.3" fill="#c058ac" fill-opacity="0.85"/>
<circle cx="685.1" cy="239.2" r="1.3" fill="#c058ac" fill-opacity="0.85"/>
<circle cx="638.2" cy="229.2" r="1.3" fill="#c058ac" fill-opacity="0.85"/>
<circle cx="673.9" cy="235.6" r="1.3" fill="#c058ac" fill-opacity="0.85"/>
<circle cx="635.2" cy="221.6" r="1.3" fill="#c058ac" fill-opacity="0.85"/>
<circle cx="623.3" cy="208.3" r="1.3" fill="#c058ac" fill-opacity="0.85"/>
<circle cx="614.5" cy="204.0" r="1.3" fill="#c058ac" fill-opacity="0.85"/>
<circle cx="678.8" cy="247.0" r="1.3" fill="#c058ac" fill-opacity="0.85"/>
<circle cx="608.3" cy="198.6" r="1.3" fill="#c058ac" fill-opacity="0.85"/>
<circle cx="680.5" cy="251.2" r="1.3" fill="#c058ac" fill-opacity="0.85"/>
<circle cx="626.7" cy="216.7" r="1.3" fill="#c058ac" fill-opacity="0.85"/>
<circle cx="598.8" cy="180.4" r="1.3" fill="#c058ac" fill-opacity="0.85"/>
<circle cx="658.7" cy="230.5" r="1.3" fill="#c058ac" fill-opacity="0.85"/>
<circle cx="662.8" cy="231.6" r="1.3" fill="#c058ac" fill-opacity="0.85"/>
<circle cx="601.1" cy="183.6" r="1.3" fill="#c058ac" fill-opacity="0.85"/>
<circle cx="670.2" cy="240.6" r="1.3" fill="#c058ac" fill-opacity="0.85"/>
<circle cx="670.4" cy="247.4" r="1.3" fill="#c058ac" fill-opacity="0.85"/>
<circle cx="674.8" cy="245.4" r="1.3" fill="#c058ac" fill-opacity="0.85"/>
<circle cx="679.1" cy="253.9" r="1.3" fill="#c058ac" fill-opacity="0.85"/>
<circle cx="613.9" cy="203.8" r="1.3" fill="#c058ac" fill-opacity="0.85"/>
<circle cx="605.3" cy="196.9" r="1.3" fill="#c058ac" fill-opacity="0.85"/>
<circle cx="669.7" cy="248.1" r="1.3" fill="#c058ac" fill-opacity="0.85"/>
<circle cx="653.3" cy="239.0" r="1.3" fill="#c058ac" fill-opacity="0.85"/>
<circle cx="621.4" cy="207.2" r="1.3" fill="#c058ac" fill-opacity="0.85"/>
<circle cx="604.2" cy="193.8" r="1.3" fill="#c058ac" fill-opacity="0.85"/>
<circle cx="613.9" cy="207.2" r="1.3" fill="#c058ac" fill-opacity="0.85"/>
<circle cx="624.4" cy="213.4" r="1.3" fill="#c058ac" fill-opacity="0.85"/>
<circle cx="618.6" cy="209.6" r="1.3" fill="#c058ac" fill-opacity="0.85"/>
<circle cx="621.0" cy="210.7" r="1.3" fill="#c058ac" fill-opacity="0.85"/>
<circle cx="624.5" cy="210.5" r="1.3" fill="#c058ac" fill-opacity="0.85"/>
<circle cx="683.7" cy="233.3" r="1.3" fill="#c058ac" fill-opacity="0.85"/>
<circle cx="651.9" cy="233.5" r="1.3" fill="#c058ac" fill-opacity="0.85"/>
<circle cx="597.9" cy="176.5" r="1.3" fill="#c058ac" fill-opacity="0.85"/>
<circle cx="666.1" cy="246.9" r="1.3" fill="#c058ac" fill-opacity="0.85"/>
<circle cx="626.9" cy="214.7" r="1.3" fill="#c058ac" fill-opacity="0.85"/>
<circle cx="614.9" cy="201.7" r="1.3" fill="#c058ac" fill-opacity="0.85"/>
<circle cx="674.3" cy="260.8" r="1.3" fill="#c058ac" fill-opacity="0.85"/>
<circle cx="610.7" cy="203.2" r="1.3" fill="#c058ac" fill-opacity="0.85"/>
<circle cx="595.1" cy="171.4" r="1.3" fill="#c058ac" fill-opacity="0.85"/>
<circle cx="685.0" cy="268.5" r="1.3" fill="#c058ac" fill-opacity="0.85"/>
<circle cx="595.4" cy="170.1" r="1.3" fill="#c058ac" fill-opacity="0.85"/>
<circle cx="668.3" cy="244.3" r="1.3" fill="#c058ac" fill-opacity="0.85"/>
<circle cx="612.0" cy="199.7" r="1.3" fill="#c058ac" fill-opacity="0.85"/>
<circle cx="671.5" cy="245.9" r="1.3" fill="#c058ac" fill-opacity="0.85"/>
<circle cx="619.0" cy="212.3" r="1.3" fill="#c058ac" fill-opacity="0.85"/>
<circle cx="614.8" cy="204.3" r="1.3" fill="#c058ac" fill-opacity="0.85"/>
<circle cx="659.4" cy="234.8" r="1.3" fill="#c058ac" fill-opacity="0.85"/>
<circle cx="653.6" cy="234.9" r="1.3" fill="#c058ac" fill-opacity="0.85"/>
<circle cx="602.4" cy="181.0" r="1.3" fill="#fa58aa" fill-opacity="0.85"/>
<circle cx="667.4" cy="211.4" r="1.3" fill="#fa58aa" fill-opacity="0.85"/>
<circle cx="652.8" cy="213.5" r="1.3" fill="#fa58aa" fill-opacity="0.85"/>
<circle cx="631.3" cy="211.4" r="1.3" fill="#fa58aa" fill-opacity="0.85"/>
<circle cx="676.9" cy="243.1" r="1.3" fill="#fa58aa" fill-opacity="0.85"/>
<circle cx="597.3" cy="174.1" r="1.3" fill="#fa58aa" fill-opacity="0.85"/>
<circle cx="614.0" cy="194.2" r="1.3" fill="#fa58aa" fill-opacity="0.85"/>
<circle cx="641.1" cy="224.2" r="1.3" fill="#fa58aa" fill-opacity="0.85"/>
<circle cx="629.9" cy="209.2" r="1.3" fill="#fa58aa" fill-opacity="0.85"/>
<circle cx="637.4" cy="207.9" r="1.3" fill="#fa58aa" fill-opacity="0.85"/>
<circle cx="643.9" cy="213.8" r="1.3" fill="#fa58aa" fill-opacity="0.85"/>
<circle cx="654.5" cy="206.9" r="1.3" fill="#fa58aa" fill-opacity="0.85"/>
<circle cx="627.1" cy="203.7" r="1.3" fill="#fa58aa" fill-opacity="0.85"/>
<circle cx="672.6" cy="229.9" r="1.3" fill="#fa58aa" fill-opacity="0.85"/>
<circle cx="655.9" cy="218.8" r="1.3" fill="#fa58aa" fill-opacity="0.85"/>
<circle cx="635.4" cy="206.5" r="1.3" fill="#fa58aa" fill-opacity="0.85"/>
<circle cx="666.2" cy="219.5" r="1.3" fill="#fa58aa" fill-opacity="0.85"/>
<circle cx="637.5" cy="209.2" r="1.3" fill="#fa58aa" fill-opacity="0.85"/>
<circle cx="676.4" cy="227.2" r="1.3" fill="#fa58aa" fill-opacity="0.85"/>
<circle cx="622.7" cy="204.5" r="1.3" fill="#fa58aa" fill-opacity="0.85"/>
<circle cx="659.7" cy="222.9" r="1.3" fill="#fa58aa" fill-opacity="0.85"/>
<circle cx="609.4" cy="188.6" r="1.3" fill="#fa58aa" fill-opacity="0.85"/>
<circle cx="617.8" cy="196.2" r="1.3" fill="#fa58aa" fill-opacity="0.85"/>
<circle cx="609.8" cy="193.2" r="1.3" fill="#fa58aa" fill-opacity="0.85"/>
<circle cx="625.2" cy="207.8" r="1.3" fill="#fa58aa" fill-opacity="0.85"/>
<circle cx="662.0" cy="240.6" r="1.3" fill="#fa58aa" fill-opacity="0.85"/>
<circle cx="604.4" cy="184.1" r="1.3" fill="#fa58aa" fill-opacity="0.85"/>
<circle cx="630.3" cy="206.6" r="1.3" fill="#fa58aa" fill-opacity="0.85"/>
<circle cx="685.5" cy="234.0" r="1.3" fill="#fa58aa" fill-opacity="0.85"/>
<circle cx="635.0" cy="201.6" r="1.3" fill="#fa58aa" fill-opacity="0.85"/>
<circle cx="613.0" cy="192.9" r="1.3" fill="#fa58aa" fill-opacity="0.85"/>
<circle cx="614.0" cy="193.7" r="1.3" fill="#fa58aa" fill-opacity="0.85"/>
<circle cx="630.7" cy="211.9" r="1.3" fill="#fa58aa" fill-opacity="0.85"/>
<circle cx="667.8" cy="225.5" r="1.3" fill="#fa58aa" fill-opacity="0.85"/>
<circle cx="658.8" cy="209.9" r="1.3" fill="#fa58aa" fill-opacity="0.85"/>
<circle cx="637.6" cy="210.6" r="1.3" fill="#fa58aa" fill-opacity="0.85"/>
<circle cx="608.0" cy="186.1" r="1.3" fill="#fa58aa" fill-opacity="0.85"/>
<circle cx="663.2" cy="217.2" r="1.3" fill="#fa58aa" fill-opacity="0.85"/>
<circle cx="678.5" cy="216.7" r="1.3" fill="#fa58aa" fill-opacity="0.85"/>
<circle cx="663.9" cy="226.5" r="1.3" fill="#fa58aa" fill-opacity="0.85"/>
<circle cx="633.7" cy="209.8" r="1.3" fill="#fa58aa" fill-opacity="0.85"/>
<circle cx="676.0" cy="240.7" r="1.3" fill="#fa58aa" fill-opacity="0.85"/>
<circle cx="666.2" cy="218.3" r="1.3" fill="#fa58aa" fill-opacity="0.85"/>
<circle cx="657.5" cy="206.4" r="1.3" fill="#fa58aa" fill-opacity="0.85"/>
<circle cx="654.0" cy="212.5" r="1.3" fill="#fa58aa" fill-opacity="0.85"/>
<circle cx="652.8" cy="219.3" r="1.3" fill="#fa58aa" fill-opacity="0.85"/>
<circle cx="604.0" cy="179.5" r="1.3" fill="#fa58aa" fill-opacity="0.85"/>
<circle cx="660.6" cy="227.2" r="1.3" fill="#fa58aa" fill-opacity="0.85"/>
<circle cx="652.9" cy="217.7" r="1.3" fill="#fa58aa" fill-opacity="0.85"/>
<circle cx="636.9" cy="215.7" r="1.3" fill="#fa58aa" fill-opacity="0.85"/>
<circle cx="652.2" cy="209.0" r="1.3" fill="#fa58aa" fill-opacity="0.85"/>
<circle cx="680.6" cy="235.6" r="1.3" fill="#fa58aa" fill-opacity="0.85"/>
<circle cx="611.8" cy="189.8" r="1.3" fill="#fa58aa" fill-opacity="0.85"/>
<circle cx="630.8" cy="200.8" r="1.3" fill="#fa58aa" fill-opacity="0.85"/>
<circle cx="640.1" cy="213.2" r="1.3" fill="#fa58aa" fill-opacity="0.85"/>
<circle cx="645.0" cy="213.8" r="1.3" fill="#fa58aa" fill-opacity="0.85"/>
<circle cx="609.8" cy="191.7" r="1.3" fill="#fa58aa" fill-opacity="0.85"/>
<circle cx="642.8" cy="199.7" r="1.3" fill="#fa58aa" fill-opacity="0.85"/>
<circle cx="604.3" cy="180.7" r="1.3" fill="#fa58aa" fill-opacity="0.85"/>
<circle cx="661.0" cy="216.9" r="1.3" fill="#fa58aa" fill-opacity="0.85"/>
<circle cx="642.1" cy="205.9" r="1.3" fill="#fa58aa" fill-opacity="0.85"/>
<circle cx="643.0" cy="204.8" r="1.3" fill="#fa58aa" fill-opacity="0.85"/>
<circle cx="632.8" cy="211.4" r="1.3" fill="#fa58aa" fill-opacity="0.85"/>
<circle cx="658.0" cy="218.3" r="1.3" fill="#fa58aa" fill-opacity="0.85"/>
<circle cx="631.1" cy="207.7" r="1.3" fill="#fa58aa" fill-opacity="0.85"/>
<circle cx="685.6" cy="224.6" r="1.3" fill="#fa58aa" fill-opacity="0.85"/>
<circle cx="627.7" cy="208.5" r="1.3" fill="#fa58aa" fill-opacity="0.85"/>
<circle cx="631.8" cy="209.2" r="1.3" fill="#fa58aa" fill-opacity="0.85"/>
<circle cx="596.2" cy="169.6" r="1.3" fill="#fa58aa" fill-opacity="0.85"/>
<circle cx="659.2" cy="224.1" r="1.3" fill="#fa58aa" fill-opacity="0.85"/>
<circle cx="627.4" cy="204.8" r="1.3" fill="#fa58aa" fill-opacity="0.85"/>
<circle cx="663.2" cy="227.4" r="1.3" fill="#fa58aa" fill-opacity="0.85"/>
<circle cx="681.5" cy="221.8" r="1.3" fill="#fa58aa" fill-opacity="0.85"/>
<circle cx="668.7" cy="223.1" r="1.3" fill="#fa58aa" fill-opacity="0.85"/>
<circle cx="631.1" cy="208.1" r="1.3" fill="#fa58aa" fill-opacity="0.85"/>
<circle cx="666.4" cy="227.3" r="1.3" fill="#fa58aa" fill-opacity="0.85"/>
<circle cx="669.5" cy="218.2" r="1.3" fill="#fa58aa" fill-opacity="0.85"/>
<circle cx="646.7" cy="209.8" r="1.3" fill="#fa58aa" fill-opacity="0.85"/>
<circle cx="615.8" cy="199.5" r="1.3" fill="#fa58aa" fill-opacity="0.85"/>
<circle cx="653.8" cy="216.7" r="1.3" fill="#fa58aa" fill-opacity="0.85"/>
<circle cx="670.3" cy="228.5" r="1.3" fill="#fa58aa" fill-opacity="0.85"/>
<circle cx="622.1" cy="197.6" r="1.3" fill="#fa58aa" fill-opacity="0.85"/>
<circle cx="645.4" cy="222.3" r="1.3" fill="#fa58aa" fill-opacity="0.85"/>
<circle cx="627.6" cy="211.0" r="1.3" fill="#fa58aa" fill-opacity="0.85"/>
<circle cx="673.3" cy="224.8" r="1.3" fill="#fa58aa" fill-opacity="0.85"/>
<circle cx="618.3" cy="201.9" r="1.3" fill="#fa58aa" fill-opacity="0.85"/>
<circle cx="634.2" cy="209.1" r="1.3" fill="#fa58aa" fill-opacity="0.85"/>
<circle cx="661.4" cy="221.8" r="1.3" fill="#fa58aa" fill-opacity="0.85"/>
<circle cx="620.9" cy="200.6" r="1.3" fill="#fa58aa" fill-opacity="0.85"/>
<circle cx="639.1" cy="215.9" r="1.3" fill="#fa58aa" fill-opacity="0.85"/>
<circle cx="634.4" cy="204.4" r="1.3" fill="#fa58aa" fill-opacity="0.85"/>
<circle cx="628.3" cy="200.9" r="1.3" fill="#fa58aa" fill-opacity="0.85"/>
<circle cx="680.4" cy="230.0" r="1.3" fill="#fa58aa" fill-opacity="0.85"/>
<circle cx="671.2" cy="222.7" r="1.3" fill="#fa58aa" fill-opacity="0.85"/>
<circle cx="678.3" cy="228.5" r="1.3" fill="#fa58aa" fill-opacity="0.85"/>
<circle cx="671.5" cy="220.5" r="1.3" fill="#fa58aa" fill-opacity="0.85"/>
<circle cx="653.3" cy="218.9" r="1.3" fill="#fa58aa" fill-opacity="0.85"/>
<circle cx="682.6" cy="228.8" r="1.3" fill="#fa58aa" fill-opacity="0.85"/>
<circle cx="655.3" cy="218.7" r="1.3" fill="#fa58aa" fill-opacity="0.85"/>
<circle cx="608.1" cy="189.3" r="1.3" fill="#fa58aa" fill-opacity="0.85"/>
<circle cx="616.5" cy="197.6" r="1.3" fill="#fa58aa" fill-opacity="0.85"/>
<circle cx="609.0" cy="187.1" r="1.3" fill="#fa58aa" fill-opacity="0.85"/>
<circle cx="678.2" cy="228.8" r="1.3" fill="#fa58aa" fill-opacity="0.85"/>
<circle cx="677.0" cy="221.7" r="1.3" fill="#fa58aa" fill-opacity="0.85"/>
<circle cx="651.0" cy="218.8" r="1.3" fill="#fa58aa" fill-opacity="0.85"/>
<circle cx="677.2" cy="213.9" r="1.3" fill="#fa58aa" fill-opacity="0.85"/>
<circle cx="667.5" cy="226.5" r="1.3" fill="#fa58aa" fill-opacity="0.85"/>
<circle cx="658.7" cy="216.1" r="1.3" fill="#fa58aa" fill-opacity="0.85"/>
<circle cx="643.8" cy="213.2" r="1.3" fill="#fa58aa" fill-opacity="0.85"/>
<circle cx="676.2" cy="217.2" r="1.3" fill="#fa58aa" fill-opacity="0.85"/>
<circle cx="646.1" cy="214.2" r="1.3" fill="#fa58aa" fill-opacity="0.85"/>
<circle cx="607.8" cy="189.5" r="1.3" fill="#fa58aa" fill-opacity="0.85"/>
<circle cx="640.4" cy="217.6" r="1.3" fill="#fa58aa" fill-opacity="0.85"/>
<circle cx="608.3" cy="189.4" r="1.3" fill="#fa58aa" fill-opacity="0.85"/>
<circle cx="640.2" cy="205.0" r="1.3" fill="#fa58aa" fill-opacity="0.85"/>
<circle cx="674.4" cy="226.2" r="1.3" fill="#fa58aa" fill-opacity="0.85"/>
<circle cx="595.6" cy="170.6" r="1.3" fill="#fa58aa" fill-opacity="0.85"/>
<circle cx="646.8" cy="209.2" r="1.3" fill="#fa58aa" fill-opacity="0.85"/>
<circle cx="656.2" cy="222.8" r="1.3" fill="#fa58aa" fill-opacity="0.85"/>
<circle cx="633.5" cy="204.7" r="1.3" fill="#fa58aa" fill-opacity="0.85"/>
<circle cx="683.4" cy="241.1" r="1.3" fill="#fa58aa" fill-opacity="0.85"/>
<circle cx="653.5" cy="222.4" r="1.3" fill="#fa58aa" fill-opacity="0.85"/>
<circle cx="597.6" cy="171.3" r="1.3" fill="#fa58aa" fill-opacity="0.85"/>
<circle cx="680.7" cy="219.1" r="1.3" fill="#fa58aa" fill-opacity="0.85"/>
<circle cx="625.4" cy="208.6" r="1.3" fill="#fa58aa" fill-opacity="0.85"/>
<circle cx="639.6" cy="210.8" r="1.3" fill="#fa58aa" fill-opacity="0.85"/>
<circle cx="677.6" cy="241.2" r="1.3" fill="#fa58aa" fill-opacity="0.85"/>
<circle cx="652.5" cy="219.8" r="1.3" fill="#fa58aa" fill-opacity="0.85"/>
<circle cx="626.2" cy="206.9" r="1.3" fill="#fa58aa" fill-opacity="0.85"/>
<circle cx="638.7" cy="207.2" r="1.3" fill="#fa58aa" fill-opacity="0.85"/>
<circle cx="643.3" cy="213.8" r="1.3" fill="#fa58aa" fill-opacity="0.85"/>
<circle cx="635.0" cy="206.0" r="1.3" fill="#fa58aa" fill-opacity="0.85"/>
<circle cx="633.9" cy="200.2" r="1.3" fill="#fa58aa" fill-opacity="0.85"/>
<circle cx="621.9" cy="199.0" r="1.3" fill="#fa58aa" fill-opacity="0.85"/>
<circle cx="671.2" cy="216.7" r="1.3" fill="#fa58aa" fill-opacity="0.85"/>
<circle cx="620.0" cy="202.3" r="1.3" fill="#fa58aa" fill-opacity="0.85"/>
<circle cx="641.6" cy="220.6" r="1.3" fill="#fa58aa" fill-opacity="0.85"/>
<circle cx="667.9" cy="221.9" r="1.3" fill="#fa58aa" fill-opacity="0.85"/>
<circle cx="625.4" cy="202.4" r="1.3" fill="#fa58aa" fill-opacity="0.85"/>
<circle cx="649.0" cy="220.9" r="1.3" fill="#fa58aa" fill-opacity="0.85"/>
<circle cx="653.4" cy="218.3" r="1.3" fill="#fa58aa" fill-opacity="0.85"/>
<circle cx="661.5" cy="219.2" r="1.3" fill="#fa58aa" fill-opacity="0.85"/>
<circle cx="676.5" cy="224.1" r="1.3" fill="#fa58aa" fill-opacity="0.85"/>
<circle cx="622.6" cy="201.6" r="1.3" fill="#fa58aa" fill-opacity="0.85"/>
<circle cx="595.6" cy="170.8" r="1.3" fill="#fa58aa" fill-opacity="0.85"/>
<circle cx="651.0" cy="230.6" r="1.3" fill="#fa58aa" fill-opacity="0.85"/>
<circle cx="655.5" cy="222.5" r="1.3" fill="#fa58aa" fill-opacity="0.85"/>
<circle cx="651.3" cy="203.1" r="1.3" fill="#fa58aa" fill-opacity="0.85"/>
<circle cx="651.7" cy="210.1" r="1.3" fill="#fa58aa" fill-opacity="0.85"/>
<circle cx="649.9" cy="209.4" r="1.3" fill="#fa58aa" fill-opacity="0.85"/>
<circle cx="657.7" cy="222.2" r="1.3" fill="#fa58aa" fill-opacity="0.85"/>
<circle cx="637.1" cy="217.9" r="1.3" fill="#fa58aa" fill-opacity="0.85"/>
<circle cx="665.2" cy="226.7" r="1.3" fill="#fa58aa" fill-opacity="0.85"/>
<circle cx="598.4" cy="174.8" r="1.3" fill="#fa58aa" fill-opacity="0.85"/>
<circle cx="666.3" cy="233.1" r="1.3" fill="#fa58aa" fill-opacity="0.85"/>
<circle cx="628.9" cy="202.8" r="1.3" fill="#fa58aa" fill-opacity="0.85"/>
<circle cx="670.7" cy="227.2" r="1.3" fill="#fa58aa" fill-opacity="0.85"/>
<circle cx="618.7" cy="194.6" r="1.3" fill="#fa58aa" fill-opacity="0.85"/>
<circle cx="622.8" cy="199.1" r="1.3" fill="#fa58aa" fill-opacity="0.85"/>
<circle cx="634.6" cy="211.2" r="1.3" fill="#fa58aa" fill-opacity="0.85"/>
<circle cx="654.0" cy="220.3" r="1.3" fill="#fa58aa" fill-opacity="0.85"/>
<circle cx="647.2" cy="214.3" r="1.3" fill="#fa58aa" fill-opacity="0.85"/>
<circle cx="598.6" cy="176.7" r="1.3" fill="#fa58aa" fill-opacity="0.85"/>
<circle cx="647.9" cy="223.2" r="1.3" fill="#fa58aa" fill-opacity="0.85"/>
<circle cx="679.5" cy="226.3" r="1.3" fill="#fa58aa" fill-opacity="0.85"/>
<circle cx="630.6" cy="207.5" r="1.3" fill="#fa58aa" fill-opacity="0.85"/>
<circle cx="649.5" cy="232.8" r="1.3" fill="#fa58aa" fill-opacity="0.85"/>
<circle cx="638.7" cy="205.4" r="1.3" fill="#fa58aa" fill-opacity="0.85"/>
<circle cx="632.9" cy="213.9" r="1.3" fill="#fa58aa" fill-opacity="0.85"/>
<circle cx="614.5" cy="197.9" r="1.3" fill="#fa58aa" fill-opacity="0.85"/>
<circle cx="609.0" cy="189.6" r="1.3" fill="#fa58aa" fill-opacity="0.85"/>
<circle cx="657.9" cy="219.9" r="1.3" fill="#fa58aa" fill-opacity="0.85"/>
<circle cx="606.2" cy="186.6" r="1.3" fill="#fa58aa" fill-opacity="0.85"/>
<circle cx="675.0" cy="225.5" r="1.3" fill="#fa58aa" fill-opacity="0.85"/>
<circle cx="606.9" cy="190.2" r="1.3" fill="#fa58aa" fill-opacity="0.85"/>
<circle cx="617.3" cy="198.3" r="1.3" fill="#fa58aa" fill-opacity="0.85"/>
<circle cx="662.5" cy="222.6" r="1.3" fill="#fa58aa" fill-opacity="0.85"/>
<circle cx="666.2" cy="225.5" r="1.3" fill="#fa58aa" fill-opacity="0.85"/>
<circle cx="660.6" cy="228.4" r="1.3" fill="#fa58aa" fill-opacity="0.85"/>
<circle cx="602.8" cy="178.3" r="1.3" fill="#fa58aa" fill-opacity="0.85"/>
<circle cx="652.8" cy="215.8" r="1.3" fill="#fa58aa" fill-opacity="0.85"/>
<circle cx="680.8" cy="218.1" r="1.3" fill="#fa58aa" fill-opacity="0.85"/>
<circle cx="618.4" cy="203.9" r="1.3" fill="#fa58aa" fill-opacity="0.85"/>
<circle cx="596.0" cy="170.1" r="1.3" fill="#fa58aa" fill-opacity="0.85"/>
<circle cx="596.4" cy="169.6" r="1.3" fill="#fa58aa" fill-opacity="0.85"/>
<circle cx="602.3" cy="177.3" r="1.3" fill="#fa58aa" fill-opacity="0.85"/>
<circle cx="623.6" cy="202.3" r="1.3" fill="#fa58aa" fill-opacity="0.85"/>
<circle cx="674.2" cy="220.8" r="1.3" fill="#fa58aa" fill-opacity="0.85"/>
<circle cx="639.7" cy="216.4" r="1.3" fill="#fa58aa" fill-opacity="0.85"/>
<circle cx="647.9" cy="217.7" r="1.3" fill="#fa58aa" fill-opacity="0.85"/>
<circle cx="635.4" cy="208.3" r="1.3" fill="#fa58aa" fill-opacity="0.85"/>
<circle cx="668.4" cy="219.9" r="1.3" fill="#fa58aa" fill-opacity="0.85"/>
<circle cx="628.4" cy="202.0" r="1.3" fill="#fa58aa" fill-opacity="0.85"/>
<circle cx="633.5" cy="203.2" r="1.3" fill="#fa58aa" fill-opacity="0.85"/>
<circle cx="630.5" cy="209.6" r="1.3" fill="#fa58aa" fill-opacity="0.85"/>
<circle cx="667.2" cy="204.6" r="1.3" fill="#fa58aa" fill-opacity="0.85"/>
<circle cx="647.1" cy="214.6" r="1.3" fill="#fa58aa" fill-opacity="0.85"/>
<circle cx="684.6" cy="232.6" r="1.3" fill="#fa58aa" fill-opacity="0.85"/>
<circle cx="659.7" cy="223.7" r="1.3" fill="#fa58aa" fill-opacity="0.85"/>
<circle cx="650.7" cy="211.7" r="1.3" fill="#fa58aa" fill-opacity="0.85"/>
<circle cx="684.9" cy="235.8" r="1.3" fill="#fa58aa" fill-opacity="0.85"/>
<circle cx="623.4" cy="197.8" r="1.3" fill="#fa58aa" fill-opacity="0.85"/>
<circle cx="634.4" cy="212.8" r="1.3" fill="#fa58aa" fill-opacity="0.85"/>
<circle cx="658.0" cy="215.3" r="1.3" fill="#fa58aa" fill-opacity="0.85"/>
<circle cx="650.4" cy="226.0" r="1.3" fill="#fa58aa" fill-opacity="0.85"/>
<circle cx="621.1" cy="196.6" r="1.3" fill="#fa58aa" fill-opacity="0.85"/>
<circle cx="595.2" cy="169.0" r="1.3" fill="#fa58aa" fill-opacity="0.85"/>
<circle cx="649.0" cy="222.6" r="1.3" fill="#fa58aa" fill-opacity="0.85"/>
<circle cx="670.1" cy="226.4" r="1.3" fill="#fa58aa" fill-opacity="0.85"/>
<circle cx="671.7" cy="223.5" r="1.3" fill="#fa58aa" fill-opacity="0.85"/>
<polyline points="594.90,177.00 596.50,186.00 598.50,194.00 600.60,201.20 604.00,208.50 608.20,214.50 615.00,223.00 623.40,231.60 631.00,238.50 638.60,245.70 646.00,253.00 653.80,260.20 661.00,266.50 669.00,275.40 674.00,281.00" fill="none" stroke="#1f2a94" stroke-width="1.3"/>
<polyline points="594.90,175.00 597.00,182.50 600.50,190.00 604.40,196.00 610.00,203.50 615.80,210.70 623.00,218.50 631.00,225.90 640.00,234.00 650.00,241.20 660.00,247.50 669.00,253.30 677.00,258.00 686.00,263.00" fill="none" stroke="#5a2a94" stroke-width="1.3"/>
<polyline points="594.90,171.00 598.00,179.00 602.00,188.00 607.00,196.50 612.00,203.10 620.00,211.50 631.00,220.20 640.00,227.00 650.00,233.50 660.00,239.50 669.00,245.00 677.00,249.50 686.00,254.00" fill="none" stroke="#a82c94" stroke-width="1.3"/>
<polyline points="594.90,169.50 599.00,176.00 604.40,184.00 610.00,191.50 615.80,197.40 623.00,203.00 631.00,208.30 640.00,212.50 650.00,217.30 660.00,221.50 669.00,225.00 677.00,227.80 686.00,230.50" fill="none" stroke="#ff2c90" stroke-width="1.3"/>
</g>
<rect x="594.6" y="167.3" width="88.19999999999993" height="111.89999999999998" fill="none" stroke="#1a1a1a" stroke-width="0.85"/>
<line x1="594.60" y1="279.20" x2="594.60" y2="276.60" stroke="#222" stroke-width="0.75"/>
<line x1="594.60" y1="167.30" x2="594.60" y2="169.90" stroke="#222" stroke-width="0.75"/>
<text x="594.60" y="288.70" font-size="7.2" text-anchor="middle" fill="#222" font-weight="normal" stroke="#222" stroke-width="0.1" >0</text>
<line x1="614.36" y1="279.20" x2="614.36" y2="276.60" stroke="#222" stroke-width="0.75"/>
<line x1="614.36" y1="167.30" x2="614.36" y2="169.90" stroke="#222" stroke-width="0.75"/>
<text x="614.36" y="288.70" font-size="7.2" text-anchor="middle" fill="#222" font-weight="normal" stroke="#222" stroke-width="0.1" >0.4</text>
<line x1="634.12" y1="279.20" x2="634.12" y2="276.60" stroke="#222" stroke-width="0.75"/>
<line x1="634.12" y1="167.30" x2="634.12" y2="169.90" stroke="#222" stroke-width="0.75"/>
<text x="634.12" y="288.70" font-size="7.2" text-anchor="middle" fill="#222" font-weight="normal" stroke="#222" stroke-width="0.1" >0.8</text>
<line x1="653.88" y1="279.20" x2="653.88" y2="276.60" stroke="#222" stroke-width="0.75"/>
<line x1="653.88" y1="167.30" x2="653.88" y2="169.90" stroke="#222" stroke-width="0.75"/>
<text x="653.88" y="288.70" font-size="7.2" text-anchor="middle" fill="#222" font-weight="normal" stroke="#222" stroke-width="0.1" >1.2</text>
<line x1="673.64" y1="279.20" x2="673.64" y2="276.60" stroke="#222" stroke-width="0.75"/>
<line x1="673.64" y1="167.30" x2="673.64" y2="169.90" stroke="#222" stroke-width="0.75"/>
<text x="673.64" y="288.70" font-size="7.2" text-anchor="middle" fill="#222" font-weight="normal" stroke="#222" stroke-width="0.1" >1.6</text>
<line x1="594.60" y1="169.20" x2="596.60" y2="169.20" stroke="#222" stroke-width="0.6"/>
<line x1="682.80" y1="169.20" x2="680.80" y2="169.20" stroke="#222" stroke-width="0.6"/>
<line x1="594.60" y1="207.64" x2="595.70" y2="207.64" stroke="#222" stroke-width="0.5"/>
<line x1="682.80" y1="207.64" x2="681.70" y2="207.64" stroke="#222" stroke-width="0.5"/>
<line x1="594.60" y1="197.96" x2="595.70" y2="197.96" stroke="#222" stroke-width="0.5"/>
<line x1="682.80" y1="197.96" x2="681.70" y2="197.96" stroke="#222" stroke-width="0.5"/>
<line x1="594.60" y1="191.09" x2="595.70" y2="191.09" stroke="#222" stroke-width="0.5"/>
<line x1="682.80" y1="191.09" x2="681.70" y2="191.09" stroke="#222" stroke-width="0.5"/>
<line x1="594.60" y1="185.76" x2="595.70" y2="185.76" stroke="#222" stroke-width="0.5"/>
<line x1="682.80" y1="185.76" x2="681.70" y2="185.76" stroke="#222" stroke-width="0.5"/>
<line x1="594.60" y1="181.40" x2="595.70" y2="181.40" stroke="#222" stroke-width="0.5"/>
<line x1="682.80" y1="181.40" x2="681.70" y2="181.40" stroke="#222" stroke-width="0.5"/>
<line x1="594.60" y1="177.72" x2="595.70" y2="177.72" stroke="#222" stroke-width="0.5"/>
<line x1="682.80" y1="177.72" x2="681.70" y2="177.72" stroke="#222" stroke-width="0.5"/>
<line x1="594.60" y1="174.53" x2="595.70" y2="174.53" stroke="#222" stroke-width="0.5"/>
<line x1="682.80" y1="174.53" x2="681.70" y2="174.53" stroke="#222" stroke-width="0.5"/>
<line x1="594.60" y1="171.72" x2="595.70" y2="171.72" stroke="#222" stroke-width="0.5"/>
<line x1="682.80" y1="171.72" x2="681.70" y2="171.72" stroke="#222" stroke-width="0.5"/>
<text x="586.50" y="172.50" font-size="7.2" text-anchor="end" fill="#222" font-weight="normal" stroke="#222" stroke-width="0.1" >10</text>
<text x="586.90" y="169.00" font-size="5" text-anchor="start" fill="#222" font-weight="normal" stroke="#222" stroke-width="0.1" >0</text>
<line x1="594.60" y1="224.20" x2="596.60" y2="224.20" stroke="#222" stroke-width="0.6"/>
<line x1="682.80" y1="224.20" x2="680.80" y2="224.20" stroke="#222" stroke-width="0.6"/>
<line x1="594.60" y1="262.64" x2="595.70" y2="262.64" stroke="#222" stroke-width="0.5"/>
<line x1="682.80" y1="262.64" x2="681.70" y2="262.64" stroke="#222" stroke-width="0.5"/>
<line x1="594.60" y1="252.96" x2="595.70" y2="252.96" stroke="#222" stroke-width="0.5"/>
<line x1="682.80" y1="252.96" x2="681.70" y2="252.96" stroke="#222" stroke-width="0.5"/>
<line x1="594.60" y1="246.09" x2="595.70" y2="246.09" stroke="#222" stroke-width="0.5"/>
<line x1="682.80" y1="246.09" x2="681.70" y2="246.09" stroke="#222" stroke-width="0.5"/>
<line x1="594.60" y1="240.76" x2="595.70" y2="240.76" stroke="#222" stroke-width="0.5"/>
<line x1="682.80" y1="240.76" x2="681.70" y2="240.76" stroke="#222" stroke-width="0.5"/>
<line x1="594.60" y1="236.40" x2="595.70" y2="236.40" stroke="#222" stroke-width="0.5"/>
<line x1="682.80" y1="236.40" x2="681.70" y2="236.40" stroke="#222" stroke-width="0.5"/>
<line x1="594.60" y1="232.72" x2="595.70" y2="232.72" stroke="#222" stroke-width="0.5"/>
<line x1="682.80" y1="232.72" x2="681.70" y2="232.72" stroke="#222" stroke-width="0.5"/>
<line x1="594.60" y1="229.53" x2="595.70" y2="229.53" stroke="#222" stroke-width="0.5"/>
<line x1="682.80" y1="229.53" x2="681.70" y2="229.53" stroke="#222" stroke-width="0.5"/>
<line x1="594.60" y1="226.72" x2="595.70" y2="226.72" stroke="#222" stroke-width="0.5"/>
<line x1="682.80" y1="226.72" x2="681.70" y2="226.72" stroke="#222" stroke-width="0.5"/>
<text x="586.50" y="227.50" font-size="7.2" text-anchor="end" fill="#222" font-weight="normal" stroke="#222" stroke-width="0.1" >10</text>
<text x="586.90" y="224.00" font-size="5" text-anchor="start" fill="#222" font-weight="normal" stroke="#222" stroke-width="0.1" >-1</text>
<line x1="594.60" y1="279.20" x2="596.60" y2="279.20" stroke="#222" stroke-width="0.6"/>
<line x1="682.80" y1="279.20" x2="680.80" y2="279.20" stroke="#222" stroke-width="0.6"/>
<text x="586.50" y="282.50" font-size="7.2" text-anchor="end" fill="#222" font-weight="normal" stroke="#222" stroke-width="0.1" >10</text>
<text x="586.90" y="279.00" font-size="5" text-anchor="start" fill="#222" font-weight="normal" stroke="#222" stroke-width="0.1" >-2</text>
<text x="639.20" y="299.00" font-size="8" text-anchor="middle" fill="#222" font-weight="normal" stroke="#222" stroke-width="0.1" >Time (ns)</text>
<text x="571.30" y="224.90" font-size="8.2" text-anchor="middle" fill="#222" font-weight="normal" stroke="#222" stroke-width="0.1" dominant-baseline="central" transform="rotate(-90 571.3 224.9)">Normalized Counts (arb. units)</text>
<circle cx="601" cy="243.2" r="2" fill="#4a5aae"/>
<text x="606.20" y="245.70" font-size="7.2" text-anchor="start" fill="#111" font-weight="normal" stroke="#111" stroke-width="0.1" >2L/3L</text>
<circle cx="601" cy="252.2" r="2" fill="#8c5ab0"/>
<text x="606.20" y="254.70" font-size="7.2" text-anchor="start" fill="#111" font-weight="normal" stroke="#111" stroke-width="0.1" >2L/4L</text>
<circle cx="601" cy="261.2" r="2" fill="#c058ac"/>
<text x="606.20" y="263.70" font-size="7.2" text-anchor="start" fill="#111" font-weight="normal" stroke="#111" stroke-width="0.1" >2L/5L</text>
<circle cx="601" cy="270.1" r="2" fill="#fa58aa"/>
<text x="606.20" y="272.60" font-size="7.2" text-anchor="start" fill="#111" font-weight="normal" stroke="#111" stroke-width="0.1" >2L/6L</text>
</svg></body></html>
